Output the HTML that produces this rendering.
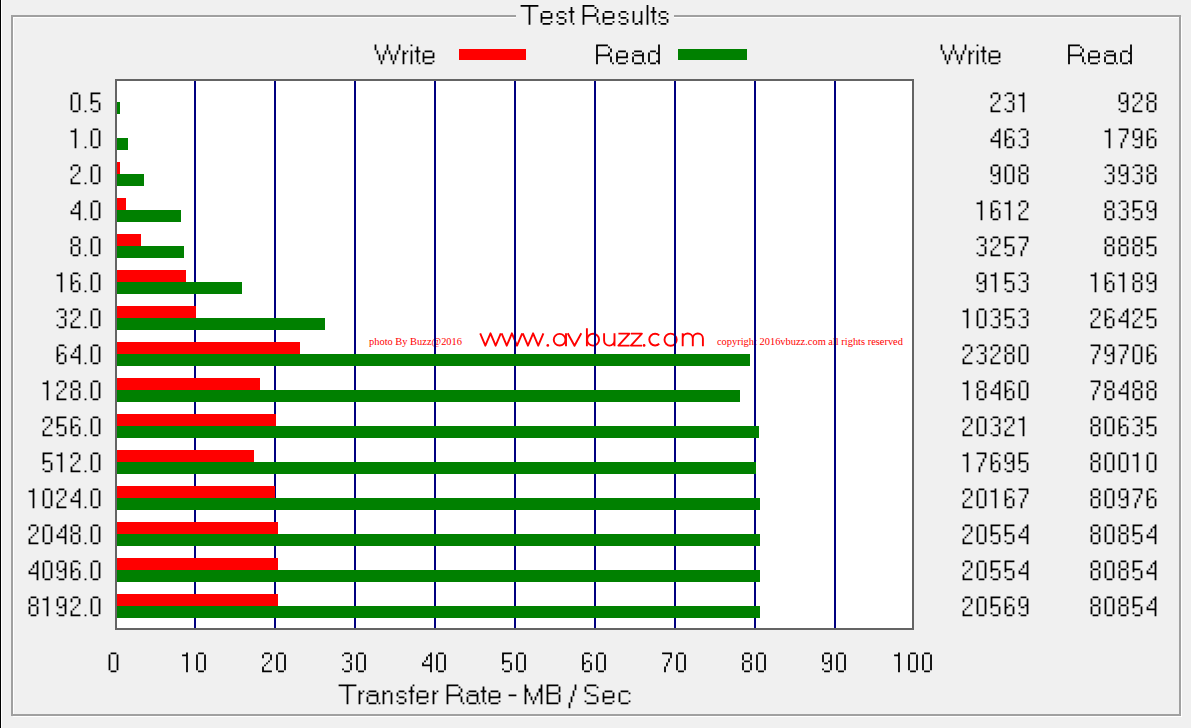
<!DOCTYPE html>
<html><head><meta charset="utf-8"><style>
html,body{margin:0;padding:0;}
body{width:1191px;height:728px;overflow:hidden;background:#f0f0f0;position:relative;font-family:"Liberation Sans",sans-serif;}
.t{position:absolute;white-space:nowrap;line-height:1;transform-origin:0 0;}
.r{position:absolute;}
svg.txt{position:absolute;left:0;top:0;width:1191px;height:728px;}
</style></head><body>
<div class="r" style="left:0;top:0;width:1px;height:728px;background:#000"></div>
<div class="r" style="left:1px;top:0;width:1px;height:728px;background:#fff"></div>
<div class="r" style="left:13px;top:17px;width:1169px;height:700px;border:1px solid #fff;box-sizing:border-box"></div>
<div class="r" style="left:11px;top:15px;width:1170px;height:701px;border:2px solid #a0a0a0;box-sizing:border-box"></div>
<div class="r" style="left:516px;top:8px;width:158px;height:14px;background:#f0f0f0"></div>
<div class="r" style="left:459px;top:49px;width:67px;height:11px;background:#f00"></div>
<div class="r" style="left:678px;top:49px;width:69px;height:11px;background:#008000"></div>
<div class="r" style="left:115px;top:79px;width:799px;height:551px;background:#fff;border:2px solid #646464;box-sizing:border-box"></div>
<div class="t" style="left:369.39px;top:337.28px;font-size:10.60px;font-family:&quot;Liberation Serif&quot;;transform:scaleX(0.9838);color:#f00;-webkit-text-stroke:0">photo By Buzz@2016</div>
<svg class="txt" viewBox="0 0 1191 728"><path fill="none" stroke="#f00" stroke-width="1.9" stroke-linejoin="round" d="M480.20,333.30 L485.35,345.70 L490.50,333.30 L495.65,345.70 L500.80,333.30 M501.60,333.30 L506.75,345.70 L511.90,333.30 L517.05,345.70 L522.20,333.30 M522.80,333.30 L527.95,345.70 L533.10,333.30 L538.25,345.70 L543.40,333.30 M566,333.2 V346.3 M581.3,333.3 L574.5,345.8 L567.7,333.3 M586.9,328.3 V346.3 M604.1,333.3 V340.4 A5.2,5.2 0 0 0 614.5,340.4 V333.3 M614.5,340 V346.3 M618.4,333.6 H629.4 L618.4,345.6 H629.6 M630.9,333.6 H641.9 L630.9,345.6 H642.1 M659.2,335.4 A5.85,5.85 0 1 0 659.2,343.8 M682.7,346.3 V333.3 M682.7,338.6 A5.05,5.05 0 0 1 692.8,338.6 V346.3 M692.8,338.6 A5.05,5.05 0 0 1 702.9,338.6 V346.3"/><circle cx="559.6" cy="339.7" r="5.85" fill="none" stroke="#f00" stroke-width="1.9"/><circle cx="593.1" cy="339.7" r="5.95" fill="none" stroke="#f00" stroke-width="1.9"/><circle cx="670.6" cy="339.7" r="6.1" fill="none" stroke="#f00" stroke-width="1.9"/><circle cx="547.8" cy="345.4" r="1.35" fill="#f00"/><circle cx="644.1" cy="345.4" r="1.35" fill="#f00"/></svg>
<div class="t" style="left:717.18px;top:337.46px;font-size:10.40px;font-family:&quot;Liberation Serif&quot;;transform:scaleX(1.0021);color:#f00;-webkit-text-stroke:0">copyright 2016vbuzz.com all rights reserved</div>
<div class="r" style="left:194px;top:81px;width:2px;height:547px;background:#000080"></div>
<div class="r" style="left:274px;top:81px;width:2px;height:547px;background:#000080"></div>
<div class="r" style="left:354px;top:81px;width:2px;height:547px;background:#000080"></div>
<div class="r" style="left:434px;top:81px;width:2px;height:547px;background:#000080"></div>
<div class="r" style="left:514px;top:81px;width:2px;height:547px;background:#000080"></div>
<div class="r" style="left:594px;top:81px;width:2px;height:547px;background:#000080"></div>
<div class="r" style="left:674px;top:81px;width:2px;height:547px;background:#000080"></div>
<div class="r" style="left:754px;top:81px;width:2px;height:547px;background:#000080"></div>
<div class="r" style="left:834px;top:81px;width:2px;height:547px;background:#000080"></div>
<div class="r" style="left:117px;top:102px;width:3px;height:12px;background:#008000"></div>
<div class="r" style="left:117px;top:138px;width:11px;height:12px;background:#008000"></div>
<div class="r" style="left:117px;top:162px;width:3px;height:12px;background:#f00"></div>
<div class="r" style="left:117px;top:174px;width:27px;height:12px;background:#008000"></div>
<div class="r" style="left:117px;top:198px;width:9px;height:12px;background:#f00"></div>
<div class="r" style="left:117px;top:210px;width:64px;height:12px;background:#008000"></div>
<div class="r" style="left:117px;top:234px;width:24px;height:12px;background:#f00"></div>
<div class="r" style="left:117px;top:246px;width:67px;height:12px;background:#008000"></div>
<div class="r" style="left:117px;top:270px;width:69px;height:12px;background:#f00"></div>
<div class="r" style="left:117px;top:282px;width:125px;height:12px;background:#008000"></div>
<div class="r" style="left:117px;top:306px;width:79px;height:12px;background:#f00"></div>
<div class="r" style="left:117px;top:318px;width:208px;height:12px;background:#008000"></div>
<div class="r" style="left:117px;top:342px;width:183px;height:12px;background:#f00"></div>
<div class="r" style="left:117px;top:354px;width:633px;height:12px;background:#008000"></div>
<div class="r" style="left:117px;top:378px;width:143px;height:12px;background:#f00"></div>
<div class="r" style="left:117px;top:390px;width:623px;height:12px;background:#008000"></div>
<div class="r" style="left:117px;top:414px;width:159px;height:12px;background:#f00"></div>
<div class="r" style="left:117px;top:426px;width:642px;height:12px;background:#008000"></div>
<div class="r" style="left:117px;top:450px;width:137px;height:12px;background:#f00"></div>
<div class="r" style="left:117px;top:462px;width:639px;height:12px;background:#008000"></div>
<div class="r" style="left:117px;top:486px;width:158px;height:12px;background:#f00"></div>
<div class="r" style="left:117px;top:498px;width:643px;height:12px;background:#008000"></div>
<div class="r" style="left:117px;top:522px;width:161px;height:12px;background:#f00"></div>
<div class="r" style="left:117px;top:534px;width:643px;height:12px;background:#008000"></div>
<div class="r" style="left:117px;top:558px;width:161px;height:12px;background:#f00"></div>
<div class="r" style="left:117px;top:570px;width:643px;height:12px;background:#008000"></div>
<div class="r" style="left:117px;top:594px;width:161px;height:12px;background:#f00"></div>
<div class="r" style="left:117px;top:606px;width:643px;height:12px;background:#008000"></div>
<svg class="txt" viewBox="0 0 1191 728"><path fill="#000" d="M520.6 5h17.8v1.8h-17.8zM528.6 7h1.8v1.8h-1.8zM528.6 9h1.8v1.8h-1.8zM528.6 11h1.8v1.8h-1.8zM528.6 13h1.8v1.8h-1.8zM528.6 15h1.8v1.8h-1.8zM528.6 17h1.8v1.8h-1.8zM528.6 19h1.8v1.8h-1.8zM528.6 21h1.8v1.8h-1.8zM528.6 23h1.8v1.8h-1.8zM528.6 10.8h1.8v0.2h-1.8zM528.6 14.8h1.8v0.2h-1.8zM528.6 6.8h1.8v0.2h-1.8zM528.6 12.8h1.8v0.2h-1.8zM528.6 20.8h1.8v0.2h-1.8zM528.6 22.8h1.8v0.2h-1.8zM528.6 16.8h1.8v0.2h-1.8zM528.6 18.8h1.8v0.2h-1.8zM528.6 8.8h1.8v0.2h-1.8zM542.6 11h7.8v1.8h-7.8zM540.6 13h1.8v1.8h-1.8zM550.6 13h1.8v1.8h-1.8zM540.6 15h1.8v1.8h-1.8zM550.6 15h1.8v1.8h-1.8zM540.6 17h11.8v1.8h-11.8zM540.6 19h1.8v1.8h-1.8zM540.6 21h1.8v1.8h-1.8zM550.6 21h1.8v1.8h-1.8zM542.6 23h7.8v1.8h-7.8zM540.6 20.8h1.8v0.2h-1.8zM540.6 14.8h1.8v0.2h-1.8zM550.6 16.8h1.8v0.2h-1.8zM540.6 18.8h1.8v0.2h-1.8zM550.6 14.8h1.8v0.2h-1.8zM540.6 16.8h1.8v0.2h-1.8zM558.6 11h5.8v1.8h-5.8zM556.6 13h1.8v1.8h-1.8zM564.6 13h1.8v1.8h-1.8zM556.6 15h1.8v1.8h-1.8zM558.6 17h5.8v1.8h-5.8zM564.6 19h1.8v1.8h-1.8zM556.6 21h1.8v1.8h-1.8zM564.6 21h1.8v1.8h-1.8zM558.6 23h5.8v1.8h-5.8zM564.6 20.8h1.8v0.2h-1.8zM556.6 14.8h1.8v0.2h-1.8zM570.6 7h1.8v1.8h-1.8zM570.6 9h1.8v1.8h-1.8zM568.6 11h5.8v1.8h-5.8zM570.6 13h1.8v1.8h-1.8zM570.6 15h1.8v1.8h-1.8zM570.6 17h1.8v1.8h-1.8zM570.6 19h1.8v1.8h-1.8zM570.6 21h1.8v1.8h-1.8zM572.6 23h1.8v1.8h-1.8zM570.6 8.8h1.8v0.2h-1.8zM570.6 12.8h1.8v0.2h-1.8zM570.6 14.8h1.8v0.2h-1.8zM570.6 20.8h1.8v0.2h-1.8zM570.6 10.8h1.8v0.2h-1.8zM570.6 18.8h1.8v0.2h-1.8zM570.6 16.8h1.8v0.2h-1.8zM582.6 5h11.8v1.8h-11.8zM582.6 7h1.8v1.8h-1.8zM594.6 7h1.8v1.8h-1.8zM582.6 9h1.8v1.8h-1.8zM596.6 9h1.8v1.8h-1.8zM582.6 11h1.8v1.8h-1.8zM596.6 11h1.8v1.8h-1.8zM582.6 13h1.8v1.8h-1.8zM594.6 13h1.8v1.8h-1.8zM582.6 15h13.8v1.8h-13.8zM582.6 17h1.8v1.8h-1.8zM596.6 17h1.8v1.8h-1.8zM582.6 19h1.8v1.8h-1.8zM596.6 19h1.8v1.8h-1.8zM582.6 21h1.8v1.8h-1.8zM596.6 21h1.8v1.8h-1.8zM582.6 23h1.8v1.8h-1.8zM598.6 23h1.8v1.8h-1.8zM582.6 14.8h1.8v0.2h-1.8zM594.6 14.8h1.8v0.2h-1.8zM582.6 22.8h1.8v0.2h-1.8zM582.6 8.8h1.8v0.2h-1.8zM596.6 20.8h1.8v0.2h-1.8zM582.6 12.8h1.8v0.2h-1.8zM582.6 16.8h1.8v0.2h-1.8zM596.6 10.8h1.8v0.2h-1.8zM582.6 20.8h1.8v0.2h-1.8zM596.6 18.8h1.8v0.2h-1.8zM582.6 6.8h1.8v0.2h-1.8zM582.6 10.8h1.8v0.2h-1.8zM582.6 18.8h1.8v0.2h-1.8zM604.6 11h7.8v1.8h-7.8zM602.6 13h1.8v1.8h-1.8zM612.6 13h1.8v1.8h-1.8zM602.6 15h1.8v1.8h-1.8zM612.6 15h1.8v1.8h-1.8zM602.6 17h11.8v1.8h-11.8zM602.6 19h1.8v1.8h-1.8zM602.6 21h1.8v1.8h-1.8zM612.6 21h1.8v1.8h-1.8zM604.6 23h7.8v1.8h-7.8zM602.6 20.8h1.8v0.2h-1.8zM602.6 14.8h1.8v0.2h-1.8zM612.6 16.8h1.8v0.2h-1.8zM602.6 18.8h1.8v0.2h-1.8zM612.6 14.8h1.8v0.2h-1.8zM602.6 16.8h1.8v0.2h-1.8zM620.6 11h5.8v1.8h-5.8zM618.6 13h1.8v1.8h-1.8zM626.6 13h1.8v1.8h-1.8zM618.6 15h1.8v1.8h-1.8zM620.6 17h5.8v1.8h-5.8zM626.6 19h1.8v1.8h-1.8zM618.6 21h1.8v1.8h-1.8zM626.6 21h1.8v1.8h-1.8zM620.6 23h5.8v1.8h-5.8zM626.6 20.8h1.8v0.2h-1.8zM618.6 14.8h1.8v0.2h-1.8zM632.6 11h1.8v1.8h-1.8zM640.6 11h1.8v1.8h-1.8zM632.6 13h1.8v1.8h-1.8zM640.6 13h1.8v1.8h-1.8zM632.6 15h1.8v1.8h-1.8zM640.6 15h1.8v1.8h-1.8zM632.6 17h1.8v1.8h-1.8zM640.6 17h1.8v1.8h-1.8zM632.6 19h1.8v1.8h-1.8zM640.6 19h1.8v1.8h-1.8zM632.6 21h1.8v1.8h-1.8zM638.6 21h3.8v1.8h-3.8zM634.6 23h3.8v1.8h-3.8zM640.6 23h1.8v1.8h-1.8zM640.6 20.8h1.8v0.2h-1.8zM640.6 16.8h1.8v0.2h-1.8zM632.6 20.8h1.8v0.2h-1.8zM640.6 12.8h1.8v0.2h-1.8zM640.6 18.8h1.8v0.2h-1.8zM632.6 12.8h1.8v0.2h-1.8zM640.6 22.8h1.8v0.2h-1.8zM632.6 16.8h1.8v0.2h-1.8zM640.6 14.8h1.8v0.2h-1.8zM632.6 18.8h1.8v0.2h-1.8zM632.6 14.8h1.8v0.2h-1.8zM646.6 5h1.8v1.8h-1.8zM646.6 7h1.8v1.8h-1.8zM646.6 9h1.8v1.8h-1.8zM646.6 11h1.8v1.8h-1.8zM646.6 13h1.8v1.8h-1.8zM646.6 15h1.8v1.8h-1.8zM646.6 17h1.8v1.8h-1.8zM646.6 19h1.8v1.8h-1.8zM646.6 21h1.8v1.8h-1.8zM646.6 23h1.8v1.8h-1.8zM646.6 14.8h1.8v0.2h-1.8zM646.6 6.8h1.8v0.2h-1.8zM646.6 20.8h1.8v0.2h-1.8zM646.6 10.8h1.8v0.2h-1.8zM646.6 22.8h1.8v0.2h-1.8zM646.6 12.8h1.8v0.2h-1.8zM646.6 16.8h1.8v0.2h-1.8zM646.6 18.8h1.8v0.2h-1.8zM646.6 8.8h1.8v0.2h-1.8zM652.6 7h1.8v1.8h-1.8zM652.6 9h1.8v1.8h-1.8zM650.6 11h5.8v1.8h-5.8zM652.6 13h1.8v1.8h-1.8zM652.6 15h1.8v1.8h-1.8zM652.6 17h1.8v1.8h-1.8zM652.6 19h1.8v1.8h-1.8zM652.6 21h1.8v1.8h-1.8zM654.6 23h1.8v1.8h-1.8zM652.6 8.8h1.8v0.2h-1.8zM652.6 12.8h1.8v0.2h-1.8zM652.6 14.8h1.8v0.2h-1.8zM652.6 20.8h1.8v0.2h-1.8zM652.6 10.8h1.8v0.2h-1.8zM652.6 18.8h1.8v0.2h-1.8zM652.6 16.8h1.8v0.2h-1.8zM660.6 11h5.8v1.8h-5.8zM658.6 13h1.8v1.8h-1.8zM666.6 13h1.8v1.8h-1.8zM658.6 15h1.8v1.8h-1.8zM660.6 17h5.8v1.8h-5.8zM666.6 19h1.8v1.8h-1.8zM658.6 21h1.8v1.8h-1.8zM666.6 21h1.8v1.8h-1.8zM660.6 23h5.8v1.8h-5.8zM666.6 20.8h1.8v0.2h-1.8zM658.6 14.8h1.8v0.2h-1.8zM374.6 44.5h1.8v1.8h-1.8zM386.6 44.5h1.8v1.8h-1.8zM398.6 44.5h1.8v1.8h-1.8zM374.6 46.5h1.8v1.8h-1.8zM386.6 46.5h1.8v1.8h-1.8zM398.6 46.5h1.8v1.8h-1.8zM374.6 48.5h1.8v1.8h-1.8zM386.6 48.5h1.8v1.8h-1.8zM398.6 48.5h1.8v1.8h-1.8zM376.6 50.5h1.8v1.8h-1.8zM384.6 50.5h1.8v1.8h-1.8zM388.6 50.5h1.8v1.8h-1.8zM396.6 50.5h1.8v1.8h-1.8zM376.6 52.5h1.8v1.8h-1.8zM384.6 52.5h1.8v1.8h-1.8zM388.6 52.5h1.8v1.8h-1.8zM396.6 52.5h1.8v1.8h-1.8zM378.6 54.5h1.8v1.8h-1.8zM382.6 54.5h1.8v1.8h-1.8zM390.6 54.5h1.8v1.8h-1.8zM394.6 54.5h1.8v1.8h-1.8zM378.6 56.5h1.8v1.8h-1.8zM382.6 56.5h1.8v1.8h-1.8zM390.6 56.5h1.8v1.8h-1.8zM394.6 56.5h1.8v1.8h-1.8zM378.6 58.5h1.8v1.8h-1.8zM382.6 58.5h1.8v1.8h-1.8zM390.6 58.5h1.8v1.8h-1.8zM394.6 58.5h1.8v1.8h-1.8zM380.6 60.5h1.8v1.8h-1.8zM392.6 60.5h1.8v1.8h-1.8zM380.6 62.5h1.8v1.8h-1.8zM392.6 62.5h1.8v1.8h-1.8zM376.6 52.3h1.8v0.2h-1.8zM388.6 52.3h1.8v0.2h-1.8zM382.6 56.3h1.8v0.2h-1.8zM394.6 56.3h1.8v0.2h-1.8zM380.6 62.3h1.8v0.2h-1.8zM392.6 62.3h1.8v0.2h-1.8zM374.6 48.3h1.8v0.2h-1.8zM386.6 48.3h1.8v0.2h-1.8zM398.6 48.3h1.8v0.2h-1.8zM378.6 58.3h1.8v0.2h-1.8zM390.6 58.3h1.8v0.2h-1.8zM382.6 58.3h1.8v0.2h-1.8zM394.6 58.3h1.8v0.2h-1.8zM384.6 52.3h1.8v0.2h-1.8zM378.6 56.3h1.8v0.2h-1.8zM396.6 52.3h1.8v0.2h-1.8zM374.6 46.3h1.8v0.2h-1.8zM390.6 56.3h1.8v0.2h-1.8zM386.6 46.3h1.8v0.2h-1.8zM398.6 46.3h1.8v0.2h-1.8zM402.6 50.5h1.8v1.8h-1.8zM406.6 50.5h1.8v1.8h-1.8zM402.6 52.5h3.8v1.8h-3.8zM402.6 54.5h1.8v1.8h-1.8zM402.6 56.5h1.8v1.8h-1.8zM402.6 58.5h1.8v1.8h-1.8zM402.6 60.5h1.8v1.8h-1.8zM402.6 62.5h1.8v1.8h-1.8zM402.6 60.3h1.8v0.2h-1.8zM402.6 52.3h1.8v0.2h-1.8zM402.6 56.3h1.8v0.2h-1.8zM402.6 58.3h1.8v0.2h-1.8zM402.6 62.3h1.8v0.2h-1.8zM402.6 54.3h1.8v0.2h-1.8zM410.6 44.5h1.8v1.8h-1.8zM410.6 50.5h1.8v1.8h-1.8zM410.6 52.5h1.8v1.8h-1.8zM410.6 54.5h1.8v1.8h-1.8zM410.6 56.5h1.8v1.8h-1.8zM410.6 58.5h1.8v1.8h-1.8zM410.6 60.5h1.8v1.8h-1.8zM410.6 62.5h1.8v1.8h-1.8zM410.6 54.3h1.8v0.2h-1.8zM410.6 60.3h1.8v0.2h-1.8zM410.6 62.3h1.8v0.2h-1.8zM410.6 52.3h1.8v0.2h-1.8zM410.6 56.3h1.8v0.2h-1.8zM410.6 58.3h1.8v0.2h-1.8zM416.6 46.5h1.8v1.8h-1.8zM416.6 48.5h1.8v1.8h-1.8zM414.6 50.5h5.8v1.8h-5.8zM416.6 52.5h1.8v1.8h-1.8zM416.6 54.5h1.8v1.8h-1.8zM416.6 56.5h1.8v1.8h-1.8zM416.6 58.5h1.8v1.8h-1.8zM416.6 60.5h1.8v1.8h-1.8zM418.6 62.5h1.8v1.8h-1.8zM416.6 48.3h1.8v0.2h-1.8zM416.6 52.3h1.8v0.2h-1.8zM416.6 54.3h1.8v0.2h-1.8zM416.6 60.3h1.8v0.2h-1.8zM416.6 50.3h1.8v0.2h-1.8zM416.6 58.3h1.8v0.2h-1.8zM416.6 56.3h1.8v0.2h-1.8zM424.6 50.5h7.8v1.8h-7.8zM422.6 52.5h1.8v1.8h-1.8zM432.6 52.5h1.8v1.8h-1.8zM422.6 54.5h1.8v1.8h-1.8zM432.6 54.5h1.8v1.8h-1.8zM422.6 56.5h11.8v1.8h-11.8zM422.6 58.5h1.8v1.8h-1.8zM422.6 60.5h1.8v1.8h-1.8zM432.6 60.5h1.8v1.8h-1.8zM424.6 62.5h7.8v1.8h-7.8zM422.6 60.3h1.8v0.2h-1.8zM422.6 54.3h1.8v0.2h-1.8zM432.6 56.3h1.8v0.2h-1.8zM422.6 58.3h1.8v0.2h-1.8zM432.6 54.3h1.8v0.2h-1.8zM422.6 56.3h1.8v0.2h-1.8zM596.1 44.5h11.8v1.8h-11.8zM596.1 46.5h1.8v1.8h-1.8zM608.1 46.5h1.8v1.8h-1.8zM596.1 48.5h1.8v1.8h-1.8zM610.1 48.5h1.8v1.8h-1.8zM596.1 50.5h1.8v1.8h-1.8zM610.1 50.5h1.8v1.8h-1.8zM596.1 52.5h1.8v1.8h-1.8zM608.1 52.5h1.8v1.8h-1.8zM596.1 54.5h13.8v1.8h-13.8zM596.1 56.5h1.8v1.8h-1.8zM610.1 56.5h1.8v1.8h-1.8zM596.1 58.5h1.8v1.8h-1.8zM610.1 58.5h1.8v1.8h-1.8zM596.1 60.5h1.8v1.8h-1.8zM610.1 60.5h1.8v1.8h-1.8zM596.1 62.5h1.8v1.8h-1.8zM612.1 62.5h1.8v1.8h-1.8zM596.1 54.3h1.8v0.2h-1.8zM608.1 54.3h1.8v0.2h-1.8zM596.1 62.3h1.8v0.2h-1.8zM596.1 48.3h1.8v0.2h-1.8zM610.1 60.3h1.8v0.2h-1.8zM596.1 52.3h1.8v0.2h-1.8zM596.1 56.3h1.8v0.2h-1.8zM610.1 50.3h1.8v0.2h-1.8zM596.1 60.3h1.8v0.2h-1.8zM610.1 58.3h1.8v0.2h-1.8zM596.1 46.3h1.8v0.2h-1.8zM596.1 50.3h1.8v0.2h-1.8zM596.1 58.3h1.8v0.2h-1.8zM618.1 50.5h7.8v1.8h-7.8zM616.1 52.5h1.8v1.8h-1.8zM626.1 52.5h1.8v1.8h-1.8zM616.1 54.5h1.8v1.8h-1.8zM626.1 54.5h1.8v1.8h-1.8zM616.1 56.5h11.8v1.8h-11.8zM616.1 58.5h1.8v1.8h-1.8zM616.1 60.5h1.8v1.8h-1.8zM626.1 60.5h1.8v1.8h-1.8zM618.1 62.5h7.8v1.8h-7.8zM616.1 60.3h1.8v0.2h-1.8zM616.1 54.3h1.8v0.2h-1.8zM626.1 56.3h1.8v0.2h-1.8zM616.1 58.3h1.8v0.2h-1.8zM626.1 54.3h1.8v0.2h-1.8zM616.1 56.3h1.8v0.2h-1.8zM634.1 50.5h7.8v1.8h-7.8zM632.1 52.5h1.8v1.8h-1.8zM642.1 52.5h1.8v1.8h-1.8zM634.1 54.5h9.8v1.8h-9.8zM632.1 56.5h1.8v1.8h-1.8zM642.1 56.5h1.8v1.8h-1.8zM632.1 58.5h1.8v1.8h-1.8zM642.1 58.5h1.8v1.8h-1.8zM632.1 60.5h1.8v1.8h-1.8zM642.1 60.5h1.8v1.8h-1.8zM634.1 62.5h7.8v1.8h-7.8zM644.1 62.5h1.8v1.8h-1.8zM632.1 60.3h1.8v0.2h-1.8zM642.1 56.3h1.8v0.2h-1.8zM632.1 58.3h1.8v0.2h-1.8zM642.1 60.3h1.8v0.2h-1.8zM642.1 54.3h1.8v0.2h-1.8zM642.1 58.3h1.8v0.2h-1.8zM658.1 44.5h1.8v1.8h-1.8zM658.1 46.5h1.8v1.8h-1.8zM658.1 48.5h1.8v1.8h-1.8zM650.1 50.5h5.8v1.8h-5.8zM658.1 50.5h1.8v1.8h-1.8zM648.1 52.5h1.8v1.8h-1.8zM656.1 52.5h3.8v1.8h-3.8zM648.1 54.5h1.8v1.8h-1.8zM658.1 54.5h1.8v1.8h-1.8zM648.1 56.5h1.8v1.8h-1.8zM658.1 56.5h1.8v1.8h-1.8zM648.1 58.5h1.8v1.8h-1.8zM658.1 58.5h1.8v1.8h-1.8zM648.1 60.5h1.8v1.8h-1.8zM656.1 60.5h3.8v1.8h-3.8zM650.1 62.5h5.8v1.8h-5.8zM658.1 62.5h1.8v1.8h-1.8zM648.1 54.3h1.8v0.2h-1.8zM658.1 46.3h1.8v0.2h-1.8zM658.1 50.3h1.8v0.2h-1.8zM658.1 58.3h1.8v0.2h-1.8zM658.1 54.3h1.8v0.2h-1.8zM648.1 56.3h1.8v0.2h-1.8zM658.1 62.3h1.8v0.2h-1.8zM658.1 48.3h1.8v0.2h-1.8zM648.1 60.3h1.8v0.2h-1.8zM658.1 52.3h1.8v0.2h-1.8zM658.1 56.3h1.8v0.2h-1.8zM648.1 58.3h1.8v0.2h-1.8zM658.1 60.3h1.8v0.2h-1.8zM940.6 44.5h1.8v1.8h-1.8zM952.6 44.5h1.8v1.8h-1.8zM964.6 44.5h1.8v1.8h-1.8zM940.6 46.5h1.8v1.8h-1.8zM952.6 46.5h1.8v1.8h-1.8zM964.6 46.5h1.8v1.8h-1.8zM940.6 48.5h1.8v1.8h-1.8zM952.6 48.5h1.8v1.8h-1.8zM964.6 48.5h1.8v1.8h-1.8zM942.6 50.5h1.8v1.8h-1.8zM950.6 50.5h1.8v1.8h-1.8zM954.6 50.5h1.8v1.8h-1.8zM962.6 50.5h1.8v1.8h-1.8zM942.6 52.5h1.8v1.8h-1.8zM950.6 52.5h1.8v1.8h-1.8zM954.6 52.5h1.8v1.8h-1.8zM962.6 52.5h1.8v1.8h-1.8zM944.6 54.5h1.8v1.8h-1.8zM948.6 54.5h1.8v1.8h-1.8zM956.6 54.5h1.8v1.8h-1.8zM960.6 54.5h1.8v1.8h-1.8zM944.6 56.5h1.8v1.8h-1.8zM948.6 56.5h1.8v1.8h-1.8zM956.6 56.5h1.8v1.8h-1.8zM960.6 56.5h1.8v1.8h-1.8zM944.6 58.5h1.8v1.8h-1.8zM948.6 58.5h1.8v1.8h-1.8zM956.6 58.5h1.8v1.8h-1.8zM960.6 58.5h1.8v1.8h-1.8zM946.6 60.5h1.8v1.8h-1.8zM958.6 60.5h1.8v1.8h-1.8zM946.6 62.5h1.8v1.8h-1.8zM958.6 62.5h1.8v1.8h-1.8zM942.6 52.3h1.8v0.2h-1.8zM954.6 52.3h1.8v0.2h-1.8zM948.6 56.3h1.8v0.2h-1.8zM960.6 56.3h1.8v0.2h-1.8zM946.6 62.3h1.8v0.2h-1.8zM958.6 62.3h1.8v0.2h-1.8zM940.6 48.3h1.8v0.2h-1.8zM952.6 48.3h1.8v0.2h-1.8zM964.6 48.3h1.8v0.2h-1.8zM944.6 58.3h1.8v0.2h-1.8zM956.6 58.3h1.8v0.2h-1.8zM948.6 58.3h1.8v0.2h-1.8zM960.6 58.3h1.8v0.2h-1.8zM950.6 52.3h1.8v0.2h-1.8zM944.6 56.3h1.8v0.2h-1.8zM962.6 52.3h1.8v0.2h-1.8zM940.6 46.3h1.8v0.2h-1.8zM956.6 56.3h1.8v0.2h-1.8zM952.6 46.3h1.8v0.2h-1.8zM964.6 46.3h1.8v0.2h-1.8zM968.6 50.5h1.8v1.8h-1.8zM972.6 50.5h1.8v1.8h-1.8zM968.6 52.5h3.8v1.8h-3.8zM968.6 54.5h1.8v1.8h-1.8zM968.6 56.5h1.8v1.8h-1.8zM968.6 58.5h1.8v1.8h-1.8zM968.6 60.5h1.8v1.8h-1.8zM968.6 62.5h1.8v1.8h-1.8zM968.6 60.3h1.8v0.2h-1.8zM968.6 52.3h1.8v0.2h-1.8zM968.6 56.3h1.8v0.2h-1.8zM968.6 58.3h1.8v0.2h-1.8zM968.6 62.3h1.8v0.2h-1.8zM968.6 54.3h1.8v0.2h-1.8zM976.6 44.5h1.8v1.8h-1.8zM976.6 50.5h1.8v1.8h-1.8zM976.6 52.5h1.8v1.8h-1.8zM976.6 54.5h1.8v1.8h-1.8zM976.6 56.5h1.8v1.8h-1.8zM976.6 58.5h1.8v1.8h-1.8zM976.6 60.5h1.8v1.8h-1.8zM976.6 62.5h1.8v1.8h-1.8zM976.6 54.3h1.8v0.2h-1.8zM976.6 60.3h1.8v0.2h-1.8zM976.6 62.3h1.8v0.2h-1.8zM976.6 52.3h1.8v0.2h-1.8zM976.6 56.3h1.8v0.2h-1.8zM976.6 58.3h1.8v0.2h-1.8zM982.6 46.5h1.8v1.8h-1.8zM982.6 48.5h1.8v1.8h-1.8zM980.6 50.5h5.8v1.8h-5.8zM982.6 52.5h1.8v1.8h-1.8zM982.6 54.5h1.8v1.8h-1.8zM982.6 56.5h1.8v1.8h-1.8zM982.6 58.5h1.8v1.8h-1.8zM982.6 60.5h1.8v1.8h-1.8zM984.6 62.5h1.8v1.8h-1.8zM982.6 48.3h1.8v0.2h-1.8zM982.6 52.3h1.8v0.2h-1.8zM982.6 54.3h1.8v0.2h-1.8zM982.6 60.3h1.8v0.2h-1.8zM982.6 50.3h1.8v0.2h-1.8zM982.6 58.3h1.8v0.2h-1.8zM982.6 56.3h1.8v0.2h-1.8zM990.6 50.5h7.8v1.8h-7.8zM988.6 52.5h1.8v1.8h-1.8zM998.6 52.5h1.8v1.8h-1.8zM988.6 54.5h1.8v1.8h-1.8zM998.6 54.5h1.8v1.8h-1.8zM988.6 56.5h11.8v1.8h-11.8zM988.6 58.5h1.8v1.8h-1.8zM988.6 60.5h1.8v1.8h-1.8zM998.6 60.5h1.8v1.8h-1.8zM990.6 62.5h7.8v1.8h-7.8zM988.6 60.3h1.8v0.2h-1.8zM988.6 54.3h1.8v0.2h-1.8zM998.6 56.3h1.8v0.2h-1.8zM988.6 58.3h1.8v0.2h-1.8zM998.6 54.3h1.8v0.2h-1.8zM988.6 56.3h1.8v0.2h-1.8zM1068.1 44.5h11.8v1.8h-11.8zM1068.1 46.5h1.8v1.8h-1.8zM1080.1 46.5h1.8v1.8h-1.8zM1068.1 48.5h1.8v1.8h-1.8zM1082.1 48.5h1.8v1.8h-1.8zM1068.1 50.5h1.8v1.8h-1.8zM1082.1 50.5h1.8v1.8h-1.8zM1068.1 52.5h1.8v1.8h-1.8zM1080.1 52.5h1.8v1.8h-1.8zM1068.1 54.5h13.8v1.8h-13.8zM1068.1 56.5h1.8v1.8h-1.8zM1082.1 56.5h1.8v1.8h-1.8zM1068.1 58.5h1.8v1.8h-1.8zM1082.1 58.5h1.8v1.8h-1.8zM1068.1 60.5h1.8v1.8h-1.8zM1082.1 60.5h1.8v1.8h-1.8zM1068.1 62.5h1.8v1.8h-1.8zM1084.1 62.5h1.8v1.8h-1.8zM1068.1 54.3h1.8v0.2h-1.8zM1080.1 54.3h1.8v0.2h-1.8zM1068.1 62.3h1.8v0.2h-1.8zM1068.1 48.3h1.8v0.2h-1.8zM1082.1 60.3h1.8v0.2h-1.8zM1068.1 52.3h1.8v0.2h-1.8zM1068.1 56.3h1.8v0.2h-1.8zM1082.1 50.3h1.8v0.2h-1.8zM1068.1 60.3h1.8v0.2h-1.8zM1082.1 58.3h1.8v0.2h-1.8zM1068.1 46.3h1.8v0.2h-1.8zM1068.1 50.3h1.8v0.2h-1.8zM1068.1 58.3h1.8v0.2h-1.8zM1090.1 50.5h7.8v1.8h-7.8zM1088.1 52.5h1.8v1.8h-1.8zM1098.1 52.5h1.8v1.8h-1.8zM1088.1 54.5h1.8v1.8h-1.8zM1098.1 54.5h1.8v1.8h-1.8zM1088.1 56.5h11.8v1.8h-11.8zM1088.1 58.5h1.8v1.8h-1.8zM1088.1 60.5h1.8v1.8h-1.8zM1098.1 60.5h1.8v1.8h-1.8zM1090.1 62.5h7.8v1.8h-7.8zM1088.1 60.3h1.8v0.2h-1.8zM1088.1 54.3h1.8v0.2h-1.8zM1098.1 56.3h1.8v0.2h-1.8zM1088.1 58.3h1.8v0.2h-1.8zM1098.1 54.3h1.8v0.2h-1.8zM1088.1 56.3h1.8v0.2h-1.8zM1106.1 50.5h7.8v1.8h-7.8zM1104.1 52.5h1.8v1.8h-1.8zM1114.1 52.5h1.8v1.8h-1.8zM1106.1 54.5h9.8v1.8h-9.8zM1104.1 56.5h1.8v1.8h-1.8zM1114.1 56.5h1.8v1.8h-1.8zM1104.1 58.5h1.8v1.8h-1.8zM1114.1 58.5h1.8v1.8h-1.8zM1104.1 60.5h1.8v1.8h-1.8zM1114.1 60.5h1.8v1.8h-1.8zM1106.1 62.5h7.8v1.8h-7.8zM1116.1 62.5h1.8v1.8h-1.8zM1104.1 60.3h1.8v0.2h-1.8zM1114.1 56.3h1.8v0.2h-1.8zM1104.1 58.3h1.8v0.2h-1.8zM1114.1 60.3h1.8v0.2h-1.8zM1114.1 54.3h1.8v0.2h-1.8zM1114.1 58.3h1.8v0.2h-1.8zM1130.1 44.5h1.8v1.8h-1.8zM1130.1 46.5h1.8v1.8h-1.8zM1130.1 48.5h1.8v1.8h-1.8zM1122.1 50.5h5.8v1.8h-5.8zM1130.1 50.5h1.8v1.8h-1.8zM1120.1 52.5h1.8v1.8h-1.8zM1128.1 52.5h3.8v1.8h-3.8zM1120.1 54.5h1.8v1.8h-1.8zM1130.1 54.5h1.8v1.8h-1.8zM1120.1 56.5h1.8v1.8h-1.8zM1130.1 56.5h1.8v1.8h-1.8zM1120.1 58.5h1.8v1.8h-1.8zM1130.1 58.5h1.8v1.8h-1.8zM1120.1 60.5h1.8v1.8h-1.8zM1128.1 60.5h3.8v1.8h-3.8zM1122.1 62.5h5.8v1.8h-5.8zM1130.1 62.5h1.8v1.8h-1.8zM1120.1 54.3h1.8v0.2h-1.8zM1130.1 46.3h1.8v0.2h-1.8zM1130.1 50.3h1.8v0.2h-1.8zM1130.1 58.3h1.8v0.2h-1.8zM1130.1 54.3h1.8v0.2h-1.8zM1120.1 56.3h1.8v0.2h-1.8zM1130.1 62.3h1.8v0.2h-1.8zM1130.1 48.3h1.8v0.2h-1.8zM1120.1 60.3h1.8v0.2h-1.8zM1130.1 52.3h1.8v0.2h-1.8zM1130.1 56.3h1.8v0.2h-1.8zM1120.1 58.3h1.8v0.2h-1.8zM1130.1 60.3h1.8v0.2h-1.8zM338.6 684.5h17.8v1.8h-17.8zM346.6 686.5h1.8v1.8h-1.8zM346.6 688.5h1.8v1.8h-1.8zM346.6 690.5h1.8v1.8h-1.8zM346.6 692.5h1.8v1.8h-1.8zM346.6 694.5h1.8v1.8h-1.8zM346.6 696.5h1.8v1.8h-1.8zM346.6 698.5h1.8v1.8h-1.8zM346.6 700.5h1.8v1.8h-1.8zM346.6 702.5h1.8v1.8h-1.8zM346.6 690.3h1.8v0.2h-1.8zM346.6 694.3h1.8v0.2h-1.8zM346.6 686.3h1.8v0.2h-1.8zM346.6 692.3h1.8v0.2h-1.8zM346.6 700.3h1.8v0.2h-1.8zM346.6 702.3h1.8v0.2h-1.8zM346.6 696.3h1.8v0.2h-1.8zM346.6 698.3h1.8v0.2h-1.8zM346.6 688.3h1.8v0.2h-1.8zM358.6 690.5h1.8v1.8h-1.8zM362.6 690.5h1.8v1.8h-1.8zM358.6 692.5h3.8v1.8h-3.8zM358.6 694.5h1.8v1.8h-1.8zM358.6 696.5h1.8v1.8h-1.8zM358.6 698.5h1.8v1.8h-1.8zM358.6 700.5h1.8v1.8h-1.8zM358.6 702.5h1.8v1.8h-1.8zM358.6 700.3h1.8v0.2h-1.8zM358.6 692.3h1.8v0.2h-1.8zM358.6 696.3h1.8v0.2h-1.8zM358.6 698.3h1.8v0.2h-1.8zM358.6 702.3h1.8v0.2h-1.8zM358.6 694.3h1.8v0.2h-1.8zM368.6 690.5h7.8v1.8h-7.8zM366.6 692.5h1.8v1.8h-1.8zM376.6 692.5h1.8v1.8h-1.8zM368.6 694.5h9.8v1.8h-9.8zM366.6 696.5h1.8v1.8h-1.8zM376.6 696.5h1.8v1.8h-1.8zM366.6 698.5h1.8v1.8h-1.8zM376.6 698.5h1.8v1.8h-1.8zM366.6 700.5h1.8v1.8h-1.8zM376.6 700.5h1.8v1.8h-1.8zM368.6 702.5h7.8v1.8h-7.8zM378.6 702.5h1.8v1.8h-1.8zM366.6 700.3h1.8v0.2h-1.8zM376.6 696.3h1.8v0.2h-1.8zM366.6 698.3h1.8v0.2h-1.8zM376.6 700.3h1.8v0.2h-1.8zM376.6 694.3h1.8v0.2h-1.8zM376.6 698.3h1.8v0.2h-1.8zM382.6 690.5h1.8v1.8h-1.8zM386.6 690.5h3.8v1.8h-3.8zM382.6 692.5h3.8v1.8h-3.8zM390.6 692.5h1.8v1.8h-1.8zM382.6 694.5h1.8v1.8h-1.8zM390.6 694.5h1.8v1.8h-1.8zM382.6 696.5h1.8v1.8h-1.8zM390.6 696.5h1.8v1.8h-1.8zM382.6 698.5h1.8v1.8h-1.8zM390.6 698.5h1.8v1.8h-1.8zM382.6 700.5h1.8v1.8h-1.8zM390.6 700.5h1.8v1.8h-1.8zM382.6 702.5h1.8v1.8h-1.8zM390.6 702.5h1.8v1.8h-1.8zM390.6 700.3h1.8v0.2h-1.8zM390.6 696.3h1.8v0.2h-1.8zM382.6 700.3h1.8v0.2h-1.8zM390.6 698.3h1.8v0.2h-1.8zM382.6 692.3h1.8v0.2h-1.8zM382.6 696.3h1.8v0.2h-1.8zM390.6 702.3h1.8v0.2h-1.8zM390.6 694.3h1.8v0.2h-1.8zM382.6 698.3h1.8v0.2h-1.8zM382.6 702.3h1.8v0.2h-1.8zM382.6 694.3h1.8v0.2h-1.8zM398.6 690.5h5.8v1.8h-5.8zM396.6 692.5h1.8v1.8h-1.8zM404.6 692.5h1.8v1.8h-1.8zM396.6 694.5h1.8v1.8h-1.8zM398.6 696.5h5.8v1.8h-5.8zM404.6 698.5h1.8v1.8h-1.8zM396.6 700.5h1.8v1.8h-1.8zM404.6 700.5h1.8v1.8h-1.8zM398.6 702.5h5.8v1.8h-5.8zM404.6 700.3h1.8v0.2h-1.8zM396.6 694.3h1.8v0.2h-1.8zM412.6 684.5h1.8v1.8h-1.8zM410.6 686.5h1.8v1.8h-1.8zM410.6 688.5h1.8v1.8h-1.8zM408.6 690.5h5.8v1.8h-5.8zM410.6 692.5h1.8v1.8h-1.8zM410.6 694.5h1.8v1.8h-1.8zM410.6 696.5h1.8v1.8h-1.8zM410.6 698.5h1.8v1.8h-1.8zM410.6 700.5h1.8v1.8h-1.8zM410.6 702.5h1.8v1.8h-1.8zM410.6 700.3h1.8v0.2h-1.8zM410.6 690.3h1.8v0.2h-1.8zM410.6 702.3h1.8v0.2h-1.8zM410.6 692.3h1.8v0.2h-1.8zM410.6 698.3h1.8v0.2h-1.8zM410.6 688.3h1.8v0.2h-1.8zM410.6 696.3h1.8v0.2h-1.8zM410.6 694.3h1.8v0.2h-1.8zM418.6 690.5h7.8v1.8h-7.8zM416.6 692.5h1.8v1.8h-1.8zM426.6 692.5h1.8v1.8h-1.8zM416.6 694.5h1.8v1.8h-1.8zM426.6 694.5h1.8v1.8h-1.8zM416.6 696.5h11.8v1.8h-11.8zM416.6 698.5h1.8v1.8h-1.8zM416.6 700.5h1.8v1.8h-1.8zM426.6 700.5h1.8v1.8h-1.8zM418.6 702.5h7.8v1.8h-7.8zM416.6 700.3h1.8v0.2h-1.8zM416.6 694.3h1.8v0.2h-1.8zM426.6 696.3h1.8v0.2h-1.8zM416.6 698.3h1.8v0.2h-1.8zM426.6 694.3h1.8v0.2h-1.8zM416.6 696.3h1.8v0.2h-1.8zM432.6 690.5h1.8v1.8h-1.8zM436.6 690.5h1.8v1.8h-1.8zM432.6 692.5h3.8v1.8h-3.8zM432.6 694.5h1.8v1.8h-1.8zM432.6 696.5h1.8v1.8h-1.8zM432.6 698.5h1.8v1.8h-1.8zM432.6 700.5h1.8v1.8h-1.8zM432.6 702.5h1.8v1.8h-1.8zM432.6 700.3h1.8v0.2h-1.8zM432.6 692.3h1.8v0.2h-1.8zM432.6 696.3h1.8v0.2h-1.8zM432.6 698.3h1.8v0.2h-1.8zM432.6 702.3h1.8v0.2h-1.8zM432.6 694.3h1.8v0.2h-1.8zM446.6 684.5h11.8v1.8h-11.8zM446.6 686.5h1.8v1.8h-1.8zM458.6 686.5h1.8v1.8h-1.8zM446.6 688.5h1.8v1.8h-1.8zM460.6 688.5h1.8v1.8h-1.8zM446.6 690.5h1.8v1.8h-1.8zM460.6 690.5h1.8v1.8h-1.8zM446.6 692.5h1.8v1.8h-1.8zM458.6 692.5h1.8v1.8h-1.8zM446.6 694.5h13.8v1.8h-13.8zM446.6 696.5h1.8v1.8h-1.8zM460.6 696.5h1.8v1.8h-1.8zM446.6 698.5h1.8v1.8h-1.8zM460.6 698.5h1.8v1.8h-1.8zM446.6 700.5h1.8v1.8h-1.8zM460.6 700.5h1.8v1.8h-1.8zM446.6 702.5h1.8v1.8h-1.8zM462.6 702.5h1.8v1.8h-1.8zM446.6 694.3h1.8v0.2h-1.8zM458.6 694.3h1.8v0.2h-1.8zM446.6 702.3h1.8v0.2h-1.8zM446.6 688.3h1.8v0.2h-1.8zM460.6 700.3h1.8v0.2h-1.8zM446.6 692.3h1.8v0.2h-1.8zM446.6 696.3h1.8v0.2h-1.8zM460.6 690.3h1.8v0.2h-1.8zM446.6 700.3h1.8v0.2h-1.8zM460.6 698.3h1.8v0.2h-1.8zM446.6 686.3h1.8v0.2h-1.8zM446.6 690.3h1.8v0.2h-1.8zM446.6 698.3h1.8v0.2h-1.8zM468.6 690.5h7.8v1.8h-7.8zM466.6 692.5h1.8v1.8h-1.8zM476.6 692.5h1.8v1.8h-1.8zM468.6 694.5h9.8v1.8h-9.8zM466.6 696.5h1.8v1.8h-1.8zM476.6 696.5h1.8v1.8h-1.8zM466.6 698.5h1.8v1.8h-1.8zM476.6 698.5h1.8v1.8h-1.8zM466.6 700.5h1.8v1.8h-1.8zM476.6 700.5h1.8v1.8h-1.8zM468.6 702.5h7.8v1.8h-7.8zM478.6 702.5h1.8v1.8h-1.8zM466.6 700.3h1.8v0.2h-1.8zM476.6 696.3h1.8v0.2h-1.8zM466.6 698.3h1.8v0.2h-1.8zM476.6 700.3h1.8v0.2h-1.8zM476.6 694.3h1.8v0.2h-1.8zM476.6 698.3h1.8v0.2h-1.8zM482.6 686.5h1.8v1.8h-1.8zM482.6 688.5h1.8v1.8h-1.8zM480.6 690.5h5.8v1.8h-5.8zM482.6 692.5h1.8v1.8h-1.8zM482.6 694.5h1.8v1.8h-1.8zM482.6 696.5h1.8v1.8h-1.8zM482.6 698.5h1.8v1.8h-1.8zM482.6 700.5h1.8v1.8h-1.8zM484.6 702.5h1.8v1.8h-1.8zM482.6 688.3h1.8v0.2h-1.8zM482.6 692.3h1.8v0.2h-1.8zM482.6 694.3h1.8v0.2h-1.8zM482.6 700.3h1.8v0.2h-1.8zM482.6 690.3h1.8v0.2h-1.8zM482.6 698.3h1.8v0.2h-1.8zM482.6 696.3h1.8v0.2h-1.8zM490.6 690.5h7.8v1.8h-7.8zM488.6 692.5h1.8v1.8h-1.8zM498.6 692.5h1.8v1.8h-1.8zM488.6 694.5h1.8v1.8h-1.8zM498.6 694.5h1.8v1.8h-1.8zM488.6 696.5h11.8v1.8h-11.8zM488.6 698.5h1.8v1.8h-1.8zM488.6 700.5h1.8v1.8h-1.8zM498.6 700.5h1.8v1.8h-1.8zM490.6 702.5h7.8v1.8h-7.8zM488.6 700.3h1.8v0.2h-1.8zM488.6 694.3h1.8v0.2h-1.8zM498.6 696.3h1.8v0.2h-1.8zM488.6 698.3h1.8v0.2h-1.8zM498.6 694.3h1.8v0.2h-1.8zM488.6 696.3h1.8v0.2h-1.8zM508.6 694.5h7.8v1.8h-7.8zM524.6 684.5h1.8v1.8h-1.8zM540.6 684.5h1.8v1.8h-1.8zM524.6 686.5h1.8v1.8h-1.8zM540.6 686.5h1.8v1.8h-1.8zM524.6 688.5h3.8v1.8h-3.8zM538.6 688.5h3.8v1.8h-3.8zM524.6 690.5h3.8v1.8h-3.8zM538.6 690.5h3.8v1.8h-3.8zM524.6 692.5h1.8v1.8h-1.8zM528.6 692.5h1.8v1.8h-1.8zM536.6 692.5h1.8v1.8h-1.8zM540.6 692.5h1.8v1.8h-1.8zM524.6 694.5h1.8v1.8h-1.8zM528.6 694.5h1.8v1.8h-1.8zM536.6 694.5h1.8v1.8h-1.8zM540.6 694.5h1.8v1.8h-1.8zM524.6 696.5h1.8v1.8h-1.8zM530.6 696.5h1.8v1.8h-1.8zM534.6 696.5h1.8v1.8h-1.8zM540.6 696.5h1.8v1.8h-1.8zM524.6 698.5h1.8v1.8h-1.8zM530.6 698.5h1.8v1.8h-1.8zM534.6 698.5h1.8v1.8h-1.8zM540.6 698.5h1.8v1.8h-1.8zM524.6 700.5h1.8v1.8h-1.8zM532.6 700.5h1.8v1.8h-1.8zM540.6 700.5h1.8v1.8h-1.8zM524.6 702.5h1.8v1.8h-1.8zM532.6 702.5h1.8v1.8h-1.8zM540.6 702.5h1.8v1.8h-1.8zM524.6 694.3h1.8v0.2h-1.8zM536.6 694.3h1.8v0.2h-1.8zM524.6 702.3h1.8v0.2h-1.8zM524.6 688.3h1.8v0.2h-1.8zM540.6 686.3h1.8v0.2h-1.8zM540.6 690.3h1.8v0.2h-1.8zM534.6 698.3h1.8v0.2h-1.8zM540.6 698.3h1.8v0.2h-1.8zM528.6 694.3h1.8v0.2h-1.8zM524.6 692.3h1.8v0.2h-1.8zM524.6 696.3h1.8v0.2h-1.8zM540.6 694.3h1.8v0.2h-1.8zM540.6 702.3h1.8v0.2h-1.8zM526.6 690.3h1.8v0.2h-1.8zM538.6 690.3h1.8v0.2h-1.8zM540.6 688.3h1.8v0.2h-1.8zM524.6 700.3h1.8v0.2h-1.8zM540.6 692.3h1.8v0.2h-1.8zM532.6 702.3h1.8v0.2h-1.8zM524.6 686.3h1.8v0.2h-1.8zM540.6 696.3h1.8v0.2h-1.8zM524.6 690.3h1.8v0.2h-1.8zM524.6 698.3h1.8v0.2h-1.8zM530.6 698.3h1.8v0.2h-1.8zM540.6 700.3h1.8v0.2h-1.8zM546.6 684.5h11.8v1.8h-11.8zM546.6 686.5h1.8v1.8h-1.8zM558.6 686.5h1.8v1.8h-1.8zM546.6 688.5h1.8v1.8h-1.8zM558.6 688.5h1.8v1.8h-1.8zM546.6 690.5h1.8v1.8h-1.8zM558.6 690.5h1.8v1.8h-1.8zM546.6 692.5h11.8v1.8h-11.8zM546.6 694.5h1.8v1.8h-1.8zM558.6 694.5h1.8v1.8h-1.8zM546.6 696.5h1.8v1.8h-1.8zM558.6 696.5h1.8v1.8h-1.8zM546.6 698.5h1.8v1.8h-1.8zM558.6 698.5h1.8v1.8h-1.8zM546.6 700.5h1.8v1.8h-1.8zM558.6 700.5h1.8v1.8h-1.8zM546.6 702.5h11.8v1.8h-11.8zM546.6 694.3h1.8v0.2h-1.8zM546.6 702.3h1.8v0.2h-1.8zM546.6 688.3h1.8v0.2h-1.8zM558.6 688.3h1.8v0.2h-1.8zM546.6 692.3h1.8v0.2h-1.8zM546.6 696.3h1.8v0.2h-1.8zM558.6 696.3h1.8v0.2h-1.8zM546.6 700.3h1.8v0.2h-1.8zM558.6 700.3h1.8v0.2h-1.8zM546.6 686.3h1.8v0.2h-1.8zM546.6 690.3h1.8v0.2h-1.8zM558.6 690.3h1.8v0.2h-1.8zM546.6 698.3h1.8v0.2h-1.8zM558.6 698.3h1.8v0.2h-1.8zM574.6 684.5h1.8v1.8h-1.8zM574.6 686.5h1.8v1.8h-1.8zM574.6 688.5h1.8v1.8h-1.8zM572.6 690.5h1.8v1.8h-1.8zM572.6 692.5h1.8v1.8h-1.8zM572.6 694.5h1.8v1.8h-1.8zM570.6 696.5h1.8v1.8h-1.8zM570.6 698.5h1.8v1.8h-1.8zM570.6 700.5h1.8v1.8h-1.8zM568.6 702.5h1.8v1.8h-1.8zM568.6 704.5h1.8v1.8h-1.8zM568.6 706.5h1.8v1.8h-1.8zM568.6 704.3h1.8v0.2h-1.8zM570.6 700.3h1.8v0.2h-1.8zM570.6 698.3h1.8v0.2h-1.8zM574.6 686.3h1.8v0.2h-1.8zM572.6 694.3h1.8v0.2h-1.8zM568.6 706.3h1.8v0.2h-1.8zM572.6 692.3h1.8v0.2h-1.8zM574.6 688.3h1.8v0.2h-1.8zM586.6 684.5h9.8v1.8h-9.8zM584.6 686.5h1.8v1.8h-1.8zM596.6 686.5h1.8v1.8h-1.8zM584.6 688.5h1.8v1.8h-1.8zM584.6 690.5h1.8v1.8h-1.8zM586.6 692.5h3.8v1.8h-3.8zM590.6 694.5h5.8v1.8h-5.8zM596.6 696.5h1.8v1.8h-1.8zM596.6 698.5h1.8v1.8h-1.8zM584.6 700.5h1.8v1.8h-1.8zM596.6 700.5h1.8v1.8h-1.8zM586.6 702.5h9.8v1.8h-9.8zM584.6 688.3h1.8v0.2h-1.8zM596.6 700.3h1.8v0.2h-1.8zM584.6 690.3h1.8v0.2h-1.8zM596.6 698.3h1.8v0.2h-1.8zM604.6 690.5h7.8v1.8h-7.8zM602.6 692.5h1.8v1.8h-1.8zM612.6 692.5h1.8v1.8h-1.8zM602.6 694.5h1.8v1.8h-1.8zM612.6 694.5h1.8v1.8h-1.8zM602.6 696.5h11.8v1.8h-11.8zM602.6 698.5h1.8v1.8h-1.8zM602.6 700.5h1.8v1.8h-1.8zM612.6 700.5h1.8v1.8h-1.8zM604.6 702.5h7.8v1.8h-7.8zM602.6 700.3h1.8v0.2h-1.8zM602.6 694.3h1.8v0.2h-1.8zM612.6 696.3h1.8v0.2h-1.8zM602.6 698.3h1.8v0.2h-1.8zM612.6 694.3h1.8v0.2h-1.8zM602.6 696.3h1.8v0.2h-1.8zM620.6 690.5h7.8v1.8h-7.8zM618.6 692.5h1.8v1.8h-1.8zM628.6 692.5h1.8v1.8h-1.8zM618.6 694.5h1.8v1.8h-1.8zM618.6 696.5h1.8v1.8h-1.8zM618.6 698.5h1.8v1.8h-1.8zM618.6 700.5h1.8v1.8h-1.8zM628.6 700.5h1.8v1.8h-1.8zM620.6 702.5h7.8v1.8h-7.8zM618.6 700.3h1.8v0.2h-1.8zM618.6 696.3h1.8v0.2h-1.8zM618.6 698.3h1.8v0.2h-1.8zM618.6 694.3h1.8v0.2h-1.8zM72.6 92.5h5.8v1.8h-5.8zM70.6 94.5h1.8v1.8h-1.8zM78.6 94.5h1.8v1.8h-1.8zM70.6 96.5h1.8v1.8h-1.8zM78.6 96.5h1.8v1.8h-1.8zM70.6 98.5h1.8v1.8h-1.8zM78.6 98.5h1.8v1.8h-1.8zM70.6 100.5h1.8v1.8h-1.8zM78.6 100.5h1.8v1.8h-1.8zM70.6 102.5h1.8v1.8h-1.8zM78.6 102.5h1.8v1.8h-1.8zM70.6 104.5h1.8v1.8h-1.8zM78.6 104.5h1.8v1.8h-1.8zM70.6 106.5h1.8v1.8h-1.8zM78.6 106.5h1.8v1.8h-1.8zM70.6 108.5h1.8v1.8h-1.8zM78.6 108.5h1.8v1.8h-1.8zM72.6 110.5h5.8v1.8h-5.8zM70.6 102.3h1.8v0.2h-1.8zM78.6 100.3h1.8v0.2h-1.8zM78.6 104.3h1.8v0.2h-1.8zM70.6 96.3h1.8v0.2h-1.8zM78.6 108.3h1.8v0.2h-1.8zM70.6 100.3h1.8v0.2h-1.8zM70.6 104.3h1.8v0.2h-1.8zM78.6 98.3h1.8v0.2h-1.8zM70.6 108.3h1.8v0.2h-1.8zM78.6 106.3h1.8v0.2h-1.8zM78.6 102.3h1.8v0.2h-1.8zM70.6 98.3h1.8v0.2h-1.8zM78.6 96.3h1.8v0.2h-1.8zM70.6 106.3h1.8v0.2h-1.8zM84.6 110.5h1.8v1.8h-1.8zM90.6 92.5h9.8v1.8h-9.8zM90.6 94.5h1.8v1.8h-1.8zM90.6 96.5h1.8v1.8h-1.8zM90.6 98.5h1.8v1.8h-1.8zM90.6 100.5h7.8v1.8h-7.8zM90.6 102.5h1.8v1.8h-1.8zM98.6 102.5h1.8v1.8h-1.8zM98.6 104.5h1.8v1.8h-1.8zM98.6 106.5h1.8v1.8h-1.8zM90.6 108.5h1.8v1.8h-1.8zM98.6 108.5h1.8v1.8h-1.8zM92.6 110.5h5.8v1.8h-5.8zM90.6 102.3h1.8v0.2h-1.8zM98.6 104.3h1.8v0.2h-1.8zM90.6 96.3h1.8v0.2h-1.8zM98.6 108.3h1.8v0.2h-1.8zM90.6 100.3h1.8v0.2h-1.8zM98.6 106.3h1.8v0.2h-1.8zM90.6 94.3h1.8v0.2h-1.8zM90.6 98.3h1.8v0.2h-1.8zM992.6 92.5h5.8v1.8h-5.8zM990.6 94.5h1.8v1.8h-1.8zM998.6 94.5h1.8v1.8h-1.8zM990.6 96.5h1.8v1.8h-1.8zM998.6 96.5h1.8v1.8h-1.8zM998.6 98.5h1.8v1.8h-1.8zM996.6 100.5h1.8v1.8h-1.8zM994.6 102.5h1.8v1.8h-1.8zM992.6 104.5h1.8v1.8h-1.8zM990.6 106.5h1.8v1.8h-1.8zM990.6 108.5h1.8v1.8h-1.8zM990.6 110.5h9.8v1.8h-9.8zM998.6 98.3h1.8v0.2h-1.8zM990.6 108.3h1.8v0.2h-1.8zM998.6 96.3h1.8v0.2h-1.8zM990.6 110.3h1.8v0.2h-1.8zM990.6 96.3h1.8v0.2h-1.8zM1006.6 92.5h5.8v1.8h-5.8zM1004.6 94.5h1.8v1.8h-1.8zM1012.6 94.5h1.8v1.8h-1.8zM1012.6 96.5h1.8v1.8h-1.8zM1012.6 98.5h1.8v1.8h-1.8zM1008.6 100.5h3.8v1.8h-3.8zM1012.6 102.5h1.8v1.8h-1.8zM1012.6 104.5h1.8v1.8h-1.8zM1012.6 106.5h1.8v1.8h-1.8zM1004.6 108.5h1.8v1.8h-1.8zM1012.6 108.5h1.8v1.8h-1.8zM1006.6 110.5h5.8v1.8h-5.8zM1012.6 108.3h1.8v0.2h-1.8zM1012.6 98.3h1.8v0.2h-1.8zM1012.6 104.3h1.8v0.2h-1.8zM1012.6 106.3h1.8v0.2h-1.8zM1012.6 96.3h1.8v0.2h-1.8zM1022.6 92.5h1.8v1.8h-1.8zM1018.6 94.5h5.8v1.8h-5.8zM1022.6 96.5h1.8v1.8h-1.8zM1022.6 98.5h1.8v1.8h-1.8zM1022.6 100.5h1.8v1.8h-1.8zM1022.6 102.5h1.8v1.8h-1.8zM1022.6 104.5h1.8v1.8h-1.8zM1022.6 106.5h1.8v1.8h-1.8zM1022.6 108.5h1.8v1.8h-1.8zM1022.6 110.5h1.8v1.8h-1.8zM1022.6 106.3h1.8v0.2h-1.8zM1022.6 96.3h1.8v0.2h-1.8zM1022.6 102.3h1.8v0.2h-1.8zM1022.6 94.3h1.8v0.2h-1.8zM1022.6 108.3h1.8v0.2h-1.8zM1022.6 98.3h1.8v0.2h-1.8zM1022.6 110.3h1.8v0.2h-1.8zM1022.6 100.3h1.8v0.2h-1.8zM1022.6 104.3h1.8v0.2h-1.8zM1120.6 92.5h5.8v1.8h-5.8zM1118.6 94.5h1.8v1.8h-1.8zM1126.6 94.5h1.8v1.8h-1.8zM1118.6 96.5h1.8v1.8h-1.8zM1126.6 96.5h1.8v1.8h-1.8zM1118.6 98.5h1.8v1.8h-1.8zM1126.6 98.5h1.8v1.8h-1.8zM1118.6 100.5h1.8v1.8h-1.8zM1124.6 100.5h3.8v1.8h-3.8zM1120.6 102.5h3.8v1.8h-3.8zM1126.6 102.5h1.8v1.8h-1.8zM1126.6 104.5h1.8v1.8h-1.8zM1126.6 106.5h1.8v1.8h-1.8zM1118.6 108.5h1.8v1.8h-1.8zM1126.6 108.5h1.8v1.8h-1.8zM1120.6 110.5h5.8v1.8h-5.8zM1126.6 100.3h1.8v0.2h-1.8zM1126.6 104.3h1.8v0.2h-1.8zM1118.6 96.3h1.8v0.2h-1.8zM1126.6 108.3h1.8v0.2h-1.8zM1118.6 100.3h1.8v0.2h-1.8zM1126.6 98.3h1.8v0.2h-1.8zM1126.6 106.3h1.8v0.2h-1.8zM1126.6 102.3h1.8v0.2h-1.8zM1118.6 98.3h1.8v0.2h-1.8zM1126.6 96.3h1.8v0.2h-1.8zM1134.6 92.5h5.8v1.8h-5.8zM1132.6 94.5h1.8v1.8h-1.8zM1140.6 94.5h1.8v1.8h-1.8zM1132.6 96.5h1.8v1.8h-1.8zM1140.6 96.5h1.8v1.8h-1.8zM1140.6 98.5h1.8v1.8h-1.8zM1138.6 100.5h1.8v1.8h-1.8zM1136.6 102.5h1.8v1.8h-1.8zM1134.6 104.5h1.8v1.8h-1.8zM1132.6 106.5h1.8v1.8h-1.8zM1132.6 108.5h1.8v1.8h-1.8zM1132.6 110.5h9.8v1.8h-9.8zM1140.6 98.3h1.8v0.2h-1.8zM1132.6 108.3h1.8v0.2h-1.8zM1140.6 96.3h1.8v0.2h-1.8zM1132.6 110.3h1.8v0.2h-1.8zM1132.6 96.3h1.8v0.2h-1.8zM1148.6 92.5h5.8v1.8h-5.8zM1146.6 94.5h1.8v1.8h-1.8zM1154.6 94.5h1.8v1.8h-1.8zM1146.6 96.5h1.8v1.8h-1.8zM1154.6 96.5h1.8v1.8h-1.8zM1146.6 98.5h1.8v1.8h-1.8zM1154.6 98.5h1.8v1.8h-1.8zM1148.6 100.5h5.8v1.8h-5.8zM1146.6 102.5h1.8v1.8h-1.8zM1154.6 102.5h1.8v1.8h-1.8zM1146.6 104.5h1.8v1.8h-1.8zM1154.6 104.5h1.8v1.8h-1.8zM1146.6 106.5h1.8v1.8h-1.8zM1154.6 106.5h1.8v1.8h-1.8zM1146.6 108.5h1.8v1.8h-1.8zM1154.6 108.5h1.8v1.8h-1.8zM1148.6 110.5h5.8v1.8h-5.8zM1154.6 104.3h1.8v0.2h-1.8zM1146.6 96.3h1.8v0.2h-1.8zM1154.6 108.3h1.8v0.2h-1.8zM1146.6 104.3h1.8v0.2h-1.8zM1154.6 98.3h1.8v0.2h-1.8zM1146.6 108.3h1.8v0.2h-1.8zM1154.6 106.3h1.8v0.2h-1.8zM1146.6 98.3h1.8v0.2h-1.8zM1154.6 96.3h1.8v0.2h-1.8zM1146.6 106.3h1.8v0.2h-1.8zM74.6 128.5h1.8v1.8h-1.8zM70.6 130.5h5.8v1.8h-5.8zM74.6 132.5h1.8v1.8h-1.8zM74.6 134.5h1.8v1.8h-1.8zM74.6 136.5h1.8v1.8h-1.8zM74.6 138.5h1.8v1.8h-1.8zM74.6 140.5h1.8v1.8h-1.8zM74.6 142.5h1.8v1.8h-1.8zM74.6 144.5h1.8v1.8h-1.8zM74.6 146.5h1.8v1.8h-1.8zM74.6 142.3h1.8v0.2h-1.8zM74.6 132.3h1.8v0.2h-1.8zM74.6 138.3h1.8v0.2h-1.8zM74.6 130.3h1.8v0.2h-1.8zM74.6 144.3h1.8v0.2h-1.8zM74.6 134.3h1.8v0.2h-1.8zM74.6 146.3h1.8v0.2h-1.8zM74.6 136.3h1.8v0.2h-1.8zM74.6 140.3h1.8v0.2h-1.8zM84.6 146.5h1.8v1.8h-1.8zM92.6 128.5h5.8v1.8h-5.8zM90.6 130.5h1.8v1.8h-1.8zM98.6 130.5h1.8v1.8h-1.8zM90.6 132.5h1.8v1.8h-1.8zM98.6 132.5h1.8v1.8h-1.8zM90.6 134.5h1.8v1.8h-1.8zM98.6 134.5h1.8v1.8h-1.8zM90.6 136.5h1.8v1.8h-1.8zM98.6 136.5h1.8v1.8h-1.8zM90.6 138.5h1.8v1.8h-1.8zM98.6 138.5h1.8v1.8h-1.8zM90.6 140.5h1.8v1.8h-1.8zM98.6 140.5h1.8v1.8h-1.8zM90.6 142.5h1.8v1.8h-1.8zM98.6 142.5h1.8v1.8h-1.8zM90.6 144.5h1.8v1.8h-1.8zM98.6 144.5h1.8v1.8h-1.8zM92.6 146.5h5.8v1.8h-5.8zM90.6 138.3h1.8v0.2h-1.8zM98.6 136.3h1.8v0.2h-1.8zM98.6 140.3h1.8v0.2h-1.8zM90.6 132.3h1.8v0.2h-1.8zM98.6 144.3h1.8v0.2h-1.8zM90.6 136.3h1.8v0.2h-1.8zM90.6 140.3h1.8v0.2h-1.8zM98.6 134.3h1.8v0.2h-1.8zM90.6 144.3h1.8v0.2h-1.8zM98.6 142.3h1.8v0.2h-1.8zM98.6 138.3h1.8v0.2h-1.8zM90.6 134.3h1.8v0.2h-1.8zM98.6 132.3h1.8v0.2h-1.8zM90.6 142.3h1.8v0.2h-1.8zM998.6 128.5h1.8v1.8h-1.8zM996.6 130.5h3.8v1.8h-3.8zM994.6 132.5h1.8v1.8h-1.8zM998.6 132.5h1.8v1.8h-1.8zM994.6 134.5h1.8v1.8h-1.8zM998.6 134.5h1.8v1.8h-1.8zM992.6 136.5h1.8v1.8h-1.8zM998.6 136.5h1.8v1.8h-1.8zM990.6 138.5h1.8v1.8h-1.8zM998.6 138.5h1.8v1.8h-1.8zM990.6 140.5h9.8v1.8h-9.8zM998.6 142.5h1.8v1.8h-1.8zM998.6 144.5h1.8v1.8h-1.8zM998.6 146.5h1.8v1.8h-1.8zM998.6 136.3h1.8v0.2h-1.8zM998.6 140.3h1.8v0.2h-1.8zM994.6 134.3h1.8v0.2h-1.8zM998.6 144.3h1.8v0.2h-1.8zM990.6 140.3h1.8v0.2h-1.8zM998.6 134.3h1.8v0.2h-1.8zM998.6 130.3h1.8v0.2h-1.8zM998.6 142.3h1.8v0.2h-1.8zM998.6 138.3h1.8v0.2h-1.8zM998.6 146.3h1.8v0.2h-1.8zM998.6 132.3h1.8v0.2h-1.8zM1006.6 128.5h5.8v1.8h-5.8zM1004.6 130.5h1.8v1.8h-1.8zM1012.6 130.5h1.8v1.8h-1.8zM1004.6 132.5h1.8v1.8h-1.8zM1004.6 134.5h1.8v1.8h-1.8zM1004.6 136.5h1.8v1.8h-1.8zM1008.6 136.5h3.8v1.8h-3.8zM1004.6 138.5h3.8v1.8h-3.8zM1012.6 138.5h1.8v1.8h-1.8zM1004.6 140.5h1.8v1.8h-1.8zM1012.6 140.5h1.8v1.8h-1.8zM1004.6 142.5h1.8v1.8h-1.8zM1012.6 142.5h1.8v1.8h-1.8zM1004.6 144.5h1.8v1.8h-1.8zM1012.6 144.5h1.8v1.8h-1.8zM1006.6 146.5h5.8v1.8h-5.8zM1004.6 138.3h1.8v0.2h-1.8zM1012.6 140.3h1.8v0.2h-1.8zM1004.6 132.3h1.8v0.2h-1.8zM1012.6 144.3h1.8v0.2h-1.8zM1004.6 136.3h1.8v0.2h-1.8zM1004.6 140.3h1.8v0.2h-1.8zM1004.6 144.3h1.8v0.2h-1.8zM1012.6 142.3h1.8v0.2h-1.8zM1004.6 134.3h1.8v0.2h-1.8zM1004.6 142.3h1.8v0.2h-1.8zM1020.6 128.5h5.8v1.8h-5.8zM1018.6 130.5h1.8v1.8h-1.8zM1026.6 130.5h1.8v1.8h-1.8zM1026.6 132.5h1.8v1.8h-1.8zM1026.6 134.5h1.8v1.8h-1.8zM1022.6 136.5h3.8v1.8h-3.8zM1026.6 138.5h1.8v1.8h-1.8zM1026.6 140.5h1.8v1.8h-1.8zM1026.6 142.5h1.8v1.8h-1.8zM1018.6 144.5h1.8v1.8h-1.8zM1026.6 144.5h1.8v1.8h-1.8zM1020.6 146.5h5.8v1.8h-5.8zM1026.6 144.3h1.8v0.2h-1.8zM1026.6 134.3h1.8v0.2h-1.8zM1026.6 140.3h1.8v0.2h-1.8zM1026.6 142.3h1.8v0.2h-1.8zM1026.6 132.3h1.8v0.2h-1.8zM1108.6 128.5h1.8v1.8h-1.8zM1104.6 130.5h5.8v1.8h-5.8zM1108.6 132.5h1.8v1.8h-1.8zM1108.6 134.5h1.8v1.8h-1.8zM1108.6 136.5h1.8v1.8h-1.8zM1108.6 138.5h1.8v1.8h-1.8zM1108.6 140.5h1.8v1.8h-1.8zM1108.6 142.5h1.8v1.8h-1.8zM1108.6 144.5h1.8v1.8h-1.8zM1108.6 146.5h1.8v1.8h-1.8zM1108.6 142.3h1.8v0.2h-1.8zM1108.6 132.3h1.8v0.2h-1.8zM1108.6 138.3h1.8v0.2h-1.8zM1108.6 130.3h1.8v0.2h-1.8zM1108.6 144.3h1.8v0.2h-1.8zM1108.6 134.3h1.8v0.2h-1.8zM1108.6 146.3h1.8v0.2h-1.8zM1108.6 136.3h1.8v0.2h-1.8zM1108.6 140.3h1.8v0.2h-1.8zM1118.6 128.5h9.8v1.8h-9.8zM1126.6 130.5h1.8v1.8h-1.8zM1126.6 132.5h1.8v1.8h-1.8zM1124.6 134.5h1.8v1.8h-1.8zM1124.6 136.5h1.8v1.8h-1.8zM1122.6 138.5h1.8v1.8h-1.8zM1122.6 140.5h1.8v1.8h-1.8zM1120.6 142.5h1.8v1.8h-1.8zM1120.6 144.5h1.8v1.8h-1.8zM1120.6 146.5h1.8v1.8h-1.8zM1126.6 130.3h1.8v0.2h-1.8zM1120.6 144.3h1.8v0.2h-1.8zM1120.6 146.3h1.8v0.2h-1.8zM1126.6 132.3h1.8v0.2h-1.8zM1124.6 136.3h1.8v0.2h-1.8zM1122.6 140.3h1.8v0.2h-1.8zM1134.6 128.5h5.8v1.8h-5.8zM1132.6 130.5h1.8v1.8h-1.8zM1140.6 130.5h1.8v1.8h-1.8zM1132.6 132.5h1.8v1.8h-1.8zM1140.6 132.5h1.8v1.8h-1.8zM1132.6 134.5h1.8v1.8h-1.8zM1140.6 134.5h1.8v1.8h-1.8zM1132.6 136.5h1.8v1.8h-1.8zM1138.6 136.5h3.8v1.8h-3.8zM1134.6 138.5h3.8v1.8h-3.8zM1140.6 138.5h1.8v1.8h-1.8zM1140.6 140.5h1.8v1.8h-1.8zM1140.6 142.5h1.8v1.8h-1.8zM1132.6 144.5h1.8v1.8h-1.8zM1140.6 144.5h1.8v1.8h-1.8zM1134.6 146.5h5.8v1.8h-5.8zM1140.6 136.3h1.8v0.2h-1.8zM1140.6 140.3h1.8v0.2h-1.8zM1132.6 132.3h1.8v0.2h-1.8zM1140.6 144.3h1.8v0.2h-1.8zM1132.6 136.3h1.8v0.2h-1.8zM1140.6 134.3h1.8v0.2h-1.8zM1140.6 142.3h1.8v0.2h-1.8zM1140.6 138.3h1.8v0.2h-1.8zM1132.6 134.3h1.8v0.2h-1.8zM1140.6 132.3h1.8v0.2h-1.8zM1148.6 128.5h5.8v1.8h-5.8zM1146.6 130.5h1.8v1.8h-1.8zM1154.6 130.5h1.8v1.8h-1.8zM1146.6 132.5h1.8v1.8h-1.8zM1146.6 134.5h1.8v1.8h-1.8zM1146.6 136.5h1.8v1.8h-1.8zM1150.6 136.5h3.8v1.8h-3.8zM1146.6 138.5h3.8v1.8h-3.8zM1154.6 138.5h1.8v1.8h-1.8zM1146.6 140.5h1.8v1.8h-1.8zM1154.6 140.5h1.8v1.8h-1.8zM1146.6 142.5h1.8v1.8h-1.8zM1154.6 142.5h1.8v1.8h-1.8zM1146.6 144.5h1.8v1.8h-1.8zM1154.6 144.5h1.8v1.8h-1.8zM1148.6 146.5h5.8v1.8h-5.8zM1146.6 138.3h1.8v0.2h-1.8zM1154.6 140.3h1.8v0.2h-1.8zM1146.6 132.3h1.8v0.2h-1.8zM1154.6 144.3h1.8v0.2h-1.8zM1146.6 136.3h1.8v0.2h-1.8zM1146.6 140.3h1.8v0.2h-1.8zM1146.6 144.3h1.8v0.2h-1.8zM1154.6 142.3h1.8v0.2h-1.8zM1146.6 134.3h1.8v0.2h-1.8zM1146.6 142.3h1.8v0.2h-1.8zM72.6 164.5h5.8v1.8h-5.8zM70.6 166.5h1.8v1.8h-1.8zM78.6 166.5h1.8v1.8h-1.8zM70.6 168.5h1.8v1.8h-1.8zM78.6 168.5h1.8v1.8h-1.8zM78.6 170.5h1.8v1.8h-1.8zM76.6 172.5h1.8v1.8h-1.8zM74.6 174.5h1.8v1.8h-1.8zM72.6 176.5h1.8v1.8h-1.8zM70.6 178.5h1.8v1.8h-1.8zM70.6 180.5h1.8v1.8h-1.8zM70.6 182.5h9.8v1.8h-9.8zM78.6 170.3h1.8v0.2h-1.8zM70.6 180.3h1.8v0.2h-1.8zM78.6 168.3h1.8v0.2h-1.8zM70.6 182.3h1.8v0.2h-1.8zM70.6 168.3h1.8v0.2h-1.8zM84.6 182.5h1.8v1.8h-1.8zM92.6 164.5h5.8v1.8h-5.8zM90.6 166.5h1.8v1.8h-1.8zM98.6 166.5h1.8v1.8h-1.8zM90.6 168.5h1.8v1.8h-1.8zM98.6 168.5h1.8v1.8h-1.8zM90.6 170.5h1.8v1.8h-1.8zM98.6 170.5h1.8v1.8h-1.8zM90.6 172.5h1.8v1.8h-1.8zM98.6 172.5h1.8v1.8h-1.8zM90.6 174.5h1.8v1.8h-1.8zM98.6 174.5h1.8v1.8h-1.8zM90.6 176.5h1.8v1.8h-1.8zM98.6 176.5h1.8v1.8h-1.8zM90.6 178.5h1.8v1.8h-1.8zM98.6 178.5h1.8v1.8h-1.8zM90.6 180.5h1.8v1.8h-1.8zM98.6 180.5h1.8v1.8h-1.8zM92.6 182.5h5.8v1.8h-5.8zM90.6 174.3h1.8v0.2h-1.8zM98.6 172.3h1.8v0.2h-1.8zM98.6 176.3h1.8v0.2h-1.8zM90.6 168.3h1.8v0.2h-1.8zM98.6 180.3h1.8v0.2h-1.8zM90.6 172.3h1.8v0.2h-1.8zM90.6 176.3h1.8v0.2h-1.8zM98.6 170.3h1.8v0.2h-1.8zM90.6 180.3h1.8v0.2h-1.8zM98.6 178.3h1.8v0.2h-1.8zM98.6 174.3h1.8v0.2h-1.8zM90.6 170.3h1.8v0.2h-1.8zM98.6 168.3h1.8v0.2h-1.8zM90.6 178.3h1.8v0.2h-1.8zM992.6 164.5h5.8v1.8h-5.8zM990.6 166.5h1.8v1.8h-1.8zM998.6 166.5h1.8v1.8h-1.8zM990.6 168.5h1.8v1.8h-1.8zM998.6 168.5h1.8v1.8h-1.8zM990.6 170.5h1.8v1.8h-1.8zM998.6 170.5h1.8v1.8h-1.8zM990.6 172.5h1.8v1.8h-1.8zM996.6 172.5h3.8v1.8h-3.8zM992.6 174.5h3.8v1.8h-3.8zM998.6 174.5h1.8v1.8h-1.8zM998.6 176.5h1.8v1.8h-1.8zM998.6 178.5h1.8v1.8h-1.8zM990.6 180.5h1.8v1.8h-1.8zM998.6 180.5h1.8v1.8h-1.8zM992.6 182.5h5.8v1.8h-5.8zM998.6 172.3h1.8v0.2h-1.8zM998.6 176.3h1.8v0.2h-1.8zM990.6 168.3h1.8v0.2h-1.8zM998.6 180.3h1.8v0.2h-1.8zM990.6 172.3h1.8v0.2h-1.8zM998.6 170.3h1.8v0.2h-1.8zM998.6 178.3h1.8v0.2h-1.8zM998.6 174.3h1.8v0.2h-1.8zM990.6 170.3h1.8v0.2h-1.8zM998.6 168.3h1.8v0.2h-1.8zM1006.6 164.5h5.8v1.8h-5.8zM1004.6 166.5h1.8v1.8h-1.8zM1012.6 166.5h1.8v1.8h-1.8zM1004.6 168.5h1.8v1.8h-1.8zM1012.6 168.5h1.8v1.8h-1.8zM1004.6 170.5h1.8v1.8h-1.8zM1012.6 170.5h1.8v1.8h-1.8zM1004.6 172.5h1.8v1.8h-1.8zM1012.6 172.5h1.8v1.8h-1.8zM1004.6 174.5h1.8v1.8h-1.8zM1012.6 174.5h1.8v1.8h-1.8zM1004.6 176.5h1.8v1.8h-1.8zM1012.6 176.5h1.8v1.8h-1.8zM1004.6 178.5h1.8v1.8h-1.8zM1012.6 178.5h1.8v1.8h-1.8zM1004.6 180.5h1.8v1.8h-1.8zM1012.6 180.5h1.8v1.8h-1.8zM1006.6 182.5h5.8v1.8h-5.8zM1004.6 174.3h1.8v0.2h-1.8zM1012.6 172.3h1.8v0.2h-1.8zM1012.6 176.3h1.8v0.2h-1.8zM1004.6 168.3h1.8v0.2h-1.8zM1012.6 180.3h1.8v0.2h-1.8zM1004.6 172.3h1.8v0.2h-1.8zM1004.6 176.3h1.8v0.2h-1.8zM1012.6 170.3h1.8v0.2h-1.8zM1004.6 180.3h1.8v0.2h-1.8zM1012.6 178.3h1.8v0.2h-1.8zM1012.6 174.3h1.8v0.2h-1.8zM1004.6 170.3h1.8v0.2h-1.8zM1012.6 168.3h1.8v0.2h-1.8zM1004.6 178.3h1.8v0.2h-1.8zM1020.6 164.5h5.8v1.8h-5.8zM1018.6 166.5h1.8v1.8h-1.8zM1026.6 166.5h1.8v1.8h-1.8zM1018.6 168.5h1.8v1.8h-1.8zM1026.6 168.5h1.8v1.8h-1.8zM1018.6 170.5h1.8v1.8h-1.8zM1026.6 170.5h1.8v1.8h-1.8zM1020.6 172.5h5.8v1.8h-5.8zM1018.6 174.5h1.8v1.8h-1.8zM1026.6 174.5h1.8v1.8h-1.8zM1018.6 176.5h1.8v1.8h-1.8zM1026.6 176.5h1.8v1.8h-1.8zM1018.6 178.5h1.8v1.8h-1.8zM1026.6 178.5h1.8v1.8h-1.8zM1018.6 180.5h1.8v1.8h-1.8zM1026.6 180.5h1.8v1.8h-1.8zM1020.6 182.5h5.8v1.8h-5.8zM1026.6 176.3h1.8v0.2h-1.8zM1018.6 168.3h1.8v0.2h-1.8zM1026.6 180.3h1.8v0.2h-1.8zM1018.6 176.3h1.8v0.2h-1.8zM1026.6 170.3h1.8v0.2h-1.8zM1018.6 180.3h1.8v0.2h-1.8zM1026.6 178.3h1.8v0.2h-1.8zM1018.6 170.3h1.8v0.2h-1.8zM1026.6 168.3h1.8v0.2h-1.8zM1018.6 178.3h1.8v0.2h-1.8zM1106.6 164.5h5.8v1.8h-5.8zM1104.6 166.5h1.8v1.8h-1.8zM1112.6 166.5h1.8v1.8h-1.8zM1112.6 168.5h1.8v1.8h-1.8zM1112.6 170.5h1.8v1.8h-1.8zM1108.6 172.5h3.8v1.8h-3.8zM1112.6 174.5h1.8v1.8h-1.8zM1112.6 176.5h1.8v1.8h-1.8zM1112.6 178.5h1.8v1.8h-1.8zM1104.6 180.5h1.8v1.8h-1.8zM1112.6 180.5h1.8v1.8h-1.8zM1106.6 182.5h5.8v1.8h-5.8zM1112.6 180.3h1.8v0.2h-1.8zM1112.6 170.3h1.8v0.2h-1.8zM1112.6 176.3h1.8v0.2h-1.8zM1112.6 178.3h1.8v0.2h-1.8zM1112.6 168.3h1.8v0.2h-1.8zM1120.6 164.5h5.8v1.8h-5.8zM1118.6 166.5h1.8v1.8h-1.8zM1126.6 166.5h1.8v1.8h-1.8zM1118.6 168.5h1.8v1.8h-1.8zM1126.6 168.5h1.8v1.8h-1.8zM1118.6 170.5h1.8v1.8h-1.8zM1126.6 170.5h1.8v1.8h-1.8zM1118.6 172.5h1.8v1.8h-1.8zM1124.6 172.5h3.8v1.8h-3.8zM1120.6 174.5h3.8v1.8h-3.8zM1126.6 174.5h1.8v1.8h-1.8zM1126.6 176.5h1.8v1.8h-1.8zM1126.6 178.5h1.8v1.8h-1.8zM1118.6 180.5h1.8v1.8h-1.8zM1126.6 180.5h1.8v1.8h-1.8zM1120.6 182.5h5.8v1.8h-5.8zM1126.6 172.3h1.8v0.2h-1.8zM1126.6 176.3h1.8v0.2h-1.8zM1118.6 168.3h1.8v0.2h-1.8zM1126.6 180.3h1.8v0.2h-1.8zM1118.6 172.3h1.8v0.2h-1.8zM1126.6 170.3h1.8v0.2h-1.8zM1126.6 178.3h1.8v0.2h-1.8zM1126.6 174.3h1.8v0.2h-1.8zM1118.6 170.3h1.8v0.2h-1.8zM1126.6 168.3h1.8v0.2h-1.8zM1134.6 164.5h5.8v1.8h-5.8zM1132.6 166.5h1.8v1.8h-1.8zM1140.6 166.5h1.8v1.8h-1.8zM1140.6 168.5h1.8v1.8h-1.8zM1140.6 170.5h1.8v1.8h-1.8zM1136.6 172.5h3.8v1.8h-3.8zM1140.6 174.5h1.8v1.8h-1.8zM1140.6 176.5h1.8v1.8h-1.8zM1140.6 178.5h1.8v1.8h-1.8zM1132.6 180.5h1.8v1.8h-1.8zM1140.6 180.5h1.8v1.8h-1.8zM1134.6 182.5h5.8v1.8h-5.8zM1140.6 180.3h1.8v0.2h-1.8zM1140.6 170.3h1.8v0.2h-1.8zM1140.6 176.3h1.8v0.2h-1.8zM1140.6 178.3h1.8v0.2h-1.8zM1140.6 168.3h1.8v0.2h-1.8zM1148.6 164.5h5.8v1.8h-5.8zM1146.6 166.5h1.8v1.8h-1.8zM1154.6 166.5h1.8v1.8h-1.8zM1146.6 168.5h1.8v1.8h-1.8zM1154.6 168.5h1.8v1.8h-1.8zM1146.6 170.5h1.8v1.8h-1.8zM1154.6 170.5h1.8v1.8h-1.8zM1148.6 172.5h5.8v1.8h-5.8zM1146.6 174.5h1.8v1.8h-1.8zM1154.6 174.5h1.8v1.8h-1.8zM1146.6 176.5h1.8v1.8h-1.8zM1154.6 176.5h1.8v1.8h-1.8zM1146.6 178.5h1.8v1.8h-1.8zM1154.6 178.5h1.8v1.8h-1.8zM1146.6 180.5h1.8v1.8h-1.8zM1154.6 180.5h1.8v1.8h-1.8zM1148.6 182.5h5.8v1.8h-5.8zM1154.6 176.3h1.8v0.2h-1.8zM1146.6 168.3h1.8v0.2h-1.8zM1154.6 180.3h1.8v0.2h-1.8zM1146.6 176.3h1.8v0.2h-1.8zM1154.6 170.3h1.8v0.2h-1.8zM1146.6 180.3h1.8v0.2h-1.8zM1154.6 178.3h1.8v0.2h-1.8zM1146.6 170.3h1.8v0.2h-1.8zM1154.6 168.3h1.8v0.2h-1.8zM1146.6 178.3h1.8v0.2h-1.8zM78.6 200.5h1.8v1.8h-1.8zM76.6 202.5h3.8v1.8h-3.8zM74.6 204.5h1.8v1.8h-1.8zM78.6 204.5h1.8v1.8h-1.8zM74.6 206.5h1.8v1.8h-1.8zM78.6 206.5h1.8v1.8h-1.8zM72.6 208.5h1.8v1.8h-1.8zM78.6 208.5h1.8v1.8h-1.8zM70.6 210.5h1.8v1.8h-1.8zM78.6 210.5h1.8v1.8h-1.8zM70.6 212.5h9.8v1.8h-9.8zM78.6 214.5h1.8v1.8h-1.8zM78.6 216.5h1.8v1.8h-1.8zM78.6 218.5h1.8v1.8h-1.8zM78.6 208.3h1.8v0.2h-1.8zM78.6 212.3h1.8v0.2h-1.8zM74.6 206.3h1.8v0.2h-1.8zM78.6 216.3h1.8v0.2h-1.8zM70.6 212.3h1.8v0.2h-1.8zM78.6 206.3h1.8v0.2h-1.8zM78.6 202.3h1.8v0.2h-1.8zM78.6 214.3h1.8v0.2h-1.8zM78.6 210.3h1.8v0.2h-1.8zM78.6 218.3h1.8v0.2h-1.8zM78.6 204.3h1.8v0.2h-1.8zM84.6 218.5h1.8v1.8h-1.8zM92.6 200.5h5.8v1.8h-5.8zM90.6 202.5h1.8v1.8h-1.8zM98.6 202.5h1.8v1.8h-1.8zM90.6 204.5h1.8v1.8h-1.8zM98.6 204.5h1.8v1.8h-1.8zM90.6 206.5h1.8v1.8h-1.8zM98.6 206.5h1.8v1.8h-1.8zM90.6 208.5h1.8v1.8h-1.8zM98.6 208.5h1.8v1.8h-1.8zM90.6 210.5h1.8v1.8h-1.8zM98.6 210.5h1.8v1.8h-1.8zM90.6 212.5h1.8v1.8h-1.8zM98.6 212.5h1.8v1.8h-1.8zM90.6 214.5h1.8v1.8h-1.8zM98.6 214.5h1.8v1.8h-1.8zM90.6 216.5h1.8v1.8h-1.8zM98.6 216.5h1.8v1.8h-1.8zM92.6 218.5h5.8v1.8h-5.8zM90.6 210.3h1.8v0.2h-1.8zM98.6 208.3h1.8v0.2h-1.8zM98.6 212.3h1.8v0.2h-1.8zM90.6 204.3h1.8v0.2h-1.8zM98.6 216.3h1.8v0.2h-1.8zM90.6 208.3h1.8v0.2h-1.8zM90.6 212.3h1.8v0.2h-1.8zM98.6 206.3h1.8v0.2h-1.8zM90.6 216.3h1.8v0.2h-1.8zM98.6 214.3h1.8v0.2h-1.8zM98.6 210.3h1.8v0.2h-1.8zM90.6 206.3h1.8v0.2h-1.8zM98.6 204.3h1.8v0.2h-1.8zM90.6 214.3h1.8v0.2h-1.8zM980.6 200.5h1.8v1.8h-1.8zM976.6 202.5h5.8v1.8h-5.8zM980.6 204.5h1.8v1.8h-1.8zM980.6 206.5h1.8v1.8h-1.8zM980.6 208.5h1.8v1.8h-1.8zM980.6 210.5h1.8v1.8h-1.8zM980.6 212.5h1.8v1.8h-1.8zM980.6 214.5h1.8v1.8h-1.8zM980.6 216.5h1.8v1.8h-1.8zM980.6 218.5h1.8v1.8h-1.8zM980.6 214.3h1.8v0.2h-1.8zM980.6 204.3h1.8v0.2h-1.8zM980.6 210.3h1.8v0.2h-1.8zM980.6 202.3h1.8v0.2h-1.8zM980.6 216.3h1.8v0.2h-1.8zM980.6 206.3h1.8v0.2h-1.8zM980.6 218.3h1.8v0.2h-1.8zM980.6 208.3h1.8v0.2h-1.8zM980.6 212.3h1.8v0.2h-1.8zM992.6 200.5h5.8v1.8h-5.8zM990.6 202.5h1.8v1.8h-1.8zM998.6 202.5h1.8v1.8h-1.8zM990.6 204.5h1.8v1.8h-1.8zM990.6 206.5h1.8v1.8h-1.8zM990.6 208.5h1.8v1.8h-1.8zM994.6 208.5h3.8v1.8h-3.8zM990.6 210.5h3.8v1.8h-3.8zM998.6 210.5h1.8v1.8h-1.8zM990.6 212.5h1.8v1.8h-1.8zM998.6 212.5h1.8v1.8h-1.8zM990.6 214.5h1.8v1.8h-1.8zM998.6 214.5h1.8v1.8h-1.8zM990.6 216.5h1.8v1.8h-1.8zM998.6 216.5h1.8v1.8h-1.8zM992.6 218.5h5.8v1.8h-5.8zM990.6 210.3h1.8v0.2h-1.8zM998.6 212.3h1.8v0.2h-1.8zM990.6 204.3h1.8v0.2h-1.8zM998.6 216.3h1.8v0.2h-1.8zM990.6 208.3h1.8v0.2h-1.8zM990.6 212.3h1.8v0.2h-1.8zM990.6 216.3h1.8v0.2h-1.8zM998.6 214.3h1.8v0.2h-1.8zM990.6 206.3h1.8v0.2h-1.8zM990.6 214.3h1.8v0.2h-1.8zM1008.6 200.5h1.8v1.8h-1.8zM1004.6 202.5h5.8v1.8h-5.8zM1008.6 204.5h1.8v1.8h-1.8zM1008.6 206.5h1.8v1.8h-1.8zM1008.6 208.5h1.8v1.8h-1.8zM1008.6 210.5h1.8v1.8h-1.8zM1008.6 212.5h1.8v1.8h-1.8zM1008.6 214.5h1.8v1.8h-1.8zM1008.6 216.5h1.8v1.8h-1.8zM1008.6 218.5h1.8v1.8h-1.8zM1008.6 214.3h1.8v0.2h-1.8zM1008.6 204.3h1.8v0.2h-1.8zM1008.6 210.3h1.8v0.2h-1.8zM1008.6 202.3h1.8v0.2h-1.8zM1008.6 216.3h1.8v0.2h-1.8zM1008.6 206.3h1.8v0.2h-1.8zM1008.6 218.3h1.8v0.2h-1.8zM1008.6 208.3h1.8v0.2h-1.8zM1008.6 212.3h1.8v0.2h-1.8zM1020.6 200.5h5.8v1.8h-5.8zM1018.6 202.5h1.8v1.8h-1.8zM1026.6 202.5h1.8v1.8h-1.8zM1018.6 204.5h1.8v1.8h-1.8zM1026.6 204.5h1.8v1.8h-1.8zM1026.6 206.5h1.8v1.8h-1.8zM1024.6 208.5h1.8v1.8h-1.8zM1022.6 210.5h1.8v1.8h-1.8zM1020.6 212.5h1.8v1.8h-1.8zM1018.6 214.5h1.8v1.8h-1.8zM1018.6 216.5h1.8v1.8h-1.8zM1018.6 218.5h9.8v1.8h-9.8zM1026.6 206.3h1.8v0.2h-1.8zM1018.6 216.3h1.8v0.2h-1.8zM1026.6 204.3h1.8v0.2h-1.8zM1018.6 218.3h1.8v0.2h-1.8zM1018.6 204.3h1.8v0.2h-1.8zM1106.6 200.5h5.8v1.8h-5.8zM1104.6 202.5h1.8v1.8h-1.8zM1112.6 202.5h1.8v1.8h-1.8zM1104.6 204.5h1.8v1.8h-1.8zM1112.6 204.5h1.8v1.8h-1.8zM1104.6 206.5h1.8v1.8h-1.8zM1112.6 206.5h1.8v1.8h-1.8zM1106.6 208.5h5.8v1.8h-5.8zM1104.6 210.5h1.8v1.8h-1.8zM1112.6 210.5h1.8v1.8h-1.8zM1104.6 212.5h1.8v1.8h-1.8zM1112.6 212.5h1.8v1.8h-1.8zM1104.6 214.5h1.8v1.8h-1.8zM1112.6 214.5h1.8v1.8h-1.8zM1104.6 216.5h1.8v1.8h-1.8zM1112.6 216.5h1.8v1.8h-1.8zM1106.6 218.5h5.8v1.8h-5.8zM1112.6 212.3h1.8v0.2h-1.8zM1104.6 204.3h1.8v0.2h-1.8zM1112.6 216.3h1.8v0.2h-1.8zM1104.6 212.3h1.8v0.2h-1.8zM1112.6 206.3h1.8v0.2h-1.8zM1104.6 216.3h1.8v0.2h-1.8zM1112.6 214.3h1.8v0.2h-1.8zM1104.6 206.3h1.8v0.2h-1.8zM1112.6 204.3h1.8v0.2h-1.8zM1104.6 214.3h1.8v0.2h-1.8zM1120.6 200.5h5.8v1.8h-5.8zM1118.6 202.5h1.8v1.8h-1.8zM1126.6 202.5h1.8v1.8h-1.8zM1126.6 204.5h1.8v1.8h-1.8zM1126.6 206.5h1.8v1.8h-1.8zM1122.6 208.5h3.8v1.8h-3.8zM1126.6 210.5h1.8v1.8h-1.8zM1126.6 212.5h1.8v1.8h-1.8zM1126.6 214.5h1.8v1.8h-1.8zM1118.6 216.5h1.8v1.8h-1.8zM1126.6 216.5h1.8v1.8h-1.8zM1120.6 218.5h5.8v1.8h-5.8zM1126.6 216.3h1.8v0.2h-1.8zM1126.6 206.3h1.8v0.2h-1.8zM1126.6 212.3h1.8v0.2h-1.8zM1126.6 214.3h1.8v0.2h-1.8zM1126.6 204.3h1.8v0.2h-1.8zM1132.6 200.5h9.8v1.8h-9.8zM1132.6 202.5h1.8v1.8h-1.8zM1132.6 204.5h1.8v1.8h-1.8zM1132.6 206.5h1.8v1.8h-1.8zM1132.6 208.5h7.8v1.8h-7.8zM1132.6 210.5h1.8v1.8h-1.8zM1140.6 210.5h1.8v1.8h-1.8zM1140.6 212.5h1.8v1.8h-1.8zM1140.6 214.5h1.8v1.8h-1.8zM1132.6 216.5h1.8v1.8h-1.8zM1140.6 216.5h1.8v1.8h-1.8zM1134.6 218.5h5.8v1.8h-5.8zM1132.6 210.3h1.8v0.2h-1.8zM1140.6 212.3h1.8v0.2h-1.8zM1132.6 204.3h1.8v0.2h-1.8zM1140.6 216.3h1.8v0.2h-1.8zM1132.6 208.3h1.8v0.2h-1.8zM1140.6 214.3h1.8v0.2h-1.8zM1132.6 202.3h1.8v0.2h-1.8zM1132.6 206.3h1.8v0.2h-1.8zM1148.6 200.5h5.8v1.8h-5.8zM1146.6 202.5h1.8v1.8h-1.8zM1154.6 202.5h1.8v1.8h-1.8zM1146.6 204.5h1.8v1.8h-1.8zM1154.6 204.5h1.8v1.8h-1.8zM1146.6 206.5h1.8v1.8h-1.8zM1154.6 206.5h1.8v1.8h-1.8zM1146.6 208.5h1.8v1.8h-1.8zM1152.6 208.5h3.8v1.8h-3.8zM1148.6 210.5h3.8v1.8h-3.8zM1154.6 210.5h1.8v1.8h-1.8zM1154.6 212.5h1.8v1.8h-1.8zM1154.6 214.5h1.8v1.8h-1.8zM1146.6 216.5h1.8v1.8h-1.8zM1154.6 216.5h1.8v1.8h-1.8zM1148.6 218.5h5.8v1.8h-5.8zM1154.6 208.3h1.8v0.2h-1.8zM1154.6 212.3h1.8v0.2h-1.8zM1146.6 204.3h1.8v0.2h-1.8zM1154.6 216.3h1.8v0.2h-1.8zM1146.6 208.3h1.8v0.2h-1.8zM1154.6 206.3h1.8v0.2h-1.8zM1154.6 214.3h1.8v0.2h-1.8zM1154.6 210.3h1.8v0.2h-1.8zM1146.6 206.3h1.8v0.2h-1.8zM1154.6 204.3h1.8v0.2h-1.8zM72.6 236.5h5.8v1.8h-5.8zM70.6 238.5h1.8v1.8h-1.8zM78.6 238.5h1.8v1.8h-1.8zM70.6 240.5h1.8v1.8h-1.8zM78.6 240.5h1.8v1.8h-1.8zM70.6 242.5h1.8v1.8h-1.8zM78.6 242.5h1.8v1.8h-1.8zM72.6 244.5h5.8v1.8h-5.8zM70.6 246.5h1.8v1.8h-1.8zM78.6 246.5h1.8v1.8h-1.8zM70.6 248.5h1.8v1.8h-1.8zM78.6 248.5h1.8v1.8h-1.8zM70.6 250.5h1.8v1.8h-1.8zM78.6 250.5h1.8v1.8h-1.8zM70.6 252.5h1.8v1.8h-1.8zM78.6 252.5h1.8v1.8h-1.8zM72.6 254.5h5.8v1.8h-5.8zM78.6 248.3h1.8v0.2h-1.8zM70.6 240.3h1.8v0.2h-1.8zM78.6 252.3h1.8v0.2h-1.8zM70.6 248.3h1.8v0.2h-1.8zM78.6 242.3h1.8v0.2h-1.8zM70.6 252.3h1.8v0.2h-1.8zM78.6 250.3h1.8v0.2h-1.8zM70.6 242.3h1.8v0.2h-1.8zM78.6 240.3h1.8v0.2h-1.8zM70.6 250.3h1.8v0.2h-1.8zM84.6 254.5h1.8v1.8h-1.8zM92.6 236.5h5.8v1.8h-5.8zM90.6 238.5h1.8v1.8h-1.8zM98.6 238.5h1.8v1.8h-1.8zM90.6 240.5h1.8v1.8h-1.8zM98.6 240.5h1.8v1.8h-1.8zM90.6 242.5h1.8v1.8h-1.8zM98.6 242.5h1.8v1.8h-1.8zM90.6 244.5h1.8v1.8h-1.8zM98.6 244.5h1.8v1.8h-1.8zM90.6 246.5h1.8v1.8h-1.8zM98.6 246.5h1.8v1.8h-1.8zM90.6 248.5h1.8v1.8h-1.8zM98.6 248.5h1.8v1.8h-1.8zM90.6 250.5h1.8v1.8h-1.8zM98.6 250.5h1.8v1.8h-1.8zM90.6 252.5h1.8v1.8h-1.8zM98.6 252.5h1.8v1.8h-1.8zM92.6 254.5h5.8v1.8h-5.8zM90.6 246.3h1.8v0.2h-1.8zM98.6 244.3h1.8v0.2h-1.8zM98.6 248.3h1.8v0.2h-1.8zM90.6 240.3h1.8v0.2h-1.8zM98.6 252.3h1.8v0.2h-1.8zM90.6 244.3h1.8v0.2h-1.8zM90.6 248.3h1.8v0.2h-1.8zM98.6 242.3h1.8v0.2h-1.8zM90.6 252.3h1.8v0.2h-1.8zM98.6 250.3h1.8v0.2h-1.8zM98.6 246.3h1.8v0.2h-1.8zM90.6 242.3h1.8v0.2h-1.8zM98.6 240.3h1.8v0.2h-1.8zM90.6 250.3h1.8v0.2h-1.8zM978.6 236.5h5.8v1.8h-5.8zM976.6 238.5h1.8v1.8h-1.8zM984.6 238.5h1.8v1.8h-1.8zM984.6 240.5h1.8v1.8h-1.8zM984.6 242.5h1.8v1.8h-1.8zM980.6 244.5h3.8v1.8h-3.8zM984.6 246.5h1.8v1.8h-1.8zM984.6 248.5h1.8v1.8h-1.8zM984.6 250.5h1.8v1.8h-1.8zM976.6 252.5h1.8v1.8h-1.8zM984.6 252.5h1.8v1.8h-1.8zM978.6 254.5h5.8v1.8h-5.8zM984.6 252.3h1.8v0.2h-1.8zM984.6 242.3h1.8v0.2h-1.8zM984.6 248.3h1.8v0.2h-1.8zM984.6 250.3h1.8v0.2h-1.8zM984.6 240.3h1.8v0.2h-1.8zM992.6 236.5h5.8v1.8h-5.8zM990.6 238.5h1.8v1.8h-1.8zM998.6 238.5h1.8v1.8h-1.8zM990.6 240.5h1.8v1.8h-1.8zM998.6 240.5h1.8v1.8h-1.8zM998.6 242.5h1.8v1.8h-1.8zM996.6 244.5h1.8v1.8h-1.8zM994.6 246.5h1.8v1.8h-1.8zM992.6 248.5h1.8v1.8h-1.8zM990.6 250.5h1.8v1.8h-1.8zM990.6 252.5h1.8v1.8h-1.8zM990.6 254.5h9.8v1.8h-9.8zM998.6 242.3h1.8v0.2h-1.8zM990.6 252.3h1.8v0.2h-1.8zM998.6 240.3h1.8v0.2h-1.8zM990.6 254.3h1.8v0.2h-1.8zM990.6 240.3h1.8v0.2h-1.8zM1004.6 236.5h9.8v1.8h-9.8zM1004.6 238.5h1.8v1.8h-1.8zM1004.6 240.5h1.8v1.8h-1.8zM1004.6 242.5h1.8v1.8h-1.8zM1004.6 244.5h7.8v1.8h-7.8zM1004.6 246.5h1.8v1.8h-1.8zM1012.6 246.5h1.8v1.8h-1.8zM1012.6 248.5h1.8v1.8h-1.8zM1012.6 250.5h1.8v1.8h-1.8zM1004.6 252.5h1.8v1.8h-1.8zM1012.6 252.5h1.8v1.8h-1.8zM1006.6 254.5h5.8v1.8h-5.8zM1004.6 246.3h1.8v0.2h-1.8zM1012.6 248.3h1.8v0.2h-1.8zM1004.6 240.3h1.8v0.2h-1.8zM1012.6 252.3h1.8v0.2h-1.8zM1004.6 244.3h1.8v0.2h-1.8zM1012.6 250.3h1.8v0.2h-1.8zM1004.6 238.3h1.8v0.2h-1.8zM1004.6 242.3h1.8v0.2h-1.8zM1018.6 236.5h9.8v1.8h-9.8zM1026.6 238.5h1.8v1.8h-1.8zM1026.6 240.5h1.8v1.8h-1.8zM1024.6 242.5h1.8v1.8h-1.8zM1024.6 244.5h1.8v1.8h-1.8zM1022.6 246.5h1.8v1.8h-1.8zM1022.6 248.5h1.8v1.8h-1.8zM1020.6 250.5h1.8v1.8h-1.8zM1020.6 252.5h1.8v1.8h-1.8zM1020.6 254.5h1.8v1.8h-1.8zM1026.6 238.3h1.8v0.2h-1.8zM1020.6 252.3h1.8v0.2h-1.8zM1020.6 254.3h1.8v0.2h-1.8zM1026.6 240.3h1.8v0.2h-1.8zM1024.6 244.3h1.8v0.2h-1.8zM1022.6 248.3h1.8v0.2h-1.8zM1106.6 236.5h5.8v1.8h-5.8zM1104.6 238.5h1.8v1.8h-1.8zM1112.6 238.5h1.8v1.8h-1.8zM1104.6 240.5h1.8v1.8h-1.8zM1112.6 240.5h1.8v1.8h-1.8zM1104.6 242.5h1.8v1.8h-1.8zM1112.6 242.5h1.8v1.8h-1.8zM1106.6 244.5h5.8v1.8h-5.8zM1104.6 246.5h1.8v1.8h-1.8zM1112.6 246.5h1.8v1.8h-1.8zM1104.6 248.5h1.8v1.8h-1.8zM1112.6 248.5h1.8v1.8h-1.8zM1104.6 250.5h1.8v1.8h-1.8zM1112.6 250.5h1.8v1.8h-1.8zM1104.6 252.5h1.8v1.8h-1.8zM1112.6 252.5h1.8v1.8h-1.8zM1106.6 254.5h5.8v1.8h-5.8zM1112.6 248.3h1.8v0.2h-1.8zM1104.6 240.3h1.8v0.2h-1.8zM1112.6 252.3h1.8v0.2h-1.8zM1104.6 248.3h1.8v0.2h-1.8zM1112.6 242.3h1.8v0.2h-1.8zM1104.6 252.3h1.8v0.2h-1.8zM1112.6 250.3h1.8v0.2h-1.8zM1104.6 242.3h1.8v0.2h-1.8zM1112.6 240.3h1.8v0.2h-1.8zM1104.6 250.3h1.8v0.2h-1.8zM1120.6 236.5h5.8v1.8h-5.8zM1118.6 238.5h1.8v1.8h-1.8zM1126.6 238.5h1.8v1.8h-1.8zM1118.6 240.5h1.8v1.8h-1.8zM1126.6 240.5h1.8v1.8h-1.8zM1118.6 242.5h1.8v1.8h-1.8zM1126.6 242.5h1.8v1.8h-1.8zM1120.6 244.5h5.8v1.8h-5.8zM1118.6 246.5h1.8v1.8h-1.8zM1126.6 246.5h1.8v1.8h-1.8zM1118.6 248.5h1.8v1.8h-1.8zM1126.6 248.5h1.8v1.8h-1.8zM1118.6 250.5h1.8v1.8h-1.8zM1126.6 250.5h1.8v1.8h-1.8zM1118.6 252.5h1.8v1.8h-1.8zM1126.6 252.5h1.8v1.8h-1.8zM1120.6 254.5h5.8v1.8h-5.8zM1126.6 248.3h1.8v0.2h-1.8zM1118.6 240.3h1.8v0.2h-1.8zM1126.6 252.3h1.8v0.2h-1.8zM1118.6 248.3h1.8v0.2h-1.8zM1126.6 242.3h1.8v0.2h-1.8zM1118.6 252.3h1.8v0.2h-1.8zM1126.6 250.3h1.8v0.2h-1.8zM1118.6 242.3h1.8v0.2h-1.8zM1126.6 240.3h1.8v0.2h-1.8zM1118.6 250.3h1.8v0.2h-1.8zM1134.6 236.5h5.8v1.8h-5.8zM1132.6 238.5h1.8v1.8h-1.8zM1140.6 238.5h1.8v1.8h-1.8zM1132.6 240.5h1.8v1.8h-1.8zM1140.6 240.5h1.8v1.8h-1.8zM1132.6 242.5h1.8v1.8h-1.8zM1140.6 242.5h1.8v1.8h-1.8zM1134.6 244.5h5.8v1.8h-5.8zM1132.6 246.5h1.8v1.8h-1.8zM1140.6 246.5h1.8v1.8h-1.8zM1132.6 248.5h1.8v1.8h-1.8zM1140.6 248.5h1.8v1.8h-1.8zM1132.6 250.5h1.8v1.8h-1.8zM1140.6 250.5h1.8v1.8h-1.8zM1132.6 252.5h1.8v1.8h-1.8zM1140.6 252.5h1.8v1.8h-1.8zM1134.6 254.5h5.8v1.8h-5.8zM1140.6 248.3h1.8v0.2h-1.8zM1132.6 240.3h1.8v0.2h-1.8zM1140.6 252.3h1.8v0.2h-1.8zM1132.6 248.3h1.8v0.2h-1.8zM1140.6 242.3h1.8v0.2h-1.8zM1132.6 252.3h1.8v0.2h-1.8zM1140.6 250.3h1.8v0.2h-1.8zM1132.6 242.3h1.8v0.2h-1.8zM1140.6 240.3h1.8v0.2h-1.8zM1132.6 250.3h1.8v0.2h-1.8zM1146.6 236.5h9.8v1.8h-9.8zM1146.6 238.5h1.8v1.8h-1.8zM1146.6 240.5h1.8v1.8h-1.8zM1146.6 242.5h1.8v1.8h-1.8zM1146.6 244.5h7.8v1.8h-7.8zM1146.6 246.5h1.8v1.8h-1.8zM1154.6 246.5h1.8v1.8h-1.8zM1154.6 248.5h1.8v1.8h-1.8zM1154.6 250.5h1.8v1.8h-1.8zM1146.6 252.5h1.8v1.8h-1.8zM1154.6 252.5h1.8v1.8h-1.8zM1148.6 254.5h5.8v1.8h-5.8zM1146.6 246.3h1.8v0.2h-1.8zM1154.6 248.3h1.8v0.2h-1.8zM1146.6 240.3h1.8v0.2h-1.8zM1154.6 252.3h1.8v0.2h-1.8zM1146.6 244.3h1.8v0.2h-1.8zM1154.6 250.3h1.8v0.2h-1.8zM1146.6 238.3h1.8v0.2h-1.8zM1146.6 242.3h1.8v0.2h-1.8zM60.6 272.5h1.8v1.8h-1.8zM56.6 274.5h5.8v1.8h-5.8zM60.6 276.5h1.8v1.8h-1.8zM60.6 278.5h1.8v1.8h-1.8zM60.6 280.5h1.8v1.8h-1.8zM60.6 282.5h1.8v1.8h-1.8zM60.6 284.5h1.8v1.8h-1.8zM60.6 286.5h1.8v1.8h-1.8zM60.6 288.5h1.8v1.8h-1.8zM60.6 290.5h1.8v1.8h-1.8zM60.6 286.3h1.8v0.2h-1.8zM60.6 276.3h1.8v0.2h-1.8zM60.6 282.3h1.8v0.2h-1.8zM60.6 274.3h1.8v0.2h-1.8zM60.6 288.3h1.8v0.2h-1.8zM60.6 278.3h1.8v0.2h-1.8zM60.6 290.3h1.8v0.2h-1.8zM60.6 280.3h1.8v0.2h-1.8zM60.6 284.3h1.8v0.2h-1.8zM72.6 272.5h5.8v1.8h-5.8zM70.6 274.5h1.8v1.8h-1.8zM78.6 274.5h1.8v1.8h-1.8zM70.6 276.5h1.8v1.8h-1.8zM70.6 278.5h1.8v1.8h-1.8zM70.6 280.5h1.8v1.8h-1.8zM74.6 280.5h3.8v1.8h-3.8zM70.6 282.5h3.8v1.8h-3.8zM78.6 282.5h1.8v1.8h-1.8zM70.6 284.5h1.8v1.8h-1.8zM78.6 284.5h1.8v1.8h-1.8zM70.6 286.5h1.8v1.8h-1.8zM78.6 286.5h1.8v1.8h-1.8zM70.6 288.5h1.8v1.8h-1.8zM78.6 288.5h1.8v1.8h-1.8zM72.6 290.5h5.8v1.8h-5.8zM70.6 282.3h1.8v0.2h-1.8zM78.6 284.3h1.8v0.2h-1.8zM70.6 276.3h1.8v0.2h-1.8zM78.6 288.3h1.8v0.2h-1.8zM70.6 280.3h1.8v0.2h-1.8zM70.6 284.3h1.8v0.2h-1.8zM70.6 288.3h1.8v0.2h-1.8zM78.6 286.3h1.8v0.2h-1.8zM70.6 278.3h1.8v0.2h-1.8zM70.6 286.3h1.8v0.2h-1.8zM84.6 290.5h1.8v1.8h-1.8zM92.6 272.5h5.8v1.8h-5.8zM90.6 274.5h1.8v1.8h-1.8zM98.6 274.5h1.8v1.8h-1.8zM90.6 276.5h1.8v1.8h-1.8zM98.6 276.5h1.8v1.8h-1.8zM90.6 278.5h1.8v1.8h-1.8zM98.6 278.5h1.8v1.8h-1.8zM90.6 280.5h1.8v1.8h-1.8zM98.6 280.5h1.8v1.8h-1.8zM90.6 282.5h1.8v1.8h-1.8zM98.6 282.5h1.8v1.8h-1.8zM90.6 284.5h1.8v1.8h-1.8zM98.6 284.5h1.8v1.8h-1.8zM90.6 286.5h1.8v1.8h-1.8zM98.6 286.5h1.8v1.8h-1.8zM90.6 288.5h1.8v1.8h-1.8zM98.6 288.5h1.8v1.8h-1.8zM92.6 290.5h5.8v1.8h-5.8zM90.6 282.3h1.8v0.2h-1.8zM98.6 280.3h1.8v0.2h-1.8zM98.6 284.3h1.8v0.2h-1.8zM90.6 276.3h1.8v0.2h-1.8zM98.6 288.3h1.8v0.2h-1.8zM90.6 280.3h1.8v0.2h-1.8zM90.6 284.3h1.8v0.2h-1.8zM98.6 278.3h1.8v0.2h-1.8zM90.6 288.3h1.8v0.2h-1.8zM98.6 286.3h1.8v0.2h-1.8zM98.6 282.3h1.8v0.2h-1.8zM90.6 278.3h1.8v0.2h-1.8zM98.6 276.3h1.8v0.2h-1.8zM90.6 286.3h1.8v0.2h-1.8zM978.6 272.5h5.8v1.8h-5.8zM976.6 274.5h1.8v1.8h-1.8zM984.6 274.5h1.8v1.8h-1.8zM976.6 276.5h1.8v1.8h-1.8zM984.6 276.5h1.8v1.8h-1.8zM976.6 278.5h1.8v1.8h-1.8zM984.6 278.5h1.8v1.8h-1.8zM976.6 280.5h1.8v1.8h-1.8zM982.6 280.5h3.8v1.8h-3.8zM978.6 282.5h3.8v1.8h-3.8zM984.6 282.5h1.8v1.8h-1.8zM984.6 284.5h1.8v1.8h-1.8zM984.6 286.5h1.8v1.8h-1.8zM976.6 288.5h1.8v1.8h-1.8zM984.6 288.5h1.8v1.8h-1.8zM978.6 290.5h5.8v1.8h-5.8zM984.6 280.3h1.8v0.2h-1.8zM984.6 284.3h1.8v0.2h-1.8zM976.6 276.3h1.8v0.2h-1.8zM984.6 288.3h1.8v0.2h-1.8zM976.6 280.3h1.8v0.2h-1.8zM984.6 278.3h1.8v0.2h-1.8zM984.6 286.3h1.8v0.2h-1.8zM984.6 282.3h1.8v0.2h-1.8zM976.6 278.3h1.8v0.2h-1.8zM984.6 276.3h1.8v0.2h-1.8zM994.6 272.5h1.8v1.8h-1.8zM990.6 274.5h5.8v1.8h-5.8zM994.6 276.5h1.8v1.8h-1.8zM994.6 278.5h1.8v1.8h-1.8zM994.6 280.5h1.8v1.8h-1.8zM994.6 282.5h1.8v1.8h-1.8zM994.6 284.5h1.8v1.8h-1.8zM994.6 286.5h1.8v1.8h-1.8zM994.6 288.5h1.8v1.8h-1.8zM994.6 290.5h1.8v1.8h-1.8zM994.6 286.3h1.8v0.2h-1.8zM994.6 276.3h1.8v0.2h-1.8zM994.6 282.3h1.8v0.2h-1.8zM994.6 274.3h1.8v0.2h-1.8zM994.6 288.3h1.8v0.2h-1.8zM994.6 278.3h1.8v0.2h-1.8zM994.6 290.3h1.8v0.2h-1.8zM994.6 280.3h1.8v0.2h-1.8zM994.6 284.3h1.8v0.2h-1.8zM1004.6 272.5h9.8v1.8h-9.8zM1004.6 274.5h1.8v1.8h-1.8zM1004.6 276.5h1.8v1.8h-1.8zM1004.6 278.5h1.8v1.8h-1.8zM1004.6 280.5h7.8v1.8h-7.8zM1004.6 282.5h1.8v1.8h-1.8zM1012.6 282.5h1.8v1.8h-1.8zM1012.6 284.5h1.8v1.8h-1.8zM1012.6 286.5h1.8v1.8h-1.8zM1004.6 288.5h1.8v1.8h-1.8zM1012.6 288.5h1.8v1.8h-1.8zM1006.6 290.5h5.8v1.8h-5.8zM1004.6 282.3h1.8v0.2h-1.8zM1012.6 284.3h1.8v0.2h-1.8zM1004.6 276.3h1.8v0.2h-1.8zM1012.6 288.3h1.8v0.2h-1.8zM1004.6 280.3h1.8v0.2h-1.8zM1012.6 286.3h1.8v0.2h-1.8zM1004.6 274.3h1.8v0.2h-1.8zM1004.6 278.3h1.8v0.2h-1.8zM1020.6 272.5h5.8v1.8h-5.8zM1018.6 274.5h1.8v1.8h-1.8zM1026.6 274.5h1.8v1.8h-1.8zM1026.6 276.5h1.8v1.8h-1.8zM1026.6 278.5h1.8v1.8h-1.8zM1022.6 280.5h3.8v1.8h-3.8zM1026.6 282.5h1.8v1.8h-1.8zM1026.6 284.5h1.8v1.8h-1.8zM1026.6 286.5h1.8v1.8h-1.8zM1018.6 288.5h1.8v1.8h-1.8zM1026.6 288.5h1.8v1.8h-1.8zM1020.6 290.5h5.8v1.8h-5.8zM1026.6 288.3h1.8v0.2h-1.8zM1026.6 278.3h1.8v0.2h-1.8zM1026.6 284.3h1.8v0.2h-1.8zM1026.6 286.3h1.8v0.2h-1.8zM1026.6 276.3h1.8v0.2h-1.8zM1094.6 272.5h1.8v1.8h-1.8zM1090.6 274.5h5.8v1.8h-5.8zM1094.6 276.5h1.8v1.8h-1.8zM1094.6 278.5h1.8v1.8h-1.8zM1094.6 280.5h1.8v1.8h-1.8zM1094.6 282.5h1.8v1.8h-1.8zM1094.6 284.5h1.8v1.8h-1.8zM1094.6 286.5h1.8v1.8h-1.8zM1094.6 288.5h1.8v1.8h-1.8zM1094.6 290.5h1.8v1.8h-1.8zM1094.6 286.3h1.8v0.2h-1.8zM1094.6 276.3h1.8v0.2h-1.8zM1094.6 282.3h1.8v0.2h-1.8zM1094.6 274.3h1.8v0.2h-1.8zM1094.6 288.3h1.8v0.2h-1.8zM1094.6 278.3h1.8v0.2h-1.8zM1094.6 290.3h1.8v0.2h-1.8zM1094.6 280.3h1.8v0.2h-1.8zM1094.6 284.3h1.8v0.2h-1.8zM1106.6 272.5h5.8v1.8h-5.8zM1104.6 274.5h1.8v1.8h-1.8zM1112.6 274.5h1.8v1.8h-1.8zM1104.6 276.5h1.8v1.8h-1.8zM1104.6 278.5h1.8v1.8h-1.8zM1104.6 280.5h1.8v1.8h-1.8zM1108.6 280.5h3.8v1.8h-3.8zM1104.6 282.5h3.8v1.8h-3.8zM1112.6 282.5h1.8v1.8h-1.8zM1104.6 284.5h1.8v1.8h-1.8zM1112.6 284.5h1.8v1.8h-1.8zM1104.6 286.5h1.8v1.8h-1.8zM1112.6 286.5h1.8v1.8h-1.8zM1104.6 288.5h1.8v1.8h-1.8zM1112.6 288.5h1.8v1.8h-1.8zM1106.6 290.5h5.8v1.8h-5.8zM1104.6 282.3h1.8v0.2h-1.8zM1112.6 284.3h1.8v0.2h-1.8zM1104.6 276.3h1.8v0.2h-1.8zM1112.6 288.3h1.8v0.2h-1.8zM1104.6 280.3h1.8v0.2h-1.8zM1104.6 284.3h1.8v0.2h-1.8zM1104.6 288.3h1.8v0.2h-1.8zM1112.6 286.3h1.8v0.2h-1.8zM1104.6 278.3h1.8v0.2h-1.8zM1104.6 286.3h1.8v0.2h-1.8zM1122.6 272.5h1.8v1.8h-1.8zM1118.6 274.5h5.8v1.8h-5.8zM1122.6 276.5h1.8v1.8h-1.8zM1122.6 278.5h1.8v1.8h-1.8zM1122.6 280.5h1.8v1.8h-1.8zM1122.6 282.5h1.8v1.8h-1.8zM1122.6 284.5h1.8v1.8h-1.8zM1122.6 286.5h1.8v1.8h-1.8zM1122.6 288.5h1.8v1.8h-1.8zM1122.6 290.5h1.8v1.8h-1.8zM1122.6 286.3h1.8v0.2h-1.8zM1122.6 276.3h1.8v0.2h-1.8zM1122.6 282.3h1.8v0.2h-1.8zM1122.6 274.3h1.8v0.2h-1.8zM1122.6 288.3h1.8v0.2h-1.8zM1122.6 278.3h1.8v0.2h-1.8zM1122.6 290.3h1.8v0.2h-1.8zM1122.6 280.3h1.8v0.2h-1.8zM1122.6 284.3h1.8v0.2h-1.8zM1134.6 272.5h5.8v1.8h-5.8zM1132.6 274.5h1.8v1.8h-1.8zM1140.6 274.5h1.8v1.8h-1.8zM1132.6 276.5h1.8v1.8h-1.8zM1140.6 276.5h1.8v1.8h-1.8zM1132.6 278.5h1.8v1.8h-1.8zM1140.6 278.5h1.8v1.8h-1.8zM1134.6 280.5h5.8v1.8h-5.8zM1132.6 282.5h1.8v1.8h-1.8zM1140.6 282.5h1.8v1.8h-1.8zM1132.6 284.5h1.8v1.8h-1.8zM1140.6 284.5h1.8v1.8h-1.8zM1132.6 286.5h1.8v1.8h-1.8zM1140.6 286.5h1.8v1.8h-1.8zM1132.6 288.5h1.8v1.8h-1.8zM1140.6 288.5h1.8v1.8h-1.8zM1134.6 290.5h5.8v1.8h-5.8zM1140.6 284.3h1.8v0.2h-1.8zM1132.6 276.3h1.8v0.2h-1.8zM1140.6 288.3h1.8v0.2h-1.8zM1132.6 284.3h1.8v0.2h-1.8zM1140.6 278.3h1.8v0.2h-1.8zM1132.6 288.3h1.8v0.2h-1.8zM1140.6 286.3h1.8v0.2h-1.8zM1132.6 278.3h1.8v0.2h-1.8zM1140.6 276.3h1.8v0.2h-1.8zM1132.6 286.3h1.8v0.2h-1.8zM1148.6 272.5h5.8v1.8h-5.8zM1146.6 274.5h1.8v1.8h-1.8zM1154.6 274.5h1.8v1.8h-1.8zM1146.6 276.5h1.8v1.8h-1.8zM1154.6 276.5h1.8v1.8h-1.8zM1146.6 278.5h1.8v1.8h-1.8zM1154.6 278.5h1.8v1.8h-1.8zM1146.6 280.5h1.8v1.8h-1.8zM1152.6 280.5h3.8v1.8h-3.8zM1148.6 282.5h3.8v1.8h-3.8zM1154.6 282.5h1.8v1.8h-1.8zM1154.6 284.5h1.8v1.8h-1.8zM1154.6 286.5h1.8v1.8h-1.8zM1146.6 288.5h1.8v1.8h-1.8zM1154.6 288.5h1.8v1.8h-1.8zM1148.6 290.5h5.8v1.8h-5.8zM1154.6 280.3h1.8v0.2h-1.8zM1154.6 284.3h1.8v0.2h-1.8zM1146.6 276.3h1.8v0.2h-1.8zM1154.6 288.3h1.8v0.2h-1.8zM1146.6 280.3h1.8v0.2h-1.8zM1154.6 278.3h1.8v0.2h-1.8zM1154.6 286.3h1.8v0.2h-1.8zM1154.6 282.3h1.8v0.2h-1.8zM1146.6 278.3h1.8v0.2h-1.8zM1154.6 276.3h1.8v0.2h-1.8zM58.6 308.5h5.8v1.8h-5.8zM56.6 310.5h1.8v1.8h-1.8zM64.6 310.5h1.8v1.8h-1.8zM64.6 312.5h1.8v1.8h-1.8zM64.6 314.5h1.8v1.8h-1.8zM60.6 316.5h3.8v1.8h-3.8zM64.6 318.5h1.8v1.8h-1.8zM64.6 320.5h1.8v1.8h-1.8zM64.6 322.5h1.8v1.8h-1.8zM56.6 324.5h1.8v1.8h-1.8zM64.6 324.5h1.8v1.8h-1.8zM58.6 326.5h5.8v1.8h-5.8zM64.6 324.3h1.8v0.2h-1.8zM64.6 314.3h1.8v0.2h-1.8zM64.6 320.3h1.8v0.2h-1.8zM64.6 322.3h1.8v0.2h-1.8zM64.6 312.3h1.8v0.2h-1.8zM72.6 308.5h5.8v1.8h-5.8zM70.6 310.5h1.8v1.8h-1.8zM78.6 310.5h1.8v1.8h-1.8zM70.6 312.5h1.8v1.8h-1.8zM78.6 312.5h1.8v1.8h-1.8zM78.6 314.5h1.8v1.8h-1.8zM76.6 316.5h1.8v1.8h-1.8zM74.6 318.5h1.8v1.8h-1.8zM72.6 320.5h1.8v1.8h-1.8zM70.6 322.5h1.8v1.8h-1.8zM70.6 324.5h1.8v1.8h-1.8zM70.6 326.5h9.8v1.8h-9.8zM78.6 314.3h1.8v0.2h-1.8zM70.6 324.3h1.8v0.2h-1.8zM78.6 312.3h1.8v0.2h-1.8zM70.6 326.3h1.8v0.2h-1.8zM70.6 312.3h1.8v0.2h-1.8zM84.6 326.5h1.8v1.8h-1.8zM92.6 308.5h5.8v1.8h-5.8zM90.6 310.5h1.8v1.8h-1.8zM98.6 310.5h1.8v1.8h-1.8zM90.6 312.5h1.8v1.8h-1.8zM98.6 312.5h1.8v1.8h-1.8zM90.6 314.5h1.8v1.8h-1.8zM98.6 314.5h1.8v1.8h-1.8zM90.6 316.5h1.8v1.8h-1.8zM98.6 316.5h1.8v1.8h-1.8zM90.6 318.5h1.8v1.8h-1.8zM98.6 318.5h1.8v1.8h-1.8zM90.6 320.5h1.8v1.8h-1.8zM98.6 320.5h1.8v1.8h-1.8zM90.6 322.5h1.8v1.8h-1.8zM98.6 322.5h1.8v1.8h-1.8zM90.6 324.5h1.8v1.8h-1.8zM98.6 324.5h1.8v1.8h-1.8zM92.6 326.5h5.8v1.8h-5.8zM90.6 318.3h1.8v0.2h-1.8zM98.6 316.3h1.8v0.2h-1.8zM98.6 320.3h1.8v0.2h-1.8zM90.6 312.3h1.8v0.2h-1.8zM98.6 324.3h1.8v0.2h-1.8zM90.6 316.3h1.8v0.2h-1.8zM90.6 320.3h1.8v0.2h-1.8zM98.6 314.3h1.8v0.2h-1.8zM90.6 324.3h1.8v0.2h-1.8zM98.6 322.3h1.8v0.2h-1.8zM98.6 318.3h1.8v0.2h-1.8zM90.6 314.3h1.8v0.2h-1.8zM98.6 312.3h1.8v0.2h-1.8zM90.6 322.3h1.8v0.2h-1.8zM966.6 308.5h1.8v1.8h-1.8zM962.6 310.5h5.8v1.8h-5.8zM966.6 312.5h1.8v1.8h-1.8zM966.6 314.5h1.8v1.8h-1.8zM966.6 316.5h1.8v1.8h-1.8zM966.6 318.5h1.8v1.8h-1.8zM966.6 320.5h1.8v1.8h-1.8zM966.6 322.5h1.8v1.8h-1.8zM966.6 324.5h1.8v1.8h-1.8zM966.6 326.5h1.8v1.8h-1.8zM966.6 322.3h1.8v0.2h-1.8zM966.6 312.3h1.8v0.2h-1.8zM966.6 318.3h1.8v0.2h-1.8zM966.6 310.3h1.8v0.2h-1.8zM966.6 324.3h1.8v0.2h-1.8zM966.6 314.3h1.8v0.2h-1.8zM966.6 326.3h1.8v0.2h-1.8zM966.6 316.3h1.8v0.2h-1.8zM966.6 320.3h1.8v0.2h-1.8zM978.6 308.5h5.8v1.8h-5.8zM976.6 310.5h1.8v1.8h-1.8zM984.6 310.5h1.8v1.8h-1.8zM976.6 312.5h1.8v1.8h-1.8zM984.6 312.5h1.8v1.8h-1.8zM976.6 314.5h1.8v1.8h-1.8zM984.6 314.5h1.8v1.8h-1.8zM976.6 316.5h1.8v1.8h-1.8zM984.6 316.5h1.8v1.8h-1.8zM976.6 318.5h1.8v1.8h-1.8zM984.6 318.5h1.8v1.8h-1.8zM976.6 320.5h1.8v1.8h-1.8zM984.6 320.5h1.8v1.8h-1.8zM976.6 322.5h1.8v1.8h-1.8zM984.6 322.5h1.8v1.8h-1.8zM976.6 324.5h1.8v1.8h-1.8zM984.6 324.5h1.8v1.8h-1.8zM978.6 326.5h5.8v1.8h-5.8zM976.6 318.3h1.8v0.2h-1.8zM984.6 316.3h1.8v0.2h-1.8zM984.6 320.3h1.8v0.2h-1.8zM976.6 312.3h1.8v0.2h-1.8zM984.6 324.3h1.8v0.2h-1.8zM976.6 316.3h1.8v0.2h-1.8zM976.6 320.3h1.8v0.2h-1.8zM984.6 314.3h1.8v0.2h-1.8zM976.6 324.3h1.8v0.2h-1.8zM984.6 322.3h1.8v0.2h-1.8zM984.6 318.3h1.8v0.2h-1.8zM976.6 314.3h1.8v0.2h-1.8zM984.6 312.3h1.8v0.2h-1.8zM976.6 322.3h1.8v0.2h-1.8zM992.6 308.5h5.8v1.8h-5.8zM990.6 310.5h1.8v1.8h-1.8zM998.6 310.5h1.8v1.8h-1.8zM998.6 312.5h1.8v1.8h-1.8zM998.6 314.5h1.8v1.8h-1.8zM994.6 316.5h3.8v1.8h-3.8zM998.6 318.5h1.8v1.8h-1.8zM998.6 320.5h1.8v1.8h-1.8zM998.6 322.5h1.8v1.8h-1.8zM990.6 324.5h1.8v1.8h-1.8zM998.6 324.5h1.8v1.8h-1.8zM992.6 326.5h5.8v1.8h-5.8zM998.6 324.3h1.8v0.2h-1.8zM998.6 314.3h1.8v0.2h-1.8zM998.6 320.3h1.8v0.2h-1.8zM998.6 322.3h1.8v0.2h-1.8zM998.6 312.3h1.8v0.2h-1.8zM1004.6 308.5h9.8v1.8h-9.8zM1004.6 310.5h1.8v1.8h-1.8zM1004.6 312.5h1.8v1.8h-1.8zM1004.6 314.5h1.8v1.8h-1.8zM1004.6 316.5h7.8v1.8h-7.8zM1004.6 318.5h1.8v1.8h-1.8zM1012.6 318.5h1.8v1.8h-1.8zM1012.6 320.5h1.8v1.8h-1.8zM1012.6 322.5h1.8v1.8h-1.8zM1004.6 324.5h1.8v1.8h-1.8zM1012.6 324.5h1.8v1.8h-1.8zM1006.6 326.5h5.8v1.8h-5.8zM1004.6 318.3h1.8v0.2h-1.8zM1012.6 320.3h1.8v0.2h-1.8zM1004.6 312.3h1.8v0.2h-1.8zM1012.6 324.3h1.8v0.2h-1.8zM1004.6 316.3h1.8v0.2h-1.8zM1012.6 322.3h1.8v0.2h-1.8zM1004.6 310.3h1.8v0.2h-1.8zM1004.6 314.3h1.8v0.2h-1.8zM1020.6 308.5h5.8v1.8h-5.8zM1018.6 310.5h1.8v1.8h-1.8zM1026.6 310.5h1.8v1.8h-1.8zM1026.6 312.5h1.8v1.8h-1.8zM1026.6 314.5h1.8v1.8h-1.8zM1022.6 316.5h3.8v1.8h-3.8zM1026.6 318.5h1.8v1.8h-1.8zM1026.6 320.5h1.8v1.8h-1.8zM1026.6 322.5h1.8v1.8h-1.8zM1018.6 324.5h1.8v1.8h-1.8zM1026.6 324.5h1.8v1.8h-1.8zM1020.6 326.5h5.8v1.8h-5.8zM1026.6 324.3h1.8v0.2h-1.8zM1026.6 314.3h1.8v0.2h-1.8zM1026.6 320.3h1.8v0.2h-1.8zM1026.6 322.3h1.8v0.2h-1.8zM1026.6 312.3h1.8v0.2h-1.8zM1092.6 308.5h5.8v1.8h-5.8zM1090.6 310.5h1.8v1.8h-1.8zM1098.6 310.5h1.8v1.8h-1.8zM1090.6 312.5h1.8v1.8h-1.8zM1098.6 312.5h1.8v1.8h-1.8zM1098.6 314.5h1.8v1.8h-1.8zM1096.6 316.5h1.8v1.8h-1.8zM1094.6 318.5h1.8v1.8h-1.8zM1092.6 320.5h1.8v1.8h-1.8zM1090.6 322.5h1.8v1.8h-1.8zM1090.6 324.5h1.8v1.8h-1.8zM1090.6 326.5h9.8v1.8h-9.8zM1098.6 314.3h1.8v0.2h-1.8zM1090.6 324.3h1.8v0.2h-1.8zM1098.6 312.3h1.8v0.2h-1.8zM1090.6 326.3h1.8v0.2h-1.8zM1090.6 312.3h1.8v0.2h-1.8zM1106.6 308.5h5.8v1.8h-5.8zM1104.6 310.5h1.8v1.8h-1.8zM1112.6 310.5h1.8v1.8h-1.8zM1104.6 312.5h1.8v1.8h-1.8zM1104.6 314.5h1.8v1.8h-1.8zM1104.6 316.5h1.8v1.8h-1.8zM1108.6 316.5h3.8v1.8h-3.8zM1104.6 318.5h3.8v1.8h-3.8zM1112.6 318.5h1.8v1.8h-1.8zM1104.6 320.5h1.8v1.8h-1.8zM1112.6 320.5h1.8v1.8h-1.8zM1104.6 322.5h1.8v1.8h-1.8zM1112.6 322.5h1.8v1.8h-1.8zM1104.6 324.5h1.8v1.8h-1.8zM1112.6 324.5h1.8v1.8h-1.8zM1106.6 326.5h5.8v1.8h-5.8zM1104.6 318.3h1.8v0.2h-1.8zM1112.6 320.3h1.8v0.2h-1.8zM1104.6 312.3h1.8v0.2h-1.8zM1112.6 324.3h1.8v0.2h-1.8zM1104.6 316.3h1.8v0.2h-1.8zM1104.6 320.3h1.8v0.2h-1.8zM1104.6 324.3h1.8v0.2h-1.8zM1112.6 322.3h1.8v0.2h-1.8zM1104.6 314.3h1.8v0.2h-1.8zM1104.6 322.3h1.8v0.2h-1.8zM1126.6 308.5h1.8v1.8h-1.8zM1124.6 310.5h3.8v1.8h-3.8zM1122.6 312.5h1.8v1.8h-1.8zM1126.6 312.5h1.8v1.8h-1.8zM1122.6 314.5h1.8v1.8h-1.8zM1126.6 314.5h1.8v1.8h-1.8zM1120.6 316.5h1.8v1.8h-1.8zM1126.6 316.5h1.8v1.8h-1.8zM1118.6 318.5h1.8v1.8h-1.8zM1126.6 318.5h1.8v1.8h-1.8zM1118.6 320.5h9.8v1.8h-9.8zM1126.6 322.5h1.8v1.8h-1.8zM1126.6 324.5h1.8v1.8h-1.8zM1126.6 326.5h1.8v1.8h-1.8zM1126.6 316.3h1.8v0.2h-1.8zM1126.6 320.3h1.8v0.2h-1.8zM1122.6 314.3h1.8v0.2h-1.8zM1126.6 324.3h1.8v0.2h-1.8zM1118.6 320.3h1.8v0.2h-1.8zM1126.6 314.3h1.8v0.2h-1.8zM1126.6 310.3h1.8v0.2h-1.8zM1126.6 322.3h1.8v0.2h-1.8zM1126.6 318.3h1.8v0.2h-1.8zM1126.6 326.3h1.8v0.2h-1.8zM1126.6 312.3h1.8v0.2h-1.8zM1134.6 308.5h5.8v1.8h-5.8zM1132.6 310.5h1.8v1.8h-1.8zM1140.6 310.5h1.8v1.8h-1.8zM1132.6 312.5h1.8v1.8h-1.8zM1140.6 312.5h1.8v1.8h-1.8zM1140.6 314.5h1.8v1.8h-1.8zM1138.6 316.5h1.8v1.8h-1.8zM1136.6 318.5h1.8v1.8h-1.8zM1134.6 320.5h1.8v1.8h-1.8zM1132.6 322.5h1.8v1.8h-1.8zM1132.6 324.5h1.8v1.8h-1.8zM1132.6 326.5h9.8v1.8h-9.8zM1140.6 314.3h1.8v0.2h-1.8zM1132.6 324.3h1.8v0.2h-1.8zM1140.6 312.3h1.8v0.2h-1.8zM1132.6 326.3h1.8v0.2h-1.8zM1132.6 312.3h1.8v0.2h-1.8zM1146.6 308.5h9.8v1.8h-9.8zM1146.6 310.5h1.8v1.8h-1.8zM1146.6 312.5h1.8v1.8h-1.8zM1146.6 314.5h1.8v1.8h-1.8zM1146.6 316.5h7.8v1.8h-7.8zM1146.6 318.5h1.8v1.8h-1.8zM1154.6 318.5h1.8v1.8h-1.8zM1154.6 320.5h1.8v1.8h-1.8zM1154.6 322.5h1.8v1.8h-1.8zM1146.6 324.5h1.8v1.8h-1.8zM1154.6 324.5h1.8v1.8h-1.8zM1148.6 326.5h5.8v1.8h-5.8zM1146.6 318.3h1.8v0.2h-1.8zM1154.6 320.3h1.8v0.2h-1.8zM1146.6 312.3h1.8v0.2h-1.8zM1154.6 324.3h1.8v0.2h-1.8zM1146.6 316.3h1.8v0.2h-1.8zM1154.6 322.3h1.8v0.2h-1.8zM1146.6 310.3h1.8v0.2h-1.8zM1146.6 314.3h1.8v0.2h-1.8zM58.6 344.5h5.8v1.8h-5.8zM56.6 346.5h1.8v1.8h-1.8zM64.6 346.5h1.8v1.8h-1.8zM56.6 348.5h1.8v1.8h-1.8zM56.6 350.5h1.8v1.8h-1.8zM56.6 352.5h1.8v1.8h-1.8zM60.6 352.5h3.8v1.8h-3.8zM56.6 354.5h3.8v1.8h-3.8zM64.6 354.5h1.8v1.8h-1.8zM56.6 356.5h1.8v1.8h-1.8zM64.6 356.5h1.8v1.8h-1.8zM56.6 358.5h1.8v1.8h-1.8zM64.6 358.5h1.8v1.8h-1.8zM56.6 360.5h1.8v1.8h-1.8zM64.6 360.5h1.8v1.8h-1.8zM58.6 362.5h5.8v1.8h-5.8zM56.6 354.3h1.8v0.2h-1.8zM64.6 356.3h1.8v0.2h-1.8zM56.6 348.3h1.8v0.2h-1.8zM64.6 360.3h1.8v0.2h-1.8zM56.6 352.3h1.8v0.2h-1.8zM56.6 356.3h1.8v0.2h-1.8zM56.6 360.3h1.8v0.2h-1.8zM64.6 358.3h1.8v0.2h-1.8zM56.6 350.3h1.8v0.2h-1.8zM56.6 358.3h1.8v0.2h-1.8zM78.6 344.5h1.8v1.8h-1.8zM76.6 346.5h3.8v1.8h-3.8zM74.6 348.5h1.8v1.8h-1.8zM78.6 348.5h1.8v1.8h-1.8zM74.6 350.5h1.8v1.8h-1.8zM78.6 350.5h1.8v1.8h-1.8zM72.6 352.5h1.8v1.8h-1.8zM78.6 352.5h1.8v1.8h-1.8zM70.6 354.5h1.8v1.8h-1.8zM78.6 354.5h1.8v1.8h-1.8zM70.6 356.5h9.8v1.8h-9.8zM78.6 358.5h1.8v1.8h-1.8zM78.6 360.5h1.8v1.8h-1.8zM78.6 362.5h1.8v1.8h-1.8zM78.6 352.3h1.8v0.2h-1.8zM78.6 356.3h1.8v0.2h-1.8zM74.6 350.3h1.8v0.2h-1.8zM78.6 360.3h1.8v0.2h-1.8zM70.6 356.3h1.8v0.2h-1.8zM78.6 350.3h1.8v0.2h-1.8zM78.6 346.3h1.8v0.2h-1.8zM78.6 358.3h1.8v0.2h-1.8zM78.6 354.3h1.8v0.2h-1.8zM78.6 362.3h1.8v0.2h-1.8zM78.6 348.3h1.8v0.2h-1.8zM84.6 362.5h1.8v1.8h-1.8zM92.6 344.5h5.8v1.8h-5.8zM90.6 346.5h1.8v1.8h-1.8zM98.6 346.5h1.8v1.8h-1.8zM90.6 348.5h1.8v1.8h-1.8zM98.6 348.5h1.8v1.8h-1.8zM90.6 350.5h1.8v1.8h-1.8zM98.6 350.5h1.8v1.8h-1.8zM90.6 352.5h1.8v1.8h-1.8zM98.6 352.5h1.8v1.8h-1.8zM90.6 354.5h1.8v1.8h-1.8zM98.6 354.5h1.8v1.8h-1.8zM90.6 356.5h1.8v1.8h-1.8zM98.6 356.5h1.8v1.8h-1.8zM90.6 358.5h1.8v1.8h-1.8zM98.6 358.5h1.8v1.8h-1.8zM90.6 360.5h1.8v1.8h-1.8zM98.6 360.5h1.8v1.8h-1.8zM92.6 362.5h5.8v1.8h-5.8zM90.6 354.3h1.8v0.2h-1.8zM98.6 352.3h1.8v0.2h-1.8zM98.6 356.3h1.8v0.2h-1.8zM90.6 348.3h1.8v0.2h-1.8zM98.6 360.3h1.8v0.2h-1.8zM90.6 352.3h1.8v0.2h-1.8zM90.6 356.3h1.8v0.2h-1.8zM98.6 350.3h1.8v0.2h-1.8zM90.6 360.3h1.8v0.2h-1.8zM98.6 358.3h1.8v0.2h-1.8zM98.6 354.3h1.8v0.2h-1.8zM90.6 350.3h1.8v0.2h-1.8zM98.6 348.3h1.8v0.2h-1.8zM90.6 358.3h1.8v0.2h-1.8zM964.6 344.5h5.8v1.8h-5.8zM962.6 346.5h1.8v1.8h-1.8zM970.6 346.5h1.8v1.8h-1.8zM962.6 348.5h1.8v1.8h-1.8zM970.6 348.5h1.8v1.8h-1.8zM970.6 350.5h1.8v1.8h-1.8zM968.6 352.5h1.8v1.8h-1.8zM966.6 354.5h1.8v1.8h-1.8zM964.6 356.5h1.8v1.8h-1.8zM962.6 358.5h1.8v1.8h-1.8zM962.6 360.5h1.8v1.8h-1.8zM962.6 362.5h9.8v1.8h-9.8zM970.6 350.3h1.8v0.2h-1.8zM962.6 360.3h1.8v0.2h-1.8zM970.6 348.3h1.8v0.2h-1.8zM962.6 362.3h1.8v0.2h-1.8zM962.6 348.3h1.8v0.2h-1.8zM978.6 344.5h5.8v1.8h-5.8zM976.6 346.5h1.8v1.8h-1.8zM984.6 346.5h1.8v1.8h-1.8zM984.6 348.5h1.8v1.8h-1.8zM984.6 350.5h1.8v1.8h-1.8zM980.6 352.5h3.8v1.8h-3.8zM984.6 354.5h1.8v1.8h-1.8zM984.6 356.5h1.8v1.8h-1.8zM984.6 358.5h1.8v1.8h-1.8zM976.6 360.5h1.8v1.8h-1.8zM984.6 360.5h1.8v1.8h-1.8zM978.6 362.5h5.8v1.8h-5.8zM984.6 360.3h1.8v0.2h-1.8zM984.6 350.3h1.8v0.2h-1.8zM984.6 356.3h1.8v0.2h-1.8zM984.6 358.3h1.8v0.2h-1.8zM984.6 348.3h1.8v0.2h-1.8zM992.6 344.5h5.8v1.8h-5.8zM990.6 346.5h1.8v1.8h-1.8zM998.6 346.5h1.8v1.8h-1.8zM990.6 348.5h1.8v1.8h-1.8zM998.6 348.5h1.8v1.8h-1.8zM998.6 350.5h1.8v1.8h-1.8zM996.6 352.5h1.8v1.8h-1.8zM994.6 354.5h1.8v1.8h-1.8zM992.6 356.5h1.8v1.8h-1.8zM990.6 358.5h1.8v1.8h-1.8zM990.6 360.5h1.8v1.8h-1.8zM990.6 362.5h9.8v1.8h-9.8zM998.6 350.3h1.8v0.2h-1.8zM990.6 360.3h1.8v0.2h-1.8zM998.6 348.3h1.8v0.2h-1.8zM990.6 362.3h1.8v0.2h-1.8zM990.6 348.3h1.8v0.2h-1.8zM1006.6 344.5h5.8v1.8h-5.8zM1004.6 346.5h1.8v1.8h-1.8zM1012.6 346.5h1.8v1.8h-1.8zM1004.6 348.5h1.8v1.8h-1.8zM1012.6 348.5h1.8v1.8h-1.8zM1004.6 350.5h1.8v1.8h-1.8zM1012.6 350.5h1.8v1.8h-1.8zM1006.6 352.5h5.8v1.8h-5.8zM1004.6 354.5h1.8v1.8h-1.8zM1012.6 354.5h1.8v1.8h-1.8zM1004.6 356.5h1.8v1.8h-1.8zM1012.6 356.5h1.8v1.8h-1.8zM1004.6 358.5h1.8v1.8h-1.8zM1012.6 358.5h1.8v1.8h-1.8zM1004.6 360.5h1.8v1.8h-1.8zM1012.6 360.5h1.8v1.8h-1.8zM1006.6 362.5h5.8v1.8h-5.8zM1012.6 356.3h1.8v0.2h-1.8zM1004.6 348.3h1.8v0.2h-1.8zM1012.6 360.3h1.8v0.2h-1.8zM1004.6 356.3h1.8v0.2h-1.8zM1012.6 350.3h1.8v0.2h-1.8zM1004.6 360.3h1.8v0.2h-1.8zM1012.6 358.3h1.8v0.2h-1.8zM1004.6 350.3h1.8v0.2h-1.8zM1012.6 348.3h1.8v0.2h-1.8zM1004.6 358.3h1.8v0.2h-1.8zM1020.6 344.5h5.8v1.8h-5.8zM1018.6 346.5h1.8v1.8h-1.8zM1026.6 346.5h1.8v1.8h-1.8zM1018.6 348.5h1.8v1.8h-1.8zM1026.6 348.5h1.8v1.8h-1.8zM1018.6 350.5h1.8v1.8h-1.8zM1026.6 350.5h1.8v1.8h-1.8zM1018.6 352.5h1.8v1.8h-1.8zM1026.6 352.5h1.8v1.8h-1.8zM1018.6 354.5h1.8v1.8h-1.8zM1026.6 354.5h1.8v1.8h-1.8zM1018.6 356.5h1.8v1.8h-1.8zM1026.6 356.5h1.8v1.8h-1.8zM1018.6 358.5h1.8v1.8h-1.8zM1026.6 358.5h1.8v1.8h-1.8zM1018.6 360.5h1.8v1.8h-1.8zM1026.6 360.5h1.8v1.8h-1.8zM1020.6 362.5h5.8v1.8h-5.8zM1018.6 354.3h1.8v0.2h-1.8zM1026.6 352.3h1.8v0.2h-1.8zM1026.6 356.3h1.8v0.2h-1.8zM1018.6 348.3h1.8v0.2h-1.8zM1026.6 360.3h1.8v0.2h-1.8zM1018.6 352.3h1.8v0.2h-1.8zM1018.6 356.3h1.8v0.2h-1.8zM1026.6 350.3h1.8v0.2h-1.8zM1018.6 360.3h1.8v0.2h-1.8zM1026.6 358.3h1.8v0.2h-1.8zM1026.6 354.3h1.8v0.2h-1.8zM1018.6 350.3h1.8v0.2h-1.8zM1026.6 348.3h1.8v0.2h-1.8zM1018.6 358.3h1.8v0.2h-1.8zM1090.6 344.5h9.8v1.8h-9.8zM1098.6 346.5h1.8v1.8h-1.8zM1098.6 348.5h1.8v1.8h-1.8zM1096.6 350.5h1.8v1.8h-1.8zM1096.6 352.5h1.8v1.8h-1.8zM1094.6 354.5h1.8v1.8h-1.8zM1094.6 356.5h1.8v1.8h-1.8zM1092.6 358.5h1.8v1.8h-1.8zM1092.6 360.5h1.8v1.8h-1.8zM1092.6 362.5h1.8v1.8h-1.8zM1098.6 346.3h1.8v0.2h-1.8zM1092.6 360.3h1.8v0.2h-1.8zM1092.6 362.3h1.8v0.2h-1.8zM1098.6 348.3h1.8v0.2h-1.8zM1096.6 352.3h1.8v0.2h-1.8zM1094.6 356.3h1.8v0.2h-1.8zM1106.6 344.5h5.8v1.8h-5.8zM1104.6 346.5h1.8v1.8h-1.8zM1112.6 346.5h1.8v1.8h-1.8zM1104.6 348.5h1.8v1.8h-1.8zM1112.6 348.5h1.8v1.8h-1.8zM1104.6 350.5h1.8v1.8h-1.8zM1112.6 350.5h1.8v1.8h-1.8zM1104.6 352.5h1.8v1.8h-1.8zM1110.6 352.5h3.8v1.8h-3.8zM1106.6 354.5h3.8v1.8h-3.8zM1112.6 354.5h1.8v1.8h-1.8zM1112.6 356.5h1.8v1.8h-1.8zM1112.6 358.5h1.8v1.8h-1.8zM1104.6 360.5h1.8v1.8h-1.8zM1112.6 360.5h1.8v1.8h-1.8zM1106.6 362.5h5.8v1.8h-5.8zM1112.6 352.3h1.8v0.2h-1.8zM1112.6 356.3h1.8v0.2h-1.8zM1104.6 348.3h1.8v0.2h-1.8zM1112.6 360.3h1.8v0.2h-1.8zM1104.6 352.3h1.8v0.2h-1.8zM1112.6 350.3h1.8v0.2h-1.8zM1112.6 358.3h1.8v0.2h-1.8zM1112.6 354.3h1.8v0.2h-1.8zM1104.6 350.3h1.8v0.2h-1.8zM1112.6 348.3h1.8v0.2h-1.8zM1118.6 344.5h9.8v1.8h-9.8zM1126.6 346.5h1.8v1.8h-1.8zM1126.6 348.5h1.8v1.8h-1.8zM1124.6 350.5h1.8v1.8h-1.8zM1124.6 352.5h1.8v1.8h-1.8zM1122.6 354.5h1.8v1.8h-1.8zM1122.6 356.5h1.8v1.8h-1.8zM1120.6 358.5h1.8v1.8h-1.8zM1120.6 360.5h1.8v1.8h-1.8zM1120.6 362.5h1.8v1.8h-1.8zM1126.6 346.3h1.8v0.2h-1.8zM1120.6 360.3h1.8v0.2h-1.8zM1120.6 362.3h1.8v0.2h-1.8zM1126.6 348.3h1.8v0.2h-1.8zM1124.6 352.3h1.8v0.2h-1.8zM1122.6 356.3h1.8v0.2h-1.8zM1134.6 344.5h5.8v1.8h-5.8zM1132.6 346.5h1.8v1.8h-1.8zM1140.6 346.5h1.8v1.8h-1.8zM1132.6 348.5h1.8v1.8h-1.8zM1140.6 348.5h1.8v1.8h-1.8zM1132.6 350.5h1.8v1.8h-1.8zM1140.6 350.5h1.8v1.8h-1.8zM1132.6 352.5h1.8v1.8h-1.8zM1140.6 352.5h1.8v1.8h-1.8zM1132.6 354.5h1.8v1.8h-1.8zM1140.6 354.5h1.8v1.8h-1.8zM1132.6 356.5h1.8v1.8h-1.8zM1140.6 356.5h1.8v1.8h-1.8zM1132.6 358.5h1.8v1.8h-1.8zM1140.6 358.5h1.8v1.8h-1.8zM1132.6 360.5h1.8v1.8h-1.8zM1140.6 360.5h1.8v1.8h-1.8zM1134.6 362.5h5.8v1.8h-5.8zM1132.6 354.3h1.8v0.2h-1.8zM1140.6 352.3h1.8v0.2h-1.8zM1140.6 356.3h1.8v0.2h-1.8zM1132.6 348.3h1.8v0.2h-1.8zM1140.6 360.3h1.8v0.2h-1.8zM1132.6 352.3h1.8v0.2h-1.8zM1132.6 356.3h1.8v0.2h-1.8zM1140.6 350.3h1.8v0.2h-1.8zM1132.6 360.3h1.8v0.2h-1.8zM1140.6 358.3h1.8v0.2h-1.8zM1140.6 354.3h1.8v0.2h-1.8zM1132.6 350.3h1.8v0.2h-1.8zM1140.6 348.3h1.8v0.2h-1.8zM1132.6 358.3h1.8v0.2h-1.8zM1148.6 344.5h5.8v1.8h-5.8zM1146.6 346.5h1.8v1.8h-1.8zM1154.6 346.5h1.8v1.8h-1.8zM1146.6 348.5h1.8v1.8h-1.8zM1146.6 350.5h1.8v1.8h-1.8zM1146.6 352.5h1.8v1.8h-1.8zM1150.6 352.5h3.8v1.8h-3.8zM1146.6 354.5h3.8v1.8h-3.8zM1154.6 354.5h1.8v1.8h-1.8zM1146.6 356.5h1.8v1.8h-1.8zM1154.6 356.5h1.8v1.8h-1.8zM1146.6 358.5h1.8v1.8h-1.8zM1154.6 358.5h1.8v1.8h-1.8zM1146.6 360.5h1.8v1.8h-1.8zM1154.6 360.5h1.8v1.8h-1.8zM1148.6 362.5h5.8v1.8h-5.8zM1146.6 354.3h1.8v0.2h-1.8zM1154.6 356.3h1.8v0.2h-1.8zM1146.6 348.3h1.8v0.2h-1.8zM1154.6 360.3h1.8v0.2h-1.8zM1146.6 352.3h1.8v0.2h-1.8zM1146.6 356.3h1.8v0.2h-1.8zM1146.6 360.3h1.8v0.2h-1.8zM1154.6 358.3h1.8v0.2h-1.8zM1146.6 350.3h1.8v0.2h-1.8zM1146.6 358.3h1.8v0.2h-1.8zM46.6 380.5h1.8v1.8h-1.8zM42.6 382.5h5.8v1.8h-5.8zM46.6 384.5h1.8v1.8h-1.8zM46.6 386.5h1.8v1.8h-1.8zM46.6 388.5h1.8v1.8h-1.8zM46.6 390.5h1.8v1.8h-1.8zM46.6 392.5h1.8v1.8h-1.8zM46.6 394.5h1.8v1.8h-1.8zM46.6 396.5h1.8v1.8h-1.8zM46.6 398.5h1.8v1.8h-1.8zM46.6 394.3h1.8v0.2h-1.8zM46.6 384.3h1.8v0.2h-1.8zM46.6 390.3h1.8v0.2h-1.8zM46.6 382.3h1.8v0.2h-1.8zM46.6 396.3h1.8v0.2h-1.8zM46.6 386.3h1.8v0.2h-1.8zM46.6 398.3h1.8v0.2h-1.8zM46.6 388.3h1.8v0.2h-1.8zM46.6 392.3h1.8v0.2h-1.8zM58.6 380.5h5.8v1.8h-5.8zM56.6 382.5h1.8v1.8h-1.8zM64.6 382.5h1.8v1.8h-1.8zM56.6 384.5h1.8v1.8h-1.8zM64.6 384.5h1.8v1.8h-1.8zM64.6 386.5h1.8v1.8h-1.8zM62.6 388.5h1.8v1.8h-1.8zM60.6 390.5h1.8v1.8h-1.8zM58.6 392.5h1.8v1.8h-1.8zM56.6 394.5h1.8v1.8h-1.8zM56.6 396.5h1.8v1.8h-1.8zM56.6 398.5h9.8v1.8h-9.8zM64.6 386.3h1.8v0.2h-1.8zM56.6 396.3h1.8v0.2h-1.8zM64.6 384.3h1.8v0.2h-1.8zM56.6 398.3h1.8v0.2h-1.8zM56.6 384.3h1.8v0.2h-1.8zM72.6 380.5h5.8v1.8h-5.8zM70.6 382.5h1.8v1.8h-1.8zM78.6 382.5h1.8v1.8h-1.8zM70.6 384.5h1.8v1.8h-1.8zM78.6 384.5h1.8v1.8h-1.8zM70.6 386.5h1.8v1.8h-1.8zM78.6 386.5h1.8v1.8h-1.8zM72.6 388.5h5.8v1.8h-5.8zM70.6 390.5h1.8v1.8h-1.8zM78.6 390.5h1.8v1.8h-1.8zM70.6 392.5h1.8v1.8h-1.8zM78.6 392.5h1.8v1.8h-1.8zM70.6 394.5h1.8v1.8h-1.8zM78.6 394.5h1.8v1.8h-1.8zM70.6 396.5h1.8v1.8h-1.8zM78.6 396.5h1.8v1.8h-1.8zM72.6 398.5h5.8v1.8h-5.8zM78.6 392.3h1.8v0.2h-1.8zM70.6 384.3h1.8v0.2h-1.8zM78.6 396.3h1.8v0.2h-1.8zM70.6 392.3h1.8v0.2h-1.8zM78.6 386.3h1.8v0.2h-1.8zM70.6 396.3h1.8v0.2h-1.8zM78.6 394.3h1.8v0.2h-1.8zM70.6 386.3h1.8v0.2h-1.8zM78.6 384.3h1.8v0.2h-1.8zM70.6 394.3h1.8v0.2h-1.8zM84.6 398.5h1.8v1.8h-1.8zM92.6 380.5h5.8v1.8h-5.8zM90.6 382.5h1.8v1.8h-1.8zM98.6 382.5h1.8v1.8h-1.8zM90.6 384.5h1.8v1.8h-1.8zM98.6 384.5h1.8v1.8h-1.8zM90.6 386.5h1.8v1.8h-1.8zM98.6 386.5h1.8v1.8h-1.8zM90.6 388.5h1.8v1.8h-1.8zM98.6 388.5h1.8v1.8h-1.8zM90.6 390.5h1.8v1.8h-1.8zM98.6 390.5h1.8v1.8h-1.8zM90.6 392.5h1.8v1.8h-1.8zM98.6 392.5h1.8v1.8h-1.8zM90.6 394.5h1.8v1.8h-1.8zM98.6 394.5h1.8v1.8h-1.8zM90.6 396.5h1.8v1.8h-1.8zM98.6 396.5h1.8v1.8h-1.8zM92.6 398.5h5.8v1.8h-5.8zM90.6 390.3h1.8v0.2h-1.8zM98.6 388.3h1.8v0.2h-1.8zM98.6 392.3h1.8v0.2h-1.8zM90.6 384.3h1.8v0.2h-1.8zM98.6 396.3h1.8v0.2h-1.8zM90.6 388.3h1.8v0.2h-1.8zM90.6 392.3h1.8v0.2h-1.8zM98.6 386.3h1.8v0.2h-1.8zM90.6 396.3h1.8v0.2h-1.8zM98.6 394.3h1.8v0.2h-1.8zM98.6 390.3h1.8v0.2h-1.8zM90.6 386.3h1.8v0.2h-1.8zM98.6 384.3h1.8v0.2h-1.8zM90.6 394.3h1.8v0.2h-1.8zM966.6 380.5h1.8v1.8h-1.8zM962.6 382.5h5.8v1.8h-5.8zM966.6 384.5h1.8v1.8h-1.8zM966.6 386.5h1.8v1.8h-1.8zM966.6 388.5h1.8v1.8h-1.8zM966.6 390.5h1.8v1.8h-1.8zM966.6 392.5h1.8v1.8h-1.8zM966.6 394.5h1.8v1.8h-1.8zM966.6 396.5h1.8v1.8h-1.8zM966.6 398.5h1.8v1.8h-1.8zM966.6 394.3h1.8v0.2h-1.8zM966.6 384.3h1.8v0.2h-1.8zM966.6 390.3h1.8v0.2h-1.8zM966.6 382.3h1.8v0.2h-1.8zM966.6 396.3h1.8v0.2h-1.8zM966.6 386.3h1.8v0.2h-1.8zM966.6 398.3h1.8v0.2h-1.8zM966.6 388.3h1.8v0.2h-1.8zM966.6 392.3h1.8v0.2h-1.8zM978.6 380.5h5.8v1.8h-5.8zM976.6 382.5h1.8v1.8h-1.8zM984.6 382.5h1.8v1.8h-1.8zM976.6 384.5h1.8v1.8h-1.8zM984.6 384.5h1.8v1.8h-1.8zM976.6 386.5h1.8v1.8h-1.8zM984.6 386.5h1.8v1.8h-1.8zM978.6 388.5h5.8v1.8h-5.8zM976.6 390.5h1.8v1.8h-1.8zM984.6 390.5h1.8v1.8h-1.8zM976.6 392.5h1.8v1.8h-1.8zM984.6 392.5h1.8v1.8h-1.8zM976.6 394.5h1.8v1.8h-1.8zM984.6 394.5h1.8v1.8h-1.8zM976.6 396.5h1.8v1.8h-1.8zM984.6 396.5h1.8v1.8h-1.8zM978.6 398.5h5.8v1.8h-5.8zM984.6 392.3h1.8v0.2h-1.8zM976.6 384.3h1.8v0.2h-1.8zM984.6 396.3h1.8v0.2h-1.8zM976.6 392.3h1.8v0.2h-1.8zM984.6 386.3h1.8v0.2h-1.8zM976.6 396.3h1.8v0.2h-1.8zM984.6 394.3h1.8v0.2h-1.8zM976.6 386.3h1.8v0.2h-1.8zM984.6 384.3h1.8v0.2h-1.8zM976.6 394.3h1.8v0.2h-1.8zM998.6 380.5h1.8v1.8h-1.8zM996.6 382.5h3.8v1.8h-3.8zM994.6 384.5h1.8v1.8h-1.8zM998.6 384.5h1.8v1.8h-1.8zM994.6 386.5h1.8v1.8h-1.8zM998.6 386.5h1.8v1.8h-1.8zM992.6 388.5h1.8v1.8h-1.8zM998.6 388.5h1.8v1.8h-1.8zM990.6 390.5h1.8v1.8h-1.8zM998.6 390.5h1.8v1.8h-1.8zM990.6 392.5h9.8v1.8h-9.8zM998.6 394.5h1.8v1.8h-1.8zM998.6 396.5h1.8v1.8h-1.8zM998.6 398.5h1.8v1.8h-1.8zM998.6 388.3h1.8v0.2h-1.8zM998.6 392.3h1.8v0.2h-1.8zM994.6 386.3h1.8v0.2h-1.8zM998.6 396.3h1.8v0.2h-1.8zM990.6 392.3h1.8v0.2h-1.8zM998.6 386.3h1.8v0.2h-1.8zM998.6 382.3h1.8v0.2h-1.8zM998.6 394.3h1.8v0.2h-1.8zM998.6 390.3h1.8v0.2h-1.8zM998.6 398.3h1.8v0.2h-1.8zM998.6 384.3h1.8v0.2h-1.8zM1006.6 380.5h5.8v1.8h-5.8zM1004.6 382.5h1.8v1.8h-1.8zM1012.6 382.5h1.8v1.8h-1.8zM1004.6 384.5h1.8v1.8h-1.8zM1004.6 386.5h1.8v1.8h-1.8zM1004.6 388.5h1.8v1.8h-1.8zM1008.6 388.5h3.8v1.8h-3.8zM1004.6 390.5h3.8v1.8h-3.8zM1012.6 390.5h1.8v1.8h-1.8zM1004.6 392.5h1.8v1.8h-1.8zM1012.6 392.5h1.8v1.8h-1.8zM1004.6 394.5h1.8v1.8h-1.8zM1012.6 394.5h1.8v1.8h-1.8zM1004.6 396.5h1.8v1.8h-1.8zM1012.6 396.5h1.8v1.8h-1.8zM1006.6 398.5h5.8v1.8h-5.8zM1004.6 390.3h1.8v0.2h-1.8zM1012.6 392.3h1.8v0.2h-1.8zM1004.6 384.3h1.8v0.2h-1.8zM1012.6 396.3h1.8v0.2h-1.8zM1004.6 388.3h1.8v0.2h-1.8zM1004.6 392.3h1.8v0.2h-1.8zM1004.6 396.3h1.8v0.2h-1.8zM1012.6 394.3h1.8v0.2h-1.8zM1004.6 386.3h1.8v0.2h-1.8zM1004.6 394.3h1.8v0.2h-1.8zM1020.6 380.5h5.8v1.8h-5.8zM1018.6 382.5h1.8v1.8h-1.8zM1026.6 382.5h1.8v1.8h-1.8zM1018.6 384.5h1.8v1.8h-1.8zM1026.6 384.5h1.8v1.8h-1.8zM1018.6 386.5h1.8v1.8h-1.8zM1026.6 386.5h1.8v1.8h-1.8zM1018.6 388.5h1.8v1.8h-1.8zM1026.6 388.5h1.8v1.8h-1.8zM1018.6 390.5h1.8v1.8h-1.8zM1026.6 390.5h1.8v1.8h-1.8zM1018.6 392.5h1.8v1.8h-1.8zM1026.6 392.5h1.8v1.8h-1.8zM1018.6 394.5h1.8v1.8h-1.8zM1026.6 394.5h1.8v1.8h-1.8zM1018.6 396.5h1.8v1.8h-1.8zM1026.6 396.5h1.8v1.8h-1.8zM1020.6 398.5h5.8v1.8h-5.8zM1018.6 390.3h1.8v0.2h-1.8zM1026.6 388.3h1.8v0.2h-1.8zM1026.6 392.3h1.8v0.2h-1.8zM1018.6 384.3h1.8v0.2h-1.8zM1026.6 396.3h1.8v0.2h-1.8zM1018.6 388.3h1.8v0.2h-1.8zM1018.6 392.3h1.8v0.2h-1.8zM1026.6 386.3h1.8v0.2h-1.8zM1018.6 396.3h1.8v0.2h-1.8zM1026.6 394.3h1.8v0.2h-1.8zM1026.6 390.3h1.8v0.2h-1.8zM1018.6 386.3h1.8v0.2h-1.8zM1026.6 384.3h1.8v0.2h-1.8zM1018.6 394.3h1.8v0.2h-1.8zM1090.6 380.5h9.8v1.8h-9.8zM1098.6 382.5h1.8v1.8h-1.8zM1098.6 384.5h1.8v1.8h-1.8zM1096.6 386.5h1.8v1.8h-1.8zM1096.6 388.5h1.8v1.8h-1.8zM1094.6 390.5h1.8v1.8h-1.8zM1094.6 392.5h1.8v1.8h-1.8zM1092.6 394.5h1.8v1.8h-1.8zM1092.6 396.5h1.8v1.8h-1.8zM1092.6 398.5h1.8v1.8h-1.8zM1098.6 382.3h1.8v0.2h-1.8zM1092.6 396.3h1.8v0.2h-1.8zM1092.6 398.3h1.8v0.2h-1.8zM1098.6 384.3h1.8v0.2h-1.8zM1096.6 388.3h1.8v0.2h-1.8zM1094.6 392.3h1.8v0.2h-1.8zM1106.6 380.5h5.8v1.8h-5.8zM1104.6 382.5h1.8v1.8h-1.8zM1112.6 382.5h1.8v1.8h-1.8zM1104.6 384.5h1.8v1.8h-1.8zM1112.6 384.5h1.8v1.8h-1.8zM1104.6 386.5h1.8v1.8h-1.8zM1112.6 386.5h1.8v1.8h-1.8zM1106.6 388.5h5.8v1.8h-5.8zM1104.6 390.5h1.8v1.8h-1.8zM1112.6 390.5h1.8v1.8h-1.8zM1104.6 392.5h1.8v1.8h-1.8zM1112.6 392.5h1.8v1.8h-1.8zM1104.6 394.5h1.8v1.8h-1.8zM1112.6 394.5h1.8v1.8h-1.8zM1104.6 396.5h1.8v1.8h-1.8zM1112.6 396.5h1.8v1.8h-1.8zM1106.6 398.5h5.8v1.8h-5.8zM1112.6 392.3h1.8v0.2h-1.8zM1104.6 384.3h1.8v0.2h-1.8zM1112.6 396.3h1.8v0.2h-1.8zM1104.6 392.3h1.8v0.2h-1.8zM1112.6 386.3h1.8v0.2h-1.8zM1104.6 396.3h1.8v0.2h-1.8zM1112.6 394.3h1.8v0.2h-1.8zM1104.6 386.3h1.8v0.2h-1.8zM1112.6 384.3h1.8v0.2h-1.8zM1104.6 394.3h1.8v0.2h-1.8zM1126.6 380.5h1.8v1.8h-1.8zM1124.6 382.5h3.8v1.8h-3.8zM1122.6 384.5h1.8v1.8h-1.8zM1126.6 384.5h1.8v1.8h-1.8zM1122.6 386.5h1.8v1.8h-1.8zM1126.6 386.5h1.8v1.8h-1.8zM1120.6 388.5h1.8v1.8h-1.8zM1126.6 388.5h1.8v1.8h-1.8zM1118.6 390.5h1.8v1.8h-1.8zM1126.6 390.5h1.8v1.8h-1.8zM1118.6 392.5h9.8v1.8h-9.8zM1126.6 394.5h1.8v1.8h-1.8zM1126.6 396.5h1.8v1.8h-1.8zM1126.6 398.5h1.8v1.8h-1.8zM1126.6 388.3h1.8v0.2h-1.8zM1126.6 392.3h1.8v0.2h-1.8zM1122.6 386.3h1.8v0.2h-1.8zM1126.6 396.3h1.8v0.2h-1.8zM1118.6 392.3h1.8v0.2h-1.8zM1126.6 386.3h1.8v0.2h-1.8zM1126.6 382.3h1.8v0.2h-1.8zM1126.6 394.3h1.8v0.2h-1.8zM1126.6 390.3h1.8v0.2h-1.8zM1126.6 398.3h1.8v0.2h-1.8zM1126.6 384.3h1.8v0.2h-1.8zM1134.6 380.5h5.8v1.8h-5.8zM1132.6 382.5h1.8v1.8h-1.8zM1140.6 382.5h1.8v1.8h-1.8zM1132.6 384.5h1.8v1.8h-1.8zM1140.6 384.5h1.8v1.8h-1.8zM1132.6 386.5h1.8v1.8h-1.8zM1140.6 386.5h1.8v1.8h-1.8zM1134.6 388.5h5.8v1.8h-5.8zM1132.6 390.5h1.8v1.8h-1.8zM1140.6 390.5h1.8v1.8h-1.8zM1132.6 392.5h1.8v1.8h-1.8zM1140.6 392.5h1.8v1.8h-1.8zM1132.6 394.5h1.8v1.8h-1.8zM1140.6 394.5h1.8v1.8h-1.8zM1132.6 396.5h1.8v1.8h-1.8zM1140.6 396.5h1.8v1.8h-1.8zM1134.6 398.5h5.8v1.8h-5.8zM1140.6 392.3h1.8v0.2h-1.8zM1132.6 384.3h1.8v0.2h-1.8zM1140.6 396.3h1.8v0.2h-1.8zM1132.6 392.3h1.8v0.2h-1.8zM1140.6 386.3h1.8v0.2h-1.8zM1132.6 396.3h1.8v0.2h-1.8zM1140.6 394.3h1.8v0.2h-1.8zM1132.6 386.3h1.8v0.2h-1.8zM1140.6 384.3h1.8v0.2h-1.8zM1132.6 394.3h1.8v0.2h-1.8zM1148.6 380.5h5.8v1.8h-5.8zM1146.6 382.5h1.8v1.8h-1.8zM1154.6 382.5h1.8v1.8h-1.8zM1146.6 384.5h1.8v1.8h-1.8zM1154.6 384.5h1.8v1.8h-1.8zM1146.6 386.5h1.8v1.8h-1.8zM1154.6 386.5h1.8v1.8h-1.8zM1148.6 388.5h5.8v1.8h-5.8zM1146.6 390.5h1.8v1.8h-1.8zM1154.6 390.5h1.8v1.8h-1.8zM1146.6 392.5h1.8v1.8h-1.8zM1154.6 392.5h1.8v1.8h-1.8zM1146.6 394.5h1.8v1.8h-1.8zM1154.6 394.5h1.8v1.8h-1.8zM1146.6 396.5h1.8v1.8h-1.8zM1154.6 396.5h1.8v1.8h-1.8zM1148.6 398.5h5.8v1.8h-5.8zM1154.6 392.3h1.8v0.2h-1.8zM1146.6 384.3h1.8v0.2h-1.8zM1154.6 396.3h1.8v0.2h-1.8zM1146.6 392.3h1.8v0.2h-1.8zM1154.6 386.3h1.8v0.2h-1.8zM1146.6 396.3h1.8v0.2h-1.8zM1154.6 394.3h1.8v0.2h-1.8zM1146.6 386.3h1.8v0.2h-1.8zM1154.6 384.3h1.8v0.2h-1.8zM1146.6 394.3h1.8v0.2h-1.8zM44.6 416.5h5.8v1.8h-5.8zM42.6 418.5h1.8v1.8h-1.8zM50.6 418.5h1.8v1.8h-1.8zM42.6 420.5h1.8v1.8h-1.8zM50.6 420.5h1.8v1.8h-1.8zM50.6 422.5h1.8v1.8h-1.8zM48.6 424.5h1.8v1.8h-1.8zM46.6 426.5h1.8v1.8h-1.8zM44.6 428.5h1.8v1.8h-1.8zM42.6 430.5h1.8v1.8h-1.8zM42.6 432.5h1.8v1.8h-1.8zM42.6 434.5h9.8v1.8h-9.8zM50.6 422.3h1.8v0.2h-1.8zM42.6 432.3h1.8v0.2h-1.8zM50.6 420.3h1.8v0.2h-1.8zM42.6 434.3h1.8v0.2h-1.8zM42.6 420.3h1.8v0.2h-1.8zM56.6 416.5h9.8v1.8h-9.8zM56.6 418.5h1.8v1.8h-1.8zM56.6 420.5h1.8v1.8h-1.8zM56.6 422.5h1.8v1.8h-1.8zM56.6 424.5h7.8v1.8h-7.8zM56.6 426.5h1.8v1.8h-1.8zM64.6 426.5h1.8v1.8h-1.8zM64.6 428.5h1.8v1.8h-1.8zM64.6 430.5h1.8v1.8h-1.8zM56.6 432.5h1.8v1.8h-1.8zM64.6 432.5h1.8v1.8h-1.8zM58.6 434.5h5.8v1.8h-5.8zM56.6 426.3h1.8v0.2h-1.8zM64.6 428.3h1.8v0.2h-1.8zM56.6 420.3h1.8v0.2h-1.8zM64.6 432.3h1.8v0.2h-1.8zM56.6 424.3h1.8v0.2h-1.8zM64.6 430.3h1.8v0.2h-1.8zM56.6 418.3h1.8v0.2h-1.8zM56.6 422.3h1.8v0.2h-1.8zM72.6 416.5h5.8v1.8h-5.8zM70.6 418.5h1.8v1.8h-1.8zM78.6 418.5h1.8v1.8h-1.8zM70.6 420.5h1.8v1.8h-1.8zM70.6 422.5h1.8v1.8h-1.8zM70.6 424.5h1.8v1.8h-1.8zM74.6 424.5h3.8v1.8h-3.8zM70.6 426.5h3.8v1.8h-3.8zM78.6 426.5h1.8v1.8h-1.8zM70.6 428.5h1.8v1.8h-1.8zM78.6 428.5h1.8v1.8h-1.8zM70.6 430.5h1.8v1.8h-1.8zM78.6 430.5h1.8v1.8h-1.8zM70.6 432.5h1.8v1.8h-1.8zM78.6 432.5h1.8v1.8h-1.8zM72.6 434.5h5.8v1.8h-5.8zM70.6 426.3h1.8v0.2h-1.8zM78.6 428.3h1.8v0.2h-1.8zM70.6 420.3h1.8v0.2h-1.8zM78.6 432.3h1.8v0.2h-1.8zM70.6 424.3h1.8v0.2h-1.8zM70.6 428.3h1.8v0.2h-1.8zM70.6 432.3h1.8v0.2h-1.8zM78.6 430.3h1.8v0.2h-1.8zM70.6 422.3h1.8v0.2h-1.8zM70.6 430.3h1.8v0.2h-1.8zM84.6 434.5h1.8v1.8h-1.8zM92.6 416.5h5.8v1.8h-5.8zM90.6 418.5h1.8v1.8h-1.8zM98.6 418.5h1.8v1.8h-1.8zM90.6 420.5h1.8v1.8h-1.8zM98.6 420.5h1.8v1.8h-1.8zM90.6 422.5h1.8v1.8h-1.8zM98.6 422.5h1.8v1.8h-1.8zM90.6 424.5h1.8v1.8h-1.8zM98.6 424.5h1.8v1.8h-1.8zM90.6 426.5h1.8v1.8h-1.8zM98.6 426.5h1.8v1.8h-1.8zM90.6 428.5h1.8v1.8h-1.8zM98.6 428.5h1.8v1.8h-1.8zM90.6 430.5h1.8v1.8h-1.8zM98.6 430.5h1.8v1.8h-1.8zM90.6 432.5h1.8v1.8h-1.8zM98.6 432.5h1.8v1.8h-1.8zM92.6 434.5h5.8v1.8h-5.8zM90.6 426.3h1.8v0.2h-1.8zM98.6 424.3h1.8v0.2h-1.8zM98.6 428.3h1.8v0.2h-1.8zM90.6 420.3h1.8v0.2h-1.8zM98.6 432.3h1.8v0.2h-1.8zM90.6 424.3h1.8v0.2h-1.8zM90.6 428.3h1.8v0.2h-1.8zM98.6 422.3h1.8v0.2h-1.8zM90.6 432.3h1.8v0.2h-1.8zM98.6 430.3h1.8v0.2h-1.8zM98.6 426.3h1.8v0.2h-1.8zM90.6 422.3h1.8v0.2h-1.8zM98.6 420.3h1.8v0.2h-1.8zM90.6 430.3h1.8v0.2h-1.8zM964.6 416.5h5.8v1.8h-5.8zM962.6 418.5h1.8v1.8h-1.8zM970.6 418.5h1.8v1.8h-1.8zM962.6 420.5h1.8v1.8h-1.8zM970.6 420.5h1.8v1.8h-1.8zM970.6 422.5h1.8v1.8h-1.8zM968.6 424.5h1.8v1.8h-1.8zM966.6 426.5h1.8v1.8h-1.8zM964.6 428.5h1.8v1.8h-1.8zM962.6 430.5h1.8v1.8h-1.8zM962.6 432.5h1.8v1.8h-1.8zM962.6 434.5h9.8v1.8h-9.8zM970.6 422.3h1.8v0.2h-1.8zM962.6 432.3h1.8v0.2h-1.8zM970.6 420.3h1.8v0.2h-1.8zM962.6 434.3h1.8v0.2h-1.8zM962.6 420.3h1.8v0.2h-1.8zM978.6 416.5h5.8v1.8h-5.8zM976.6 418.5h1.8v1.8h-1.8zM984.6 418.5h1.8v1.8h-1.8zM976.6 420.5h1.8v1.8h-1.8zM984.6 420.5h1.8v1.8h-1.8zM976.6 422.5h1.8v1.8h-1.8zM984.6 422.5h1.8v1.8h-1.8zM976.6 424.5h1.8v1.8h-1.8zM984.6 424.5h1.8v1.8h-1.8zM976.6 426.5h1.8v1.8h-1.8zM984.6 426.5h1.8v1.8h-1.8zM976.6 428.5h1.8v1.8h-1.8zM984.6 428.5h1.8v1.8h-1.8zM976.6 430.5h1.8v1.8h-1.8zM984.6 430.5h1.8v1.8h-1.8zM976.6 432.5h1.8v1.8h-1.8zM984.6 432.5h1.8v1.8h-1.8zM978.6 434.5h5.8v1.8h-5.8zM976.6 426.3h1.8v0.2h-1.8zM984.6 424.3h1.8v0.2h-1.8zM984.6 428.3h1.8v0.2h-1.8zM976.6 420.3h1.8v0.2h-1.8zM984.6 432.3h1.8v0.2h-1.8zM976.6 424.3h1.8v0.2h-1.8zM976.6 428.3h1.8v0.2h-1.8zM984.6 422.3h1.8v0.2h-1.8zM976.6 432.3h1.8v0.2h-1.8zM984.6 430.3h1.8v0.2h-1.8zM984.6 426.3h1.8v0.2h-1.8zM976.6 422.3h1.8v0.2h-1.8zM984.6 420.3h1.8v0.2h-1.8zM976.6 430.3h1.8v0.2h-1.8zM992.6 416.5h5.8v1.8h-5.8zM990.6 418.5h1.8v1.8h-1.8zM998.6 418.5h1.8v1.8h-1.8zM998.6 420.5h1.8v1.8h-1.8zM998.6 422.5h1.8v1.8h-1.8zM994.6 424.5h3.8v1.8h-3.8zM998.6 426.5h1.8v1.8h-1.8zM998.6 428.5h1.8v1.8h-1.8zM998.6 430.5h1.8v1.8h-1.8zM990.6 432.5h1.8v1.8h-1.8zM998.6 432.5h1.8v1.8h-1.8zM992.6 434.5h5.8v1.8h-5.8zM998.6 432.3h1.8v0.2h-1.8zM998.6 422.3h1.8v0.2h-1.8zM998.6 428.3h1.8v0.2h-1.8zM998.6 430.3h1.8v0.2h-1.8zM998.6 420.3h1.8v0.2h-1.8zM1006.6 416.5h5.8v1.8h-5.8zM1004.6 418.5h1.8v1.8h-1.8zM1012.6 418.5h1.8v1.8h-1.8zM1004.6 420.5h1.8v1.8h-1.8zM1012.6 420.5h1.8v1.8h-1.8zM1012.6 422.5h1.8v1.8h-1.8zM1010.6 424.5h1.8v1.8h-1.8zM1008.6 426.5h1.8v1.8h-1.8zM1006.6 428.5h1.8v1.8h-1.8zM1004.6 430.5h1.8v1.8h-1.8zM1004.6 432.5h1.8v1.8h-1.8zM1004.6 434.5h9.8v1.8h-9.8zM1012.6 422.3h1.8v0.2h-1.8zM1004.6 432.3h1.8v0.2h-1.8zM1012.6 420.3h1.8v0.2h-1.8zM1004.6 434.3h1.8v0.2h-1.8zM1004.6 420.3h1.8v0.2h-1.8zM1022.6 416.5h1.8v1.8h-1.8zM1018.6 418.5h5.8v1.8h-5.8zM1022.6 420.5h1.8v1.8h-1.8zM1022.6 422.5h1.8v1.8h-1.8zM1022.6 424.5h1.8v1.8h-1.8zM1022.6 426.5h1.8v1.8h-1.8zM1022.6 428.5h1.8v1.8h-1.8zM1022.6 430.5h1.8v1.8h-1.8zM1022.6 432.5h1.8v1.8h-1.8zM1022.6 434.5h1.8v1.8h-1.8zM1022.6 430.3h1.8v0.2h-1.8zM1022.6 420.3h1.8v0.2h-1.8zM1022.6 426.3h1.8v0.2h-1.8zM1022.6 418.3h1.8v0.2h-1.8zM1022.6 432.3h1.8v0.2h-1.8zM1022.6 422.3h1.8v0.2h-1.8zM1022.6 434.3h1.8v0.2h-1.8zM1022.6 424.3h1.8v0.2h-1.8zM1022.6 428.3h1.8v0.2h-1.8zM1092.6 416.5h5.8v1.8h-5.8zM1090.6 418.5h1.8v1.8h-1.8zM1098.6 418.5h1.8v1.8h-1.8zM1090.6 420.5h1.8v1.8h-1.8zM1098.6 420.5h1.8v1.8h-1.8zM1090.6 422.5h1.8v1.8h-1.8zM1098.6 422.5h1.8v1.8h-1.8zM1092.6 424.5h5.8v1.8h-5.8zM1090.6 426.5h1.8v1.8h-1.8zM1098.6 426.5h1.8v1.8h-1.8zM1090.6 428.5h1.8v1.8h-1.8zM1098.6 428.5h1.8v1.8h-1.8zM1090.6 430.5h1.8v1.8h-1.8zM1098.6 430.5h1.8v1.8h-1.8zM1090.6 432.5h1.8v1.8h-1.8zM1098.6 432.5h1.8v1.8h-1.8zM1092.6 434.5h5.8v1.8h-5.8zM1098.6 428.3h1.8v0.2h-1.8zM1090.6 420.3h1.8v0.2h-1.8zM1098.6 432.3h1.8v0.2h-1.8zM1090.6 428.3h1.8v0.2h-1.8zM1098.6 422.3h1.8v0.2h-1.8zM1090.6 432.3h1.8v0.2h-1.8zM1098.6 430.3h1.8v0.2h-1.8zM1090.6 422.3h1.8v0.2h-1.8zM1098.6 420.3h1.8v0.2h-1.8zM1090.6 430.3h1.8v0.2h-1.8zM1106.6 416.5h5.8v1.8h-5.8zM1104.6 418.5h1.8v1.8h-1.8zM1112.6 418.5h1.8v1.8h-1.8zM1104.6 420.5h1.8v1.8h-1.8zM1112.6 420.5h1.8v1.8h-1.8zM1104.6 422.5h1.8v1.8h-1.8zM1112.6 422.5h1.8v1.8h-1.8zM1104.6 424.5h1.8v1.8h-1.8zM1112.6 424.5h1.8v1.8h-1.8zM1104.6 426.5h1.8v1.8h-1.8zM1112.6 426.5h1.8v1.8h-1.8zM1104.6 428.5h1.8v1.8h-1.8zM1112.6 428.5h1.8v1.8h-1.8zM1104.6 430.5h1.8v1.8h-1.8zM1112.6 430.5h1.8v1.8h-1.8zM1104.6 432.5h1.8v1.8h-1.8zM1112.6 432.5h1.8v1.8h-1.8zM1106.6 434.5h5.8v1.8h-5.8zM1104.6 426.3h1.8v0.2h-1.8zM1112.6 424.3h1.8v0.2h-1.8zM1112.6 428.3h1.8v0.2h-1.8zM1104.6 420.3h1.8v0.2h-1.8zM1112.6 432.3h1.8v0.2h-1.8zM1104.6 424.3h1.8v0.2h-1.8zM1104.6 428.3h1.8v0.2h-1.8zM1112.6 422.3h1.8v0.2h-1.8zM1104.6 432.3h1.8v0.2h-1.8zM1112.6 430.3h1.8v0.2h-1.8zM1112.6 426.3h1.8v0.2h-1.8zM1104.6 422.3h1.8v0.2h-1.8zM1112.6 420.3h1.8v0.2h-1.8zM1104.6 430.3h1.8v0.2h-1.8zM1120.6 416.5h5.8v1.8h-5.8zM1118.6 418.5h1.8v1.8h-1.8zM1126.6 418.5h1.8v1.8h-1.8zM1118.6 420.5h1.8v1.8h-1.8zM1118.6 422.5h1.8v1.8h-1.8zM1118.6 424.5h1.8v1.8h-1.8zM1122.6 424.5h3.8v1.8h-3.8zM1118.6 426.5h3.8v1.8h-3.8zM1126.6 426.5h1.8v1.8h-1.8zM1118.6 428.5h1.8v1.8h-1.8zM1126.6 428.5h1.8v1.8h-1.8zM1118.6 430.5h1.8v1.8h-1.8zM1126.6 430.5h1.8v1.8h-1.8zM1118.6 432.5h1.8v1.8h-1.8zM1126.6 432.5h1.8v1.8h-1.8zM1120.6 434.5h5.8v1.8h-5.8zM1118.6 426.3h1.8v0.2h-1.8zM1126.6 428.3h1.8v0.2h-1.8zM1118.6 420.3h1.8v0.2h-1.8zM1126.6 432.3h1.8v0.2h-1.8zM1118.6 424.3h1.8v0.2h-1.8zM1118.6 428.3h1.8v0.2h-1.8zM1118.6 432.3h1.8v0.2h-1.8zM1126.6 430.3h1.8v0.2h-1.8zM1118.6 422.3h1.8v0.2h-1.8zM1118.6 430.3h1.8v0.2h-1.8zM1134.6 416.5h5.8v1.8h-5.8zM1132.6 418.5h1.8v1.8h-1.8zM1140.6 418.5h1.8v1.8h-1.8zM1140.6 420.5h1.8v1.8h-1.8zM1140.6 422.5h1.8v1.8h-1.8zM1136.6 424.5h3.8v1.8h-3.8zM1140.6 426.5h1.8v1.8h-1.8zM1140.6 428.5h1.8v1.8h-1.8zM1140.6 430.5h1.8v1.8h-1.8zM1132.6 432.5h1.8v1.8h-1.8zM1140.6 432.5h1.8v1.8h-1.8zM1134.6 434.5h5.8v1.8h-5.8zM1140.6 432.3h1.8v0.2h-1.8zM1140.6 422.3h1.8v0.2h-1.8zM1140.6 428.3h1.8v0.2h-1.8zM1140.6 430.3h1.8v0.2h-1.8zM1140.6 420.3h1.8v0.2h-1.8zM1146.6 416.5h9.8v1.8h-9.8zM1146.6 418.5h1.8v1.8h-1.8zM1146.6 420.5h1.8v1.8h-1.8zM1146.6 422.5h1.8v1.8h-1.8zM1146.6 424.5h7.8v1.8h-7.8zM1146.6 426.5h1.8v1.8h-1.8zM1154.6 426.5h1.8v1.8h-1.8zM1154.6 428.5h1.8v1.8h-1.8zM1154.6 430.5h1.8v1.8h-1.8zM1146.6 432.5h1.8v1.8h-1.8zM1154.6 432.5h1.8v1.8h-1.8zM1148.6 434.5h5.8v1.8h-5.8zM1146.6 426.3h1.8v0.2h-1.8zM1154.6 428.3h1.8v0.2h-1.8zM1146.6 420.3h1.8v0.2h-1.8zM1154.6 432.3h1.8v0.2h-1.8zM1146.6 424.3h1.8v0.2h-1.8zM1154.6 430.3h1.8v0.2h-1.8zM1146.6 418.3h1.8v0.2h-1.8zM1146.6 422.3h1.8v0.2h-1.8zM42.6 452.5h9.8v1.8h-9.8zM42.6 454.5h1.8v1.8h-1.8zM42.6 456.5h1.8v1.8h-1.8zM42.6 458.5h1.8v1.8h-1.8zM42.6 460.5h7.8v1.8h-7.8zM42.6 462.5h1.8v1.8h-1.8zM50.6 462.5h1.8v1.8h-1.8zM50.6 464.5h1.8v1.8h-1.8zM50.6 466.5h1.8v1.8h-1.8zM42.6 468.5h1.8v1.8h-1.8zM50.6 468.5h1.8v1.8h-1.8zM44.6 470.5h5.8v1.8h-5.8zM42.6 462.3h1.8v0.2h-1.8zM50.6 464.3h1.8v0.2h-1.8zM42.6 456.3h1.8v0.2h-1.8zM50.6 468.3h1.8v0.2h-1.8zM42.6 460.3h1.8v0.2h-1.8zM50.6 466.3h1.8v0.2h-1.8zM42.6 454.3h1.8v0.2h-1.8zM42.6 458.3h1.8v0.2h-1.8zM60.6 452.5h1.8v1.8h-1.8zM56.6 454.5h5.8v1.8h-5.8zM60.6 456.5h1.8v1.8h-1.8zM60.6 458.5h1.8v1.8h-1.8zM60.6 460.5h1.8v1.8h-1.8zM60.6 462.5h1.8v1.8h-1.8zM60.6 464.5h1.8v1.8h-1.8zM60.6 466.5h1.8v1.8h-1.8zM60.6 468.5h1.8v1.8h-1.8zM60.6 470.5h1.8v1.8h-1.8zM60.6 466.3h1.8v0.2h-1.8zM60.6 456.3h1.8v0.2h-1.8zM60.6 462.3h1.8v0.2h-1.8zM60.6 454.3h1.8v0.2h-1.8zM60.6 468.3h1.8v0.2h-1.8zM60.6 458.3h1.8v0.2h-1.8zM60.6 470.3h1.8v0.2h-1.8zM60.6 460.3h1.8v0.2h-1.8zM60.6 464.3h1.8v0.2h-1.8zM72.6 452.5h5.8v1.8h-5.8zM70.6 454.5h1.8v1.8h-1.8zM78.6 454.5h1.8v1.8h-1.8zM70.6 456.5h1.8v1.8h-1.8zM78.6 456.5h1.8v1.8h-1.8zM78.6 458.5h1.8v1.8h-1.8zM76.6 460.5h1.8v1.8h-1.8zM74.6 462.5h1.8v1.8h-1.8zM72.6 464.5h1.8v1.8h-1.8zM70.6 466.5h1.8v1.8h-1.8zM70.6 468.5h1.8v1.8h-1.8zM70.6 470.5h9.8v1.8h-9.8zM78.6 458.3h1.8v0.2h-1.8zM70.6 468.3h1.8v0.2h-1.8zM78.6 456.3h1.8v0.2h-1.8zM70.6 470.3h1.8v0.2h-1.8zM70.6 456.3h1.8v0.2h-1.8zM84.6 470.5h1.8v1.8h-1.8zM92.6 452.5h5.8v1.8h-5.8zM90.6 454.5h1.8v1.8h-1.8zM98.6 454.5h1.8v1.8h-1.8zM90.6 456.5h1.8v1.8h-1.8zM98.6 456.5h1.8v1.8h-1.8zM90.6 458.5h1.8v1.8h-1.8zM98.6 458.5h1.8v1.8h-1.8zM90.6 460.5h1.8v1.8h-1.8zM98.6 460.5h1.8v1.8h-1.8zM90.6 462.5h1.8v1.8h-1.8zM98.6 462.5h1.8v1.8h-1.8zM90.6 464.5h1.8v1.8h-1.8zM98.6 464.5h1.8v1.8h-1.8zM90.6 466.5h1.8v1.8h-1.8zM98.6 466.5h1.8v1.8h-1.8zM90.6 468.5h1.8v1.8h-1.8zM98.6 468.5h1.8v1.8h-1.8zM92.6 470.5h5.8v1.8h-5.8zM90.6 462.3h1.8v0.2h-1.8zM98.6 460.3h1.8v0.2h-1.8zM98.6 464.3h1.8v0.2h-1.8zM90.6 456.3h1.8v0.2h-1.8zM98.6 468.3h1.8v0.2h-1.8zM90.6 460.3h1.8v0.2h-1.8zM90.6 464.3h1.8v0.2h-1.8zM98.6 458.3h1.8v0.2h-1.8zM90.6 468.3h1.8v0.2h-1.8zM98.6 466.3h1.8v0.2h-1.8zM98.6 462.3h1.8v0.2h-1.8zM90.6 458.3h1.8v0.2h-1.8zM98.6 456.3h1.8v0.2h-1.8zM90.6 466.3h1.8v0.2h-1.8zM966.6 452.5h1.8v1.8h-1.8zM962.6 454.5h5.8v1.8h-5.8zM966.6 456.5h1.8v1.8h-1.8zM966.6 458.5h1.8v1.8h-1.8zM966.6 460.5h1.8v1.8h-1.8zM966.6 462.5h1.8v1.8h-1.8zM966.6 464.5h1.8v1.8h-1.8zM966.6 466.5h1.8v1.8h-1.8zM966.6 468.5h1.8v1.8h-1.8zM966.6 470.5h1.8v1.8h-1.8zM966.6 466.3h1.8v0.2h-1.8zM966.6 456.3h1.8v0.2h-1.8zM966.6 462.3h1.8v0.2h-1.8zM966.6 454.3h1.8v0.2h-1.8zM966.6 468.3h1.8v0.2h-1.8zM966.6 458.3h1.8v0.2h-1.8zM966.6 470.3h1.8v0.2h-1.8zM966.6 460.3h1.8v0.2h-1.8zM966.6 464.3h1.8v0.2h-1.8zM976.6 452.5h9.8v1.8h-9.8zM984.6 454.5h1.8v1.8h-1.8zM984.6 456.5h1.8v1.8h-1.8zM982.6 458.5h1.8v1.8h-1.8zM982.6 460.5h1.8v1.8h-1.8zM980.6 462.5h1.8v1.8h-1.8zM980.6 464.5h1.8v1.8h-1.8zM978.6 466.5h1.8v1.8h-1.8zM978.6 468.5h1.8v1.8h-1.8zM978.6 470.5h1.8v1.8h-1.8zM984.6 454.3h1.8v0.2h-1.8zM978.6 468.3h1.8v0.2h-1.8zM978.6 470.3h1.8v0.2h-1.8zM984.6 456.3h1.8v0.2h-1.8zM982.6 460.3h1.8v0.2h-1.8zM980.6 464.3h1.8v0.2h-1.8zM992.6 452.5h5.8v1.8h-5.8zM990.6 454.5h1.8v1.8h-1.8zM998.6 454.5h1.8v1.8h-1.8zM990.6 456.5h1.8v1.8h-1.8zM990.6 458.5h1.8v1.8h-1.8zM990.6 460.5h1.8v1.8h-1.8zM994.6 460.5h3.8v1.8h-3.8zM990.6 462.5h3.8v1.8h-3.8zM998.6 462.5h1.8v1.8h-1.8zM990.6 464.5h1.8v1.8h-1.8zM998.6 464.5h1.8v1.8h-1.8zM990.6 466.5h1.8v1.8h-1.8zM998.6 466.5h1.8v1.8h-1.8zM990.6 468.5h1.8v1.8h-1.8zM998.6 468.5h1.8v1.8h-1.8zM992.6 470.5h5.8v1.8h-5.8zM990.6 462.3h1.8v0.2h-1.8zM998.6 464.3h1.8v0.2h-1.8zM990.6 456.3h1.8v0.2h-1.8zM998.6 468.3h1.8v0.2h-1.8zM990.6 460.3h1.8v0.2h-1.8zM990.6 464.3h1.8v0.2h-1.8zM990.6 468.3h1.8v0.2h-1.8zM998.6 466.3h1.8v0.2h-1.8zM990.6 458.3h1.8v0.2h-1.8zM990.6 466.3h1.8v0.2h-1.8zM1006.6 452.5h5.8v1.8h-5.8zM1004.6 454.5h1.8v1.8h-1.8zM1012.6 454.5h1.8v1.8h-1.8zM1004.6 456.5h1.8v1.8h-1.8zM1012.6 456.5h1.8v1.8h-1.8zM1004.6 458.5h1.8v1.8h-1.8zM1012.6 458.5h1.8v1.8h-1.8zM1004.6 460.5h1.8v1.8h-1.8zM1010.6 460.5h3.8v1.8h-3.8zM1006.6 462.5h3.8v1.8h-3.8zM1012.6 462.5h1.8v1.8h-1.8zM1012.6 464.5h1.8v1.8h-1.8zM1012.6 466.5h1.8v1.8h-1.8zM1004.6 468.5h1.8v1.8h-1.8zM1012.6 468.5h1.8v1.8h-1.8zM1006.6 470.5h5.8v1.8h-5.8zM1012.6 460.3h1.8v0.2h-1.8zM1012.6 464.3h1.8v0.2h-1.8zM1004.6 456.3h1.8v0.2h-1.8zM1012.6 468.3h1.8v0.2h-1.8zM1004.6 460.3h1.8v0.2h-1.8zM1012.6 458.3h1.8v0.2h-1.8zM1012.6 466.3h1.8v0.2h-1.8zM1012.6 462.3h1.8v0.2h-1.8zM1004.6 458.3h1.8v0.2h-1.8zM1012.6 456.3h1.8v0.2h-1.8zM1018.6 452.5h9.8v1.8h-9.8zM1018.6 454.5h1.8v1.8h-1.8zM1018.6 456.5h1.8v1.8h-1.8zM1018.6 458.5h1.8v1.8h-1.8zM1018.6 460.5h7.8v1.8h-7.8zM1018.6 462.5h1.8v1.8h-1.8zM1026.6 462.5h1.8v1.8h-1.8zM1026.6 464.5h1.8v1.8h-1.8zM1026.6 466.5h1.8v1.8h-1.8zM1018.6 468.5h1.8v1.8h-1.8zM1026.6 468.5h1.8v1.8h-1.8zM1020.6 470.5h5.8v1.8h-5.8zM1018.6 462.3h1.8v0.2h-1.8zM1026.6 464.3h1.8v0.2h-1.8zM1018.6 456.3h1.8v0.2h-1.8zM1026.6 468.3h1.8v0.2h-1.8zM1018.6 460.3h1.8v0.2h-1.8zM1026.6 466.3h1.8v0.2h-1.8zM1018.6 454.3h1.8v0.2h-1.8zM1018.6 458.3h1.8v0.2h-1.8zM1092.6 452.5h5.8v1.8h-5.8zM1090.6 454.5h1.8v1.8h-1.8zM1098.6 454.5h1.8v1.8h-1.8zM1090.6 456.5h1.8v1.8h-1.8zM1098.6 456.5h1.8v1.8h-1.8zM1090.6 458.5h1.8v1.8h-1.8zM1098.6 458.5h1.8v1.8h-1.8zM1092.6 460.5h5.8v1.8h-5.8zM1090.6 462.5h1.8v1.8h-1.8zM1098.6 462.5h1.8v1.8h-1.8zM1090.6 464.5h1.8v1.8h-1.8zM1098.6 464.5h1.8v1.8h-1.8zM1090.6 466.5h1.8v1.8h-1.8zM1098.6 466.5h1.8v1.8h-1.8zM1090.6 468.5h1.8v1.8h-1.8zM1098.6 468.5h1.8v1.8h-1.8zM1092.6 470.5h5.8v1.8h-5.8zM1098.6 464.3h1.8v0.2h-1.8zM1090.6 456.3h1.8v0.2h-1.8zM1098.6 468.3h1.8v0.2h-1.8zM1090.6 464.3h1.8v0.2h-1.8zM1098.6 458.3h1.8v0.2h-1.8zM1090.6 468.3h1.8v0.2h-1.8zM1098.6 466.3h1.8v0.2h-1.8zM1090.6 458.3h1.8v0.2h-1.8zM1098.6 456.3h1.8v0.2h-1.8zM1090.6 466.3h1.8v0.2h-1.8zM1106.6 452.5h5.8v1.8h-5.8zM1104.6 454.5h1.8v1.8h-1.8zM1112.6 454.5h1.8v1.8h-1.8zM1104.6 456.5h1.8v1.8h-1.8zM1112.6 456.5h1.8v1.8h-1.8zM1104.6 458.5h1.8v1.8h-1.8zM1112.6 458.5h1.8v1.8h-1.8zM1104.6 460.5h1.8v1.8h-1.8zM1112.6 460.5h1.8v1.8h-1.8zM1104.6 462.5h1.8v1.8h-1.8zM1112.6 462.5h1.8v1.8h-1.8zM1104.6 464.5h1.8v1.8h-1.8zM1112.6 464.5h1.8v1.8h-1.8zM1104.6 466.5h1.8v1.8h-1.8zM1112.6 466.5h1.8v1.8h-1.8zM1104.6 468.5h1.8v1.8h-1.8zM1112.6 468.5h1.8v1.8h-1.8zM1106.6 470.5h5.8v1.8h-5.8zM1104.6 462.3h1.8v0.2h-1.8zM1112.6 460.3h1.8v0.2h-1.8zM1112.6 464.3h1.8v0.2h-1.8zM1104.6 456.3h1.8v0.2h-1.8zM1112.6 468.3h1.8v0.2h-1.8zM1104.6 460.3h1.8v0.2h-1.8zM1104.6 464.3h1.8v0.2h-1.8zM1112.6 458.3h1.8v0.2h-1.8zM1104.6 468.3h1.8v0.2h-1.8zM1112.6 466.3h1.8v0.2h-1.8zM1112.6 462.3h1.8v0.2h-1.8zM1104.6 458.3h1.8v0.2h-1.8zM1112.6 456.3h1.8v0.2h-1.8zM1104.6 466.3h1.8v0.2h-1.8zM1120.6 452.5h5.8v1.8h-5.8zM1118.6 454.5h1.8v1.8h-1.8zM1126.6 454.5h1.8v1.8h-1.8zM1118.6 456.5h1.8v1.8h-1.8zM1126.6 456.5h1.8v1.8h-1.8zM1118.6 458.5h1.8v1.8h-1.8zM1126.6 458.5h1.8v1.8h-1.8zM1118.6 460.5h1.8v1.8h-1.8zM1126.6 460.5h1.8v1.8h-1.8zM1118.6 462.5h1.8v1.8h-1.8zM1126.6 462.5h1.8v1.8h-1.8zM1118.6 464.5h1.8v1.8h-1.8zM1126.6 464.5h1.8v1.8h-1.8zM1118.6 466.5h1.8v1.8h-1.8zM1126.6 466.5h1.8v1.8h-1.8zM1118.6 468.5h1.8v1.8h-1.8zM1126.6 468.5h1.8v1.8h-1.8zM1120.6 470.5h5.8v1.8h-5.8zM1118.6 462.3h1.8v0.2h-1.8zM1126.6 460.3h1.8v0.2h-1.8zM1126.6 464.3h1.8v0.2h-1.8zM1118.6 456.3h1.8v0.2h-1.8zM1126.6 468.3h1.8v0.2h-1.8zM1118.6 460.3h1.8v0.2h-1.8zM1118.6 464.3h1.8v0.2h-1.8zM1126.6 458.3h1.8v0.2h-1.8zM1118.6 468.3h1.8v0.2h-1.8zM1126.6 466.3h1.8v0.2h-1.8zM1126.6 462.3h1.8v0.2h-1.8zM1118.6 458.3h1.8v0.2h-1.8zM1126.6 456.3h1.8v0.2h-1.8zM1118.6 466.3h1.8v0.2h-1.8zM1136.6 452.5h1.8v1.8h-1.8zM1132.6 454.5h5.8v1.8h-5.8zM1136.6 456.5h1.8v1.8h-1.8zM1136.6 458.5h1.8v1.8h-1.8zM1136.6 460.5h1.8v1.8h-1.8zM1136.6 462.5h1.8v1.8h-1.8zM1136.6 464.5h1.8v1.8h-1.8zM1136.6 466.5h1.8v1.8h-1.8zM1136.6 468.5h1.8v1.8h-1.8zM1136.6 470.5h1.8v1.8h-1.8zM1136.6 466.3h1.8v0.2h-1.8zM1136.6 456.3h1.8v0.2h-1.8zM1136.6 462.3h1.8v0.2h-1.8zM1136.6 454.3h1.8v0.2h-1.8zM1136.6 468.3h1.8v0.2h-1.8zM1136.6 458.3h1.8v0.2h-1.8zM1136.6 470.3h1.8v0.2h-1.8zM1136.6 460.3h1.8v0.2h-1.8zM1136.6 464.3h1.8v0.2h-1.8zM1148.6 452.5h5.8v1.8h-5.8zM1146.6 454.5h1.8v1.8h-1.8zM1154.6 454.5h1.8v1.8h-1.8zM1146.6 456.5h1.8v1.8h-1.8zM1154.6 456.5h1.8v1.8h-1.8zM1146.6 458.5h1.8v1.8h-1.8zM1154.6 458.5h1.8v1.8h-1.8zM1146.6 460.5h1.8v1.8h-1.8zM1154.6 460.5h1.8v1.8h-1.8zM1146.6 462.5h1.8v1.8h-1.8zM1154.6 462.5h1.8v1.8h-1.8zM1146.6 464.5h1.8v1.8h-1.8zM1154.6 464.5h1.8v1.8h-1.8zM1146.6 466.5h1.8v1.8h-1.8zM1154.6 466.5h1.8v1.8h-1.8zM1146.6 468.5h1.8v1.8h-1.8zM1154.6 468.5h1.8v1.8h-1.8zM1148.6 470.5h5.8v1.8h-5.8zM1146.6 462.3h1.8v0.2h-1.8zM1154.6 460.3h1.8v0.2h-1.8zM1154.6 464.3h1.8v0.2h-1.8zM1146.6 456.3h1.8v0.2h-1.8zM1154.6 468.3h1.8v0.2h-1.8zM1146.6 460.3h1.8v0.2h-1.8zM1146.6 464.3h1.8v0.2h-1.8zM1154.6 458.3h1.8v0.2h-1.8zM1146.6 468.3h1.8v0.2h-1.8zM1154.6 466.3h1.8v0.2h-1.8zM1154.6 462.3h1.8v0.2h-1.8zM1146.6 458.3h1.8v0.2h-1.8zM1154.6 456.3h1.8v0.2h-1.8zM1146.6 466.3h1.8v0.2h-1.8zM32.6 488.5h1.8v1.8h-1.8zM28.6 490.5h5.8v1.8h-5.8zM32.6 492.5h1.8v1.8h-1.8zM32.6 494.5h1.8v1.8h-1.8zM32.6 496.5h1.8v1.8h-1.8zM32.6 498.5h1.8v1.8h-1.8zM32.6 500.5h1.8v1.8h-1.8zM32.6 502.5h1.8v1.8h-1.8zM32.6 504.5h1.8v1.8h-1.8zM32.6 506.5h1.8v1.8h-1.8zM32.6 502.3h1.8v0.2h-1.8zM32.6 492.3h1.8v0.2h-1.8zM32.6 498.3h1.8v0.2h-1.8zM32.6 490.3h1.8v0.2h-1.8zM32.6 504.3h1.8v0.2h-1.8zM32.6 494.3h1.8v0.2h-1.8zM32.6 506.3h1.8v0.2h-1.8zM32.6 496.3h1.8v0.2h-1.8zM32.6 500.3h1.8v0.2h-1.8zM44.6 488.5h5.8v1.8h-5.8zM42.6 490.5h1.8v1.8h-1.8zM50.6 490.5h1.8v1.8h-1.8zM42.6 492.5h1.8v1.8h-1.8zM50.6 492.5h1.8v1.8h-1.8zM42.6 494.5h1.8v1.8h-1.8zM50.6 494.5h1.8v1.8h-1.8zM42.6 496.5h1.8v1.8h-1.8zM50.6 496.5h1.8v1.8h-1.8zM42.6 498.5h1.8v1.8h-1.8zM50.6 498.5h1.8v1.8h-1.8zM42.6 500.5h1.8v1.8h-1.8zM50.6 500.5h1.8v1.8h-1.8zM42.6 502.5h1.8v1.8h-1.8zM50.6 502.5h1.8v1.8h-1.8zM42.6 504.5h1.8v1.8h-1.8zM50.6 504.5h1.8v1.8h-1.8zM44.6 506.5h5.8v1.8h-5.8zM42.6 498.3h1.8v0.2h-1.8zM50.6 496.3h1.8v0.2h-1.8zM50.6 500.3h1.8v0.2h-1.8zM42.6 492.3h1.8v0.2h-1.8zM50.6 504.3h1.8v0.2h-1.8zM42.6 496.3h1.8v0.2h-1.8zM42.6 500.3h1.8v0.2h-1.8zM50.6 494.3h1.8v0.2h-1.8zM42.6 504.3h1.8v0.2h-1.8zM50.6 502.3h1.8v0.2h-1.8zM50.6 498.3h1.8v0.2h-1.8zM42.6 494.3h1.8v0.2h-1.8zM50.6 492.3h1.8v0.2h-1.8zM42.6 502.3h1.8v0.2h-1.8zM58.6 488.5h5.8v1.8h-5.8zM56.6 490.5h1.8v1.8h-1.8zM64.6 490.5h1.8v1.8h-1.8zM56.6 492.5h1.8v1.8h-1.8zM64.6 492.5h1.8v1.8h-1.8zM64.6 494.5h1.8v1.8h-1.8zM62.6 496.5h1.8v1.8h-1.8zM60.6 498.5h1.8v1.8h-1.8zM58.6 500.5h1.8v1.8h-1.8zM56.6 502.5h1.8v1.8h-1.8zM56.6 504.5h1.8v1.8h-1.8zM56.6 506.5h9.8v1.8h-9.8zM64.6 494.3h1.8v0.2h-1.8zM56.6 504.3h1.8v0.2h-1.8zM64.6 492.3h1.8v0.2h-1.8zM56.6 506.3h1.8v0.2h-1.8zM56.6 492.3h1.8v0.2h-1.8zM78.6 488.5h1.8v1.8h-1.8zM76.6 490.5h3.8v1.8h-3.8zM74.6 492.5h1.8v1.8h-1.8zM78.6 492.5h1.8v1.8h-1.8zM74.6 494.5h1.8v1.8h-1.8zM78.6 494.5h1.8v1.8h-1.8zM72.6 496.5h1.8v1.8h-1.8zM78.6 496.5h1.8v1.8h-1.8zM70.6 498.5h1.8v1.8h-1.8zM78.6 498.5h1.8v1.8h-1.8zM70.6 500.5h9.8v1.8h-9.8zM78.6 502.5h1.8v1.8h-1.8zM78.6 504.5h1.8v1.8h-1.8zM78.6 506.5h1.8v1.8h-1.8zM78.6 496.3h1.8v0.2h-1.8zM78.6 500.3h1.8v0.2h-1.8zM74.6 494.3h1.8v0.2h-1.8zM78.6 504.3h1.8v0.2h-1.8zM70.6 500.3h1.8v0.2h-1.8zM78.6 494.3h1.8v0.2h-1.8zM78.6 490.3h1.8v0.2h-1.8zM78.6 502.3h1.8v0.2h-1.8zM78.6 498.3h1.8v0.2h-1.8zM78.6 506.3h1.8v0.2h-1.8zM78.6 492.3h1.8v0.2h-1.8zM84.6 506.5h1.8v1.8h-1.8zM92.6 488.5h5.8v1.8h-5.8zM90.6 490.5h1.8v1.8h-1.8zM98.6 490.5h1.8v1.8h-1.8zM90.6 492.5h1.8v1.8h-1.8zM98.6 492.5h1.8v1.8h-1.8zM90.6 494.5h1.8v1.8h-1.8zM98.6 494.5h1.8v1.8h-1.8zM90.6 496.5h1.8v1.8h-1.8zM98.6 496.5h1.8v1.8h-1.8zM90.6 498.5h1.8v1.8h-1.8zM98.6 498.5h1.8v1.8h-1.8zM90.6 500.5h1.8v1.8h-1.8zM98.6 500.5h1.8v1.8h-1.8zM90.6 502.5h1.8v1.8h-1.8zM98.6 502.5h1.8v1.8h-1.8zM90.6 504.5h1.8v1.8h-1.8zM98.6 504.5h1.8v1.8h-1.8zM92.6 506.5h5.8v1.8h-5.8zM90.6 498.3h1.8v0.2h-1.8zM98.6 496.3h1.8v0.2h-1.8zM98.6 500.3h1.8v0.2h-1.8zM90.6 492.3h1.8v0.2h-1.8zM98.6 504.3h1.8v0.2h-1.8zM90.6 496.3h1.8v0.2h-1.8zM90.6 500.3h1.8v0.2h-1.8zM98.6 494.3h1.8v0.2h-1.8zM90.6 504.3h1.8v0.2h-1.8zM98.6 502.3h1.8v0.2h-1.8zM98.6 498.3h1.8v0.2h-1.8zM90.6 494.3h1.8v0.2h-1.8zM98.6 492.3h1.8v0.2h-1.8zM90.6 502.3h1.8v0.2h-1.8zM964.6 488.5h5.8v1.8h-5.8zM962.6 490.5h1.8v1.8h-1.8zM970.6 490.5h1.8v1.8h-1.8zM962.6 492.5h1.8v1.8h-1.8zM970.6 492.5h1.8v1.8h-1.8zM970.6 494.5h1.8v1.8h-1.8zM968.6 496.5h1.8v1.8h-1.8zM966.6 498.5h1.8v1.8h-1.8zM964.6 500.5h1.8v1.8h-1.8zM962.6 502.5h1.8v1.8h-1.8zM962.6 504.5h1.8v1.8h-1.8zM962.6 506.5h9.8v1.8h-9.8zM970.6 494.3h1.8v0.2h-1.8zM962.6 504.3h1.8v0.2h-1.8zM970.6 492.3h1.8v0.2h-1.8zM962.6 506.3h1.8v0.2h-1.8zM962.6 492.3h1.8v0.2h-1.8zM978.6 488.5h5.8v1.8h-5.8zM976.6 490.5h1.8v1.8h-1.8zM984.6 490.5h1.8v1.8h-1.8zM976.6 492.5h1.8v1.8h-1.8zM984.6 492.5h1.8v1.8h-1.8zM976.6 494.5h1.8v1.8h-1.8zM984.6 494.5h1.8v1.8h-1.8zM976.6 496.5h1.8v1.8h-1.8zM984.6 496.5h1.8v1.8h-1.8zM976.6 498.5h1.8v1.8h-1.8zM984.6 498.5h1.8v1.8h-1.8zM976.6 500.5h1.8v1.8h-1.8zM984.6 500.5h1.8v1.8h-1.8zM976.6 502.5h1.8v1.8h-1.8zM984.6 502.5h1.8v1.8h-1.8zM976.6 504.5h1.8v1.8h-1.8zM984.6 504.5h1.8v1.8h-1.8zM978.6 506.5h5.8v1.8h-5.8zM976.6 498.3h1.8v0.2h-1.8zM984.6 496.3h1.8v0.2h-1.8zM984.6 500.3h1.8v0.2h-1.8zM976.6 492.3h1.8v0.2h-1.8zM984.6 504.3h1.8v0.2h-1.8zM976.6 496.3h1.8v0.2h-1.8zM976.6 500.3h1.8v0.2h-1.8zM984.6 494.3h1.8v0.2h-1.8zM976.6 504.3h1.8v0.2h-1.8zM984.6 502.3h1.8v0.2h-1.8zM984.6 498.3h1.8v0.2h-1.8zM976.6 494.3h1.8v0.2h-1.8zM984.6 492.3h1.8v0.2h-1.8zM976.6 502.3h1.8v0.2h-1.8zM994.6 488.5h1.8v1.8h-1.8zM990.6 490.5h5.8v1.8h-5.8zM994.6 492.5h1.8v1.8h-1.8zM994.6 494.5h1.8v1.8h-1.8zM994.6 496.5h1.8v1.8h-1.8zM994.6 498.5h1.8v1.8h-1.8zM994.6 500.5h1.8v1.8h-1.8zM994.6 502.5h1.8v1.8h-1.8zM994.6 504.5h1.8v1.8h-1.8zM994.6 506.5h1.8v1.8h-1.8zM994.6 502.3h1.8v0.2h-1.8zM994.6 492.3h1.8v0.2h-1.8zM994.6 498.3h1.8v0.2h-1.8zM994.6 490.3h1.8v0.2h-1.8zM994.6 504.3h1.8v0.2h-1.8zM994.6 494.3h1.8v0.2h-1.8zM994.6 506.3h1.8v0.2h-1.8zM994.6 496.3h1.8v0.2h-1.8zM994.6 500.3h1.8v0.2h-1.8zM1006.6 488.5h5.8v1.8h-5.8zM1004.6 490.5h1.8v1.8h-1.8zM1012.6 490.5h1.8v1.8h-1.8zM1004.6 492.5h1.8v1.8h-1.8zM1004.6 494.5h1.8v1.8h-1.8zM1004.6 496.5h1.8v1.8h-1.8zM1008.6 496.5h3.8v1.8h-3.8zM1004.6 498.5h3.8v1.8h-3.8zM1012.6 498.5h1.8v1.8h-1.8zM1004.6 500.5h1.8v1.8h-1.8zM1012.6 500.5h1.8v1.8h-1.8zM1004.6 502.5h1.8v1.8h-1.8zM1012.6 502.5h1.8v1.8h-1.8zM1004.6 504.5h1.8v1.8h-1.8zM1012.6 504.5h1.8v1.8h-1.8zM1006.6 506.5h5.8v1.8h-5.8zM1004.6 498.3h1.8v0.2h-1.8zM1012.6 500.3h1.8v0.2h-1.8zM1004.6 492.3h1.8v0.2h-1.8zM1012.6 504.3h1.8v0.2h-1.8zM1004.6 496.3h1.8v0.2h-1.8zM1004.6 500.3h1.8v0.2h-1.8zM1004.6 504.3h1.8v0.2h-1.8zM1012.6 502.3h1.8v0.2h-1.8zM1004.6 494.3h1.8v0.2h-1.8zM1004.6 502.3h1.8v0.2h-1.8zM1018.6 488.5h9.8v1.8h-9.8zM1026.6 490.5h1.8v1.8h-1.8zM1026.6 492.5h1.8v1.8h-1.8zM1024.6 494.5h1.8v1.8h-1.8zM1024.6 496.5h1.8v1.8h-1.8zM1022.6 498.5h1.8v1.8h-1.8zM1022.6 500.5h1.8v1.8h-1.8zM1020.6 502.5h1.8v1.8h-1.8zM1020.6 504.5h1.8v1.8h-1.8zM1020.6 506.5h1.8v1.8h-1.8zM1026.6 490.3h1.8v0.2h-1.8zM1020.6 504.3h1.8v0.2h-1.8zM1020.6 506.3h1.8v0.2h-1.8zM1026.6 492.3h1.8v0.2h-1.8zM1024.6 496.3h1.8v0.2h-1.8zM1022.6 500.3h1.8v0.2h-1.8zM1092.6 488.5h5.8v1.8h-5.8zM1090.6 490.5h1.8v1.8h-1.8zM1098.6 490.5h1.8v1.8h-1.8zM1090.6 492.5h1.8v1.8h-1.8zM1098.6 492.5h1.8v1.8h-1.8zM1090.6 494.5h1.8v1.8h-1.8zM1098.6 494.5h1.8v1.8h-1.8zM1092.6 496.5h5.8v1.8h-5.8zM1090.6 498.5h1.8v1.8h-1.8zM1098.6 498.5h1.8v1.8h-1.8zM1090.6 500.5h1.8v1.8h-1.8zM1098.6 500.5h1.8v1.8h-1.8zM1090.6 502.5h1.8v1.8h-1.8zM1098.6 502.5h1.8v1.8h-1.8zM1090.6 504.5h1.8v1.8h-1.8zM1098.6 504.5h1.8v1.8h-1.8zM1092.6 506.5h5.8v1.8h-5.8zM1098.6 500.3h1.8v0.2h-1.8zM1090.6 492.3h1.8v0.2h-1.8zM1098.6 504.3h1.8v0.2h-1.8zM1090.6 500.3h1.8v0.2h-1.8zM1098.6 494.3h1.8v0.2h-1.8zM1090.6 504.3h1.8v0.2h-1.8zM1098.6 502.3h1.8v0.2h-1.8zM1090.6 494.3h1.8v0.2h-1.8zM1098.6 492.3h1.8v0.2h-1.8zM1090.6 502.3h1.8v0.2h-1.8zM1106.6 488.5h5.8v1.8h-5.8zM1104.6 490.5h1.8v1.8h-1.8zM1112.6 490.5h1.8v1.8h-1.8zM1104.6 492.5h1.8v1.8h-1.8zM1112.6 492.5h1.8v1.8h-1.8zM1104.6 494.5h1.8v1.8h-1.8zM1112.6 494.5h1.8v1.8h-1.8zM1104.6 496.5h1.8v1.8h-1.8zM1112.6 496.5h1.8v1.8h-1.8zM1104.6 498.5h1.8v1.8h-1.8zM1112.6 498.5h1.8v1.8h-1.8zM1104.6 500.5h1.8v1.8h-1.8zM1112.6 500.5h1.8v1.8h-1.8zM1104.6 502.5h1.8v1.8h-1.8zM1112.6 502.5h1.8v1.8h-1.8zM1104.6 504.5h1.8v1.8h-1.8zM1112.6 504.5h1.8v1.8h-1.8zM1106.6 506.5h5.8v1.8h-5.8zM1104.6 498.3h1.8v0.2h-1.8zM1112.6 496.3h1.8v0.2h-1.8zM1112.6 500.3h1.8v0.2h-1.8zM1104.6 492.3h1.8v0.2h-1.8zM1112.6 504.3h1.8v0.2h-1.8zM1104.6 496.3h1.8v0.2h-1.8zM1104.6 500.3h1.8v0.2h-1.8zM1112.6 494.3h1.8v0.2h-1.8zM1104.6 504.3h1.8v0.2h-1.8zM1112.6 502.3h1.8v0.2h-1.8zM1112.6 498.3h1.8v0.2h-1.8zM1104.6 494.3h1.8v0.2h-1.8zM1112.6 492.3h1.8v0.2h-1.8zM1104.6 502.3h1.8v0.2h-1.8zM1120.6 488.5h5.8v1.8h-5.8zM1118.6 490.5h1.8v1.8h-1.8zM1126.6 490.5h1.8v1.8h-1.8zM1118.6 492.5h1.8v1.8h-1.8zM1126.6 492.5h1.8v1.8h-1.8zM1118.6 494.5h1.8v1.8h-1.8zM1126.6 494.5h1.8v1.8h-1.8zM1118.6 496.5h1.8v1.8h-1.8zM1124.6 496.5h3.8v1.8h-3.8zM1120.6 498.5h3.8v1.8h-3.8zM1126.6 498.5h1.8v1.8h-1.8zM1126.6 500.5h1.8v1.8h-1.8zM1126.6 502.5h1.8v1.8h-1.8zM1118.6 504.5h1.8v1.8h-1.8zM1126.6 504.5h1.8v1.8h-1.8zM1120.6 506.5h5.8v1.8h-5.8zM1126.6 496.3h1.8v0.2h-1.8zM1126.6 500.3h1.8v0.2h-1.8zM1118.6 492.3h1.8v0.2h-1.8zM1126.6 504.3h1.8v0.2h-1.8zM1118.6 496.3h1.8v0.2h-1.8zM1126.6 494.3h1.8v0.2h-1.8zM1126.6 502.3h1.8v0.2h-1.8zM1126.6 498.3h1.8v0.2h-1.8zM1118.6 494.3h1.8v0.2h-1.8zM1126.6 492.3h1.8v0.2h-1.8zM1132.6 488.5h9.8v1.8h-9.8zM1140.6 490.5h1.8v1.8h-1.8zM1140.6 492.5h1.8v1.8h-1.8zM1138.6 494.5h1.8v1.8h-1.8zM1138.6 496.5h1.8v1.8h-1.8zM1136.6 498.5h1.8v1.8h-1.8zM1136.6 500.5h1.8v1.8h-1.8zM1134.6 502.5h1.8v1.8h-1.8zM1134.6 504.5h1.8v1.8h-1.8zM1134.6 506.5h1.8v1.8h-1.8zM1140.6 490.3h1.8v0.2h-1.8zM1134.6 504.3h1.8v0.2h-1.8zM1134.6 506.3h1.8v0.2h-1.8zM1140.6 492.3h1.8v0.2h-1.8zM1138.6 496.3h1.8v0.2h-1.8zM1136.6 500.3h1.8v0.2h-1.8zM1148.6 488.5h5.8v1.8h-5.8zM1146.6 490.5h1.8v1.8h-1.8zM1154.6 490.5h1.8v1.8h-1.8zM1146.6 492.5h1.8v1.8h-1.8zM1146.6 494.5h1.8v1.8h-1.8zM1146.6 496.5h1.8v1.8h-1.8zM1150.6 496.5h3.8v1.8h-3.8zM1146.6 498.5h3.8v1.8h-3.8zM1154.6 498.5h1.8v1.8h-1.8zM1146.6 500.5h1.8v1.8h-1.8zM1154.6 500.5h1.8v1.8h-1.8zM1146.6 502.5h1.8v1.8h-1.8zM1154.6 502.5h1.8v1.8h-1.8zM1146.6 504.5h1.8v1.8h-1.8zM1154.6 504.5h1.8v1.8h-1.8zM1148.6 506.5h5.8v1.8h-5.8zM1146.6 498.3h1.8v0.2h-1.8zM1154.6 500.3h1.8v0.2h-1.8zM1146.6 492.3h1.8v0.2h-1.8zM1154.6 504.3h1.8v0.2h-1.8zM1146.6 496.3h1.8v0.2h-1.8zM1146.6 500.3h1.8v0.2h-1.8zM1146.6 504.3h1.8v0.2h-1.8zM1154.6 502.3h1.8v0.2h-1.8zM1146.6 494.3h1.8v0.2h-1.8zM1146.6 502.3h1.8v0.2h-1.8zM30.6 524.5h5.8v1.8h-5.8zM28.6 526.5h1.8v1.8h-1.8zM36.6 526.5h1.8v1.8h-1.8zM28.6 528.5h1.8v1.8h-1.8zM36.6 528.5h1.8v1.8h-1.8zM36.6 530.5h1.8v1.8h-1.8zM34.6 532.5h1.8v1.8h-1.8zM32.6 534.5h1.8v1.8h-1.8zM30.6 536.5h1.8v1.8h-1.8zM28.6 538.5h1.8v1.8h-1.8zM28.6 540.5h1.8v1.8h-1.8zM28.6 542.5h9.8v1.8h-9.8zM36.6 530.3h1.8v0.2h-1.8zM28.6 540.3h1.8v0.2h-1.8zM36.6 528.3h1.8v0.2h-1.8zM28.6 542.3h1.8v0.2h-1.8zM28.6 528.3h1.8v0.2h-1.8zM44.6 524.5h5.8v1.8h-5.8zM42.6 526.5h1.8v1.8h-1.8zM50.6 526.5h1.8v1.8h-1.8zM42.6 528.5h1.8v1.8h-1.8zM50.6 528.5h1.8v1.8h-1.8zM42.6 530.5h1.8v1.8h-1.8zM50.6 530.5h1.8v1.8h-1.8zM42.6 532.5h1.8v1.8h-1.8zM50.6 532.5h1.8v1.8h-1.8zM42.6 534.5h1.8v1.8h-1.8zM50.6 534.5h1.8v1.8h-1.8zM42.6 536.5h1.8v1.8h-1.8zM50.6 536.5h1.8v1.8h-1.8zM42.6 538.5h1.8v1.8h-1.8zM50.6 538.5h1.8v1.8h-1.8zM42.6 540.5h1.8v1.8h-1.8zM50.6 540.5h1.8v1.8h-1.8zM44.6 542.5h5.8v1.8h-5.8zM42.6 534.3h1.8v0.2h-1.8zM50.6 532.3h1.8v0.2h-1.8zM50.6 536.3h1.8v0.2h-1.8zM42.6 528.3h1.8v0.2h-1.8zM50.6 540.3h1.8v0.2h-1.8zM42.6 532.3h1.8v0.2h-1.8zM42.6 536.3h1.8v0.2h-1.8zM50.6 530.3h1.8v0.2h-1.8zM42.6 540.3h1.8v0.2h-1.8zM50.6 538.3h1.8v0.2h-1.8zM50.6 534.3h1.8v0.2h-1.8zM42.6 530.3h1.8v0.2h-1.8zM50.6 528.3h1.8v0.2h-1.8zM42.6 538.3h1.8v0.2h-1.8zM64.6 524.5h1.8v1.8h-1.8zM62.6 526.5h3.8v1.8h-3.8zM60.6 528.5h1.8v1.8h-1.8zM64.6 528.5h1.8v1.8h-1.8zM60.6 530.5h1.8v1.8h-1.8zM64.6 530.5h1.8v1.8h-1.8zM58.6 532.5h1.8v1.8h-1.8zM64.6 532.5h1.8v1.8h-1.8zM56.6 534.5h1.8v1.8h-1.8zM64.6 534.5h1.8v1.8h-1.8zM56.6 536.5h9.8v1.8h-9.8zM64.6 538.5h1.8v1.8h-1.8zM64.6 540.5h1.8v1.8h-1.8zM64.6 542.5h1.8v1.8h-1.8zM64.6 532.3h1.8v0.2h-1.8zM64.6 536.3h1.8v0.2h-1.8zM60.6 530.3h1.8v0.2h-1.8zM64.6 540.3h1.8v0.2h-1.8zM56.6 536.3h1.8v0.2h-1.8zM64.6 530.3h1.8v0.2h-1.8zM64.6 526.3h1.8v0.2h-1.8zM64.6 538.3h1.8v0.2h-1.8zM64.6 534.3h1.8v0.2h-1.8zM64.6 542.3h1.8v0.2h-1.8zM64.6 528.3h1.8v0.2h-1.8zM72.6 524.5h5.8v1.8h-5.8zM70.6 526.5h1.8v1.8h-1.8zM78.6 526.5h1.8v1.8h-1.8zM70.6 528.5h1.8v1.8h-1.8zM78.6 528.5h1.8v1.8h-1.8zM70.6 530.5h1.8v1.8h-1.8zM78.6 530.5h1.8v1.8h-1.8zM72.6 532.5h5.8v1.8h-5.8zM70.6 534.5h1.8v1.8h-1.8zM78.6 534.5h1.8v1.8h-1.8zM70.6 536.5h1.8v1.8h-1.8zM78.6 536.5h1.8v1.8h-1.8zM70.6 538.5h1.8v1.8h-1.8zM78.6 538.5h1.8v1.8h-1.8zM70.6 540.5h1.8v1.8h-1.8zM78.6 540.5h1.8v1.8h-1.8zM72.6 542.5h5.8v1.8h-5.8zM78.6 536.3h1.8v0.2h-1.8zM70.6 528.3h1.8v0.2h-1.8zM78.6 540.3h1.8v0.2h-1.8zM70.6 536.3h1.8v0.2h-1.8zM78.6 530.3h1.8v0.2h-1.8zM70.6 540.3h1.8v0.2h-1.8zM78.6 538.3h1.8v0.2h-1.8zM70.6 530.3h1.8v0.2h-1.8zM78.6 528.3h1.8v0.2h-1.8zM70.6 538.3h1.8v0.2h-1.8zM84.6 542.5h1.8v1.8h-1.8zM92.6 524.5h5.8v1.8h-5.8zM90.6 526.5h1.8v1.8h-1.8zM98.6 526.5h1.8v1.8h-1.8zM90.6 528.5h1.8v1.8h-1.8zM98.6 528.5h1.8v1.8h-1.8zM90.6 530.5h1.8v1.8h-1.8zM98.6 530.5h1.8v1.8h-1.8zM90.6 532.5h1.8v1.8h-1.8zM98.6 532.5h1.8v1.8h-1.8zM90.6 534.5h1.8v1.8h-1.8zM98.6 534.5h1.8v1.8h-1.8zM90.6 536.5h1.8v1.8h-1.8zM98.6 536.5h1.8v1.8h-1.8zM90.6 538.5h1.8v1.8h-1.8zM98.6 538.5h1.8v1.8h-1.8zM90.6 540.5h1.8v1.8h-1.8zM98.6 540.5h1.8v1.8h-1.8zM92.6 542.5h5.8v1.8h-5.8zM90.6 534.3h1.8v0.2h-1.8zM98.6 532.3h1.8v0.2h-1.8zM98.6 536.3h1.8v0.2h-1.8zM90.6 528.3h1.8v0.2h-1.8zM98.6 540.3h1.8v0.2h-1.8zM90.6 532.3h1.8v0.2h-1.8zM90.6 536.3h1.8v0.2h-1.8zM98.6 530.3h1.8v0.2h-1.8zM90.6 540.3h1.8v0.2h-1.8zM98.6 538.3h1.8v0.2h-1.8zM98.6 534.3h1.8v0.2h-1.8zM90.6 530.3h1.8v0.2h-1.8zM98.6 528.3h1.8v0.2h-1.8zM90.6 538.3h1.8v0.2h-1.8zM964.6 524.5h5.8v1.8h-5.8zM962.6 526.5h1.8v1.8h-1.8zM970.6 526.5h1.8v1.8h-1.8zM962.6 528.5h1.8v1.8h-1.8zM970.6 528.5h1.8v1.8h-1.8zM970.6 530.5h1.8v1.8h-1.8zM968.6 532.5h1.8v1.8h-1.8zM966.6 534.5h1.8v1.8h-1.8zM964.6 536.5h1.8v1.8h-1.8zM962.6 538.5h1.8v1.8h-1.8zM962.6 540.5h1.8v1.8h-1.8zM962.6 542.5h9.8v1.8h-9.8zM970.6 530.3h1.8v0.2h-1.8zM962.6 540.3h1.8v0.2h-1.8zM970.6 528.3h1.8v0.2h-1.8zM962.6 542.3h1.8v0.2h-1.8zM962.6 528.3h1.8v0.2h-1.8zM978.6 524.5h5.8v1.8h-5.8zM976.6 526.5h1.8v1.8h-1.8zM984.6 526.5h1.8v1.8h-1.8zM976.6 528.5h1.8v1.8h-1.8zM984.6 528.5h1.8v1.8h-1.8zM976.6 530.5h1.8v1.8h-1.8zM984.6 530.5h1.8v1.8h-1.8zM976.6 532.5h1.8v1.8h-1.8zM984.6 532.5h1.8v1.8h-1.8zM976.6 534.5h1.8v1.8h-1.8zM984.6 534.5h1.8v1.8h-1.8zM976.6 536.5h1.8v1.8h-1.8zM984.6 536.5h1.8v1.8h-1.8zM976.6 538.5h1.8v1.8h-1.8zM984.6 538.5h1.8v1.8h-1.8zM976.6 540.5h1.8v1.8h-1.8zM984.6 540.5h1.8v1.8h-1.8zM978.6 542.5h5.8v1.8h-5.8zM976.6 534.3h1.8v0.2h-1.8zM984.6 532.3h1.8v0.2h-1.8zM984.6 536.3h1.8v0.2h-1.8zM976.6 528.3h1.8v0.2h-1.8zM984.6 540.3h1.8v0.2h-1.8zM976.6 532.3h1.8v0.2h-1.8zM976.6 536.3h1.8v0.2h-1.8zM984.6 530.3h1.8v0.2h-1.8zM976.6 540.3h1.8v0.2h-1.8zM984.6 538.3h1.8v0.2h-1.8zM984.6 534.3h1.8v0.2h-1.8zM976.6 530.3h1.8v0.2h-1.8zM984.6 528.3h1.8v0.2h-1.8zM976.6 538.3h1.8v0.2h-1.8zM990.6 524.5h9.8v1.8h-9.8zM990.6 526.5h1.8v1.8h-1.8zM990.6 528.5h1.8v1.8h-1.8zM990.6 530.5h1.8v1.8h-1.8zM990.6 532.5h7.8v1.8h-7.8zM990.6 534.5h1.8v1.8h-1.8zM998.6 534.5h1.8v1.8h-1.8zM998.6 536.5h1.8v1.8h-1.8zM998.6 538.5h1.8v1.8h-1.8zM990.6 540.5h1.8v1.8h-1.8zM998.6 540.5h1.8v1.8h-1.8zM992.6 542.5h5.8v1.8h-5.8zM990.6 534.3h1.8v0.2h-1.8zM998.6 536.3h1.8v0.2h-1.8zM990.6 528.3h1.8v0.2h-1.8zM998.6 540.3h1.8v0.2h-1.8zM990.6 532.3h1.8v0.2h-1.8zM998.6 538.3h1.8v0.2h-1.8zM990.6 526.3h1.8v0.2h-1.8zM990.6 530.3h1.8v0.2h-1.8zM1004.6 524.5h9.8v1.8h-9.8zM1004.6 526.5h1.8v1.8h-1.8zM1004.6 528.5h1.8v1.8h-1.8zM1004.6 530.5h1.8v1.8h-1.8zM1004.6 532.5h7.8v1.8h-7.8zM1004.6 534.5h1.8v1.8h-1.8zM1012.6 534.5h1.8v1.8h-1.8zM1012.6 536.5h1.8v1.8h-1.8zM1012.6 538.5h1.8v1.8h-1.8zM1004.6 540.5h1.8v1.8h-1.8zM1012.6 540.5h1.8v1.8h-1.8zM1006.6 542.5h5.8v1.8h-5.8zM1004.6 534.3h1.8v0.2h-1.8zM1012.6 536.3h1.8v0.2h-1.8zM1004.6 528.3h1.8v0.2h-1.8zM1012.6 540.3h1.8v0.2h-1.8zM1004.6 532.3h1.8v0.2h-1.8zM1012.6 538.3h1.8v0.2h-1.8zM1004.6 526.3h1.8v0.2h-1.8zM1004.6 530.3h1.8v0.2h-1.8zM1026.6 524.5h1.8v1.8h-1.8zM1024.6 526.5h3.8v1.8h-3.8zM1022.6 528.5h1.8v1.8h-1.8zM1026.6 528.5h1.8v1.8h-1.8zM1022.6 530.5h1.8v1.8h-1.8zM1026.6 530.5h1.8v1.8h-1.8zM1020.6 532.5h1.8v1.8h-1.8zM1026.6 532.5h1.8v1.8h-1.8zM1018.6 534.5h1.8v1.8h-1.8zM1026.6 534.5h1.8v1.8h-1.8zM1018.6 536.5h9.8v1.8h-9.8zM1026.6 538.5h1.8v1.8h-1.8zM1026.6 540.5h1.8v1.8h-1.8zM1026.6 542.5h1.8v1.8h-1.8zM1026.6 532.3h1.8v0.2h-1.8zM1026.6 536.3h1.8v0.2h-1.8zM1022.6 530.3h1.8v0.2h-1.8zM1026.6 540.3h1.8v0.2h-1.8zM1018.6 536.3h1.8v0.2h-1.8zM1026.6 530.3h1.8v0.2h-1.8zM1026.6 526.3h1.8v0.2h-1.8zM1026.6 538.3h1.8v0.2h-1.8zM1026.6 534.3h1.8v0.2h-1.8zM1026.6 542.3h1.8v0.2h-1.8zM1026.6 528.3h1.8v0.2h-1.8zM1092.6 524.5h5.8v1.8h-5.8zM1090.6 526.5h1.8v1.8h-1.8zM1098.6 526.5h1.8v1.8h-1.8zM1090.6 528.5h1.8v1.8h-1.8zM1098.6 528.5h1.8v1.8h-1.8zM1090.6 530.5h1.8v1.8h-1.8zM1098.6 530.5h1.8v1.8h-1.8zM1092.6 532.5h5.8v1.8h-5.8zM1090.6 534.5h1.8v1.8h-1.8zM1098.6 534.5h1.8v1.8h-1.8zM1090.6 536.5h1.8v1.8h-1.8zM1098.6 536.5h1.8v1.8h-1.8zM1090.6 538.5h1.8v1.8h-1.8zM1098.6 538.5h1.8v1.8h-1.8zM1090.6 540.5h1.8v1.8h-1.8zM1098.6 540.5h1.8v1.8h-1.8zM1092.6 542.5h5.8v1.8h-5.8zM1098.6 536.3h1.8v0.2h-1.8zM1090.6 528.3h1.8v0.2h-1.8zM1098.6 540.3h1.8v0.2h-1.8zM1090.6 536.3h1.8v0.2h-1.8zM1098.6 530.3h1.8v0.2h-1.8zM1090.6 540.3h1.8v0.2h-1.8zM1098.6 538.3h1.8v0.2h-1.8zM1090.6 530.3h1.8v0.2h-1.8zM1098.6 528.3h1.8v0.2h-1.8zM1090.6 538.3h1.8v0.2h-1.8zM1106.6 524.5h5.8v1.8h-5.8zM1104.6 526.5h1.8v1.8h-1.8zM1112.6 526.5h1.8v1.8h-1.8zM1104.6 528.5h1.8v1.8h-1.8zM1112.6 528.5h1.8v1.8h-1.8zM1104.6 530.5h1.8v1.8h-1.8zM1112.6 530.5h1.8v1.8h-1.8zM1104.6 532.5h1.8v1.8h-1.8zM1112.6 532.5h1.8v1.8h-1.8zM1104.6 534.5h1.8v1.8h-1.8zM1112.6 534.5h1.8v1.8h-1.8zM1104.6 536.5h1.8v1.8h-1.8zM1112.6 536.5h1.8v1.8h-1.8zM1104.6 538.5h1.8v1.8h-1.8zM1112.6 538.5h1.8v1.8h-1.8zM1104.6 540.5h1.8v1.8h-1.8zM1112.6 540.5h1.8v1.8h-1.8zM1106.6 542.5h5.8v1.8h-5.8zM1104.6 534.3h1.8v0.2h-1.8zM1112.6 532.3h1.8v0.2h-1.8zM1112.6 536.3h1.8v0.2h-1.8zM1104.6 528.3h1.8v0.2h-1.8zM1112.6 540.3h1.8v0.2h-1.8zM1104.6 532.3h1.8v0.2h-1.8zM1104.6 536.3h1.8v0.2h-1.8zM1112.6 530.3h1.8v0.2h-1.8zM1104.6 540.3h1.8v0.2h-1.8zM1112.6 538.3h1.8v0.2h-1.8zM1112.6 534.3h1.8v0.2h-1.8zM1104.6 530.3h1.8v0.2h-1.8zM1112.6 528.3h1.8v0.2h-1.8zM1104.6 538.3h1.8v0.2h-1.8zM1120.6 524.5h5.8v1.8h-5.8zM1118.6 526.5h1.8v1.8h-1.8zM1126.6 526.5h1.8v1.8h-1.8zM1118.6 528.5h1.8v1.8h-1.8zM1126.6 528.5h1.8v1.8h-1.8zM1118.6 530.5h1.8v1.8h-1.8zM1126.6 530.5h1.8v1.8h-1.8zM1120.6 532.5h5.8v1.8h-5.8zM1118.6 534.5h1.8v1.8h-1.8zM1126.6 534.5h1.8v1.8h-1.8zM1118.6 536.5h1.8v1.8h-1.8zM1126.6 536.5h1.8v1.8h-1.8zM1118.6 538.5h1.8v1.8h-1.8zM1126.6 538.5h1.8v1.8h-1.8zM1118.6 540.5h1.8v1.8h-1.8zM1126.6 540.5h1.8v1.8h-1.8zM1120.6 542.5h5.8v1.8h-5.8zM1126.6 536.3h1.8v0.2h-1.8zM1118.6 528.3h1.8v0.2h-1.8zM1126.6 540.3h1.8v0.2h-1.8zM1118.6 536.3h1.8v0.2h-1.8zM1126.6 530.3h1.8v0.2h-1.8zM1118.6 540.3h1.8v0.2h-1.8zM1126.6 538.3h1.8v0.2h-1.8zM1118.6 530.3h1.8v0.2h-1.8zM1126.6 528.3h1.8v0.2h-1.8zM1118.6 538.3h1.8v0.2h-1.8zM1132.6 524.5h9.8v1.8h-9.8zM1132.6 526.5h1.8v1.8h-1.8zM1132.6 528.5h1.8v1.8h-1.8zM1132.6 530.5h1.8v1.8h-1.8zM1132.6 532.5h7.8v1.8h-7.8zM1132.6 534.5h1.8v1.8h-1.8zM1140.6 534.5h1.8v1.8h-1.8zM1140.6 536.5h1.8v1.8h-1.8zM1140.6 538.5h1.8v1.8h-1.8zM1132.6 540.5h1.8v1.8h-1.8zM1140.6 540.5h1.8v1.8h-1.8zM1134.6 542.5h5.8v1.8h-5.8zM1132.6 534.3h1.8v0.2h-1.8zM1140.6 536.3h1.8v0.2h-1.8zM1132.6 528.3h1.8v0.2h-1.8zM1140.6 540.3h1.8v0.2h-1.8zM1132.6 532.3h1.8v0.2h-1.8zM1140.6 538.3h1.8v0.2h-1.8zM1132.6 526.3h1.8v0.2h-1.8zM1132.6 530.3h1.8v0.2h-1.8zM1154.6 524.5h1.8v1.8h-1.8zM1152.6 526.5h3.8v1.8h-3.8zM1150.6 528.5h1.8v1.8h-1.8zM1154.6 528.5h1.8v1.8h-1.8zM1150.6 530.5h1.8v1.8h-1.8zM1154.6 530.5h1.8v1.8h-1.8zM1148.6 532.5h1.8v1.8h-1.8zM1154.6 532.5h1.8v1.8h-1.8zM1146.6 534.5h1.8v1.8h-1.8zM1154.6 534.5h1.8v1.8h-1.8zM1146.6 536.5h9.8v1.8h-9.8zM1154.6 538.5h1.8v1.8h-1.8zM1154.6 540.5h1.8v1.8h-1.8zM1154.6 542.5h1.8v1.8h-1.8zM1154.6 532.3h1.8v0.2h-1.8zM1154.6 536.3h1.8v0.2h-1.8zM1150.6 530.3h1.8v0.2h-1.8zM1154.6 540.3h1.8v0.2h-1.8zM1146.6 536.3h1.8v0.2h-1.8zM1154.6 530.3h1.8v0.2h-1.8zM1154.6 526.3h1.8v0.2h-1.8zM1154.6 538.3h1.8v0.2h-1.8zM1154.6 534.3h1.8v0.2h-1.8zM1154.6 542.3h1.8v0.2h-1.8zM1154.6 528.3h1.8v0.2h-1.8zM36.6 560.5h1.8v1.8h-1.8zM34.6 562.5h3.8v1.8h-3.8zM32.6 564.5h1.8v1.8h-1.8zM36.6 564.5h1.8v1.8h-1.8zM32.6 566.5h1.8v1.8h-1.8zM36.6 566.5h1.8v1.8h-1.8zM30.6 568.5h1.8v1.8h-1.8zM36.6 568.5h1.8v1.8h-1.8zM28.6 570.5h1.8v1.8h-1.8zM36.6 570.5h1.8v1.8h-1.8zM28.6 572.5h9.8v1.8h-9.8zM36.6 574.5h1.8v1.8h-1.8zM36.6 576.5h1.8v1.8h-1.8zM36.6 578.5h1.8v1.8h-1.8zM36.6 568.3h1.8v0.2h-1.8zM36.6 572.3h1.8v0.2h-1.8zM32.6 566.3h1.8v0.2h-1.8zM36.6 576.3h1.8v0.2h-1.8zM28.6 572.3h1.8v0.2h-1.8zM36.6 566.3h1.8v0.2h-1.8zM36.6 562.3h1.8v0.2h-1.8zM36.6 574.3h1.8v0.2h-1.8zM36.6 570.3h1.8v0.2h-1.8zM36.6 578.3h1.8v0.2h-1.8zM36.6 564.3h1.8v0.2h-1.8zM44.6 560.5h5.8v1.8h-5.8zM42.6 562.5h1.8v1.8h-1.8zM50.6 562.5h1.8v1.8h-1.8zM42.6 564.5h1.8v1.8h-1.8zM50.6 564.5h1.8v1.8h-1.8zM42.6 566.5h1.8v1.8h-1.8zM50.6 566.5h1.8v1.8h-1.8zM42.6 568.5h1.8v1.8h-1.8zM50.6 568.5h1.8v1.8h-1.8zM42.6 570.5h1.8v1.8h-1.8zM50.6 570.5h1.8v1.8h-1.8zM42.6 572.5h1.8v1.8h-1.8zM50.6 572.5h1.8v1.8h-1.8zM42.6 574.5h1.8v1.8h-1.8zM50.6 574.5h1.8v1.8h-1.8zM42.6 576.5h1.8v1.8h-1.8zM50.6 576.5h1.8v1.8h-1.8zM44.6 578.5h5.8v1.8h-5.8zM42.6 570.3h1.8v0.2h-1.8zM50.6 568.3h1.8v0.2h-1.8zM50.6 572.3h1.8v0.2h-1.8zM42.6 564.3h1.8v0.2h-1.8zM50.6 576.3h1.8v0.2h-1.8zM42.6 568.3h1.8v0.2h-1.8zM42.6 572.3h1.8v0.2h-1.8zM50.6 566.3h1.8v0.2h-1.8zM42.6 576.3h1.8v0.2h-1.8zM50.6 574.3h1.8v0.2h-1.8zM50.6 570.3h1.8v0.2h-1.8zM42.6 566.3h1.8v0.2h-1.8zM50.6 564.3h1.8v0.2h-1.8zM42.6 574.3h1.8v0.2h-1.8zM58.6 560.5h5.8v1.8h-5.8zM56.6 562.5h1.8v1.8h-1.8zM64.6 562.5h1.8v1.8h-1.8zM56.6 564.5h1.8v1.8h-1.8zM64.6 564.5h1.8v1.8h-1.8zM56.6 566.5h1.8v1.8h-1.8zM64.6 566.5h1.8v1.8h-1.8zM56.6 568.5h1.8v1.8h-1.8zM62.6 568.5h3.8v1.8h-3.8zM58.6 570.5h3.8v1.8h-3.8zM64.6 570.5h1.8v1.8h-1.8zM64.6 572.5h1.8v1.8h-1.8zM64.6 574.5h1.8v1.8h-1.8zM56.6 576.5h1.8v1.8h-1.8zM64.6 576.5h1.8v1.8h-1.8zM58.6 578.5h5.8v1.8h-5.8zM64.6 568.3h1.8v0.2h-1.8zM64.6 572.3h1.8v0.2h-1.8zM56.6 564.3h1.8v0.2h-1.8zM64.6 576.3h1.8v0.2h-1.8zM56.6 568.3h1.8v0.2h-1.8zM64.6 566.3h1.8v0.2h-1.8zM64.6 574.3h1.8v0.2h-1.8zM64.6 570.3h1.8v0.2h-1.8zM56.6 566.3h1.8v0.2h-1.8zM64.6 564.3h1.8v0.2h-1.8zM72.6 560.5h5.8v1.8h-5.8zM70.6 562.5h1.8v1.8h-1.8zM78.6 562.5h1.8v1.8h-1.8zM70.6 564.5h1.8v1.8h-1.8zM70.6 566.5h1.8v1.8h-1.8zM70.6 568.5h1.8v1.8h-1.8zM74.6 568.5h3.8v1.8h-3.8zM70.6 570.5h3.8v1.8h-3.8zM78.6 570.5h1.8v1.8h-1.8zM70.6 572.5h1.8v1.8h-1.8zM78.6 572.5h1.8v1.8h-1.8zM70.6 574.5h1.8v1.8h-1.8zM78.6 574.5h1.8v1.8h-1.8zM70.6 576.5h1.8v1.8h-1.8zM78.6 576.5h1.8v1.8h-1.8zM72.6 578.5h5.8v1.8h-5.8zM70.6 570.3h1.8v0.2h-1.8zM78.6 572.3h1.8v0.2h-1.8zM70.6 564.3h1.8v0.2h-1.8zM78.6 576.3h1.8v0.2h-1.8zM70.6 568.3h1.8v0.2h-1.8zM70.6 572.3h1.8v0.2h-1.8zM70.6 576.3h1.8v0.2h-1.8zM78.6 574.3h1.8v0.2h-1.8zM70.6 566.3h1.8v0.2h-1.8zM70.6 574.3h1.8v0.2h-1.8zM84.6 578.5h1.8v1.8h-1.8zM92.6 560.5h5.8v1.8h-5.8zM90.6 562.5h1.8v1.8h-1.8zM98.6 562.5h1.8v1.8h-1.8zM90.6 564.5h1.8v1.8h-1.8zM98.6 564.5h1.8v1.8h-1.8zM90.6 566.5h1.8v1.8h-1.8zM98.6 566.5h1.8v1.8h-1.8zM90.6 568.5h1.8v1.8h-1.8zM98.6 568.5h1.8v1.8h-1.8zM90.6 570.5h1.8v1.8h-1.8zM98.6 570.5h1.8v1.8h-1.8zM90.6 572.5h1.8v1.8h-1.8zM98.6 572.5h1.8v1.8h-1.8zM90.6 574.5h1.8v1.8h-1.8zM98.6 574.5h1.8v1.8h-1.8zM90.6 576.5h1.8v1.8h-1.8zM98.6 576.5h1.8v1.8h-1.8zM92.6 578.5h5.8v1.8h-5.8zM90.6 570.3h1.8v0.2h-1.8zM98.6 568.3h1.8v0.2h-1.8zM98.6 572.3h1.8v0.2h-1.8zM90.6 564.3h1.8v0.2h-1.8zM98.6 576.3h1.8v0.2h-1.8zM90.6 568.3h1.8v0.2h-1.8zM90.6 572.3h1.8v0.2h-1.8zM98.6 566.3h1.8v0.2h-1.8zM90.6 576.3h1.8v0.2h-1.8zM98.6 574.3h1.8v0.2h-1.8zM98.6 570.3h1.8v0.2h-1.8zM90.6 566.3h1.8v0.2h-1.8zM98.6 564.3h1.8v0.2h-1.8zM90.6 574.3h1.8v0.2h-1.8zM964.6 560.5h5.8v1.8h-5.8zM962.6 562.5h1.8v1.8h-1.8zM970.6 562.5h1.8v1.8h-1.8zM962.6 564.5h1.8v1.8h-1.8zM970.6 564.5h1.8v1.8h-1.8zM970.6 566.5h1.8v1.8h-1.8zM968.6 568.5h1.8v1.8h-1.8zM966.6 570.5h1.8v1.8h-1.8zM964.6 572.5h1.8v1.8h-1.8zM962.6 574.5h1.8v1.8h-1.8zM962.6 576.5h1.8v1.8h-1.8zM962.6 578.5h9.8v1.8h-9.8zM970.6 566.3h1.8v0.2h-1.8zM962.6 576.3h1.8v0.2h-1.8zM970.6 564.3h1.8v0.2h-1.8zM962.6 578.3h1.8v0.2h-1.8zM962.6 564.3h1.8v0.2h-1.8zM978.6 560.5h5.8v1.8h-5.8zM976.6 562.5h1.8v1.8h-1.8zM984.6 562.5h1.8v1.8h-1.8zM976.6 564.5h1.8v1.8h-1.8zM984.6 564.5h1.8v1.8h-1.8zM976.6 566.5h1.8v1.8h-1.8zM984.6 566.5h1.8v1.8h-1.8zM976.6 568.5h1.8v1.8h-1.8zM984.6 568.5h1.8v1.8h-1.8zM976.6 570.5h1.8v1.8h-1.8zM984.6 570.5h1.8v1.8h-1.8zM976.6 572.5h1.8v1.8h-1.8zM984.6 572.5h1.8v1.8h-1.8zM976.6 574.5h1.8v1.8h-1.8zM984.6 574.5h1.8v1.8h-1.8zM976.6 576.5h1.8v1.8h-1.8zM984.6 576.5h1.8v1.8h-1.8zM978.6 578.5h5.8v1.8h-5.8zM976.6 570.3h1.8v0.2h-1.8zM984.6 568.3h1.8v0.2h-1.8zM984.6 572.3h1.8v0.2h-1.8zM976.6 564.3h1.8v0.2h-1.8zM984.6 576.3h1.8v0.2h-1.8zM976.6 568.3h1.8v0.2h-1.8zM976.6 572.3h1.8v0.2h-1.8zM984.6 566.3h1.8v0.2h-1.8zM976.6 576.3h1.8v0.2h-1.8zM984.6 574.3h1.8v0.2h-1.8zM984.6 570.3h1.8v0.2h-1.8zM976.6 566.3h1.8v0.2h-1.8zM984.6 564.3h1.8v0.2h-1.8zM976.6 574.3h1.8v0.2h-1.8zM990.6 560.5h9.8v1.8h-9.8zM990.6 562.5h1.8v1.8h-1.8zM990.6 564.5h1.8v1.8h-1.8zM990.6 566.5h1.8v1.8h-1.8zM990.6 568.5h7.8v1.8h-7.8zM990.6 570.5h1.8v1.8h-1.8zM998.6 570.5h1.8v1.8h-1.8zM998.6 572.5h1.8v1.8h-1.8zM998.6 574.5h1.8v1.8h-1.8zM990.6 576.5h1.8v1.8h-1.8zM998.6 576.5h1.8v1.8h-1.8zM992.6 578.5h5.8v1.8h-5.8zM990.6 570.3h1.8v0.2h-1.8zM998.6 572.3h1.8v0.2h-1.8zM990.6 564.3h1.8v0.2h-1.8zM998.6 576.3h1.8v0.2h-1.8zM990.6 568.3h1.8v0.2h-1.8zM998.6 574.3h1.8v0.2h-1.8zM990.6 562.3h1.8v0.2h-1.8zM990.6 566.3h1.8v0.2h-1.8zM1004.6 560.5h9.8v1.8h-9.8zM1004.6 562.5h1.8v1.8h-1.8zM1004.6 564.5h1.8v1.8h-1.8zM1004.6 566.5h1.8v1.8h-1.8zM1004.6 568.5h7.8v1.8h-7.8zM1004.6 570.5h1.8v1.8h-1.8zM1012.6 570.5h1.8v1.8h-1.8zM1012.6 572.5h1.8v1.8h-1.8zM1012.6 574.5h1.8v1.8h-1.8zM1004.6 576.5h1.8v1.8h-1.8zM1012.6 576.5h1.8v1.8h-1.8zM1006.6 578.5h5.8v1.8h-5.8zM1004.6 570.3h1.8v0.2h-1.8zM1012.6 572.3h1.8v0.2h-1.8zM1004.6 564.3h1.8v0.2h-1.8zM1012.6 576.3h1.8v0.2h-1.8zM1004.6 568.3h1.8v0.2h-1.8zM1012.6 574.3h1.8v0.2h-1.8zM1004.6 562.3h1.8v0.2h-1.8zM1004.6 566.3h1.8v0.2h-1.8zM1026.6 560.5h1.8v1.8h-1.8zM1024.6 562.5h3.8v1.8h-3.8zM1022.6 564.5h1.8v1.8h-1.8zM1026.6 564.5h1.8v1.8h-1.8zM1022.6 566.5h1.8v1.8h-1.8zM1026.6 566.5h1.8v1.8h-1.8zM1020.6 568.5h1.8v1.8h-1.8zM1026.6 568.5h1.8v1.8h-1.8zM1018.6 570.5h1.8v1.8h-1.8zM1026.6 570.5h1.8v1.8h-1.8zM1018.6 572.5h9.8v1.8h-9.8zM1026.6 574.5h1.8v1.8h-1.8zM1026.6 576.5h1.8v1.8h-1.8zM1026.6 578.5h1.8v1.8h-1.8zM1026.6 568.3h1.8v0.2h-1.8zM1026.6 572.3h1.8v0.2h-1.8zM1022.6 566.3h1.8v0.2h-1.8zM1026.6 576.3h1.8v0.2h-1.8zM1018.6 572.3h1.8v0.2h-1.8zM1026.6 566.3h1.8v0.2h-1.8zM1026.6 562.3h1.8v0.2h-1.8zM1026.6 574.3h1.8v0.2h-1.8zM1026.6 570.3h1.8v0.2h-1.8zM1026.6 578.3h1.8v0.2h-1.8zM1026.6 564.3h1.8v0.2h-1.8zM1092.6 560.5h5.8v1.8h-5.8zM1090.6 562.5h1.8v1.8h-1.8zM1098.6 562.5h1.8v1.8h-1.8zM1090.6 564.5h1.8v1.8h-1.8zM1098.6 564.5h1.8v1.8h-1.8zM1090.6 566.5h1.8v1.8h-1.8zM1098.6 566.5h1.8v1.8h-1.8zM1092.6 568.5h5.8v1.8h-5.8zM1090.6 570.5h1.8v1.8h-1.8zM1098.6 570.5h1.8v1.8h-1.8zM1090.6 572.5h1.8v1.8h-1.8zM1098.6 572.5h1.8v1.8h-1.8zM1090.6 574.5h1.8v1.8h-1.8zM1098.6 574.5h1.8v1.8h-1.8zM1090.6 576.5h1.8v1.8h-1.8zM1098.6 576.5h1.8v1.8h-1.8zM1092.6 578.5h5.8v1.8h-5.8zM1098.6 572.3h1.8v0.2h-1.8zM1090.6 564.3h1.8v0.2h-1.8zM1098.6 576.3h1.8v0.2h-1.8zM1090.6 572.3h1.8v0.2h-1.8zM1098.6 566.3h1.8v0.2h-1.8zM1090.6 576.3h1.8v0.2h-1.8zM1098.6 574.3h1.8v0.2h-1.8zM1090.6 566.3h1.8v0.2h-1.8zM1098.6 564.3h1.8v0.2h-1.8zM1090.6 574.3h1.8v0.2h-1.8zM1106.6 560.5h5.8v1.8h-5.8zM1104.6 562.5h1.8v1.8h-1.8zM1112.6 562.5h1.8v1.8h-1.8zM1104.6 564.5h1.8v1.8h-1.8zM1112.6 564.5h1.8v1.8h-1.8zM1104.6 566.5h1.8v1.8h-1.8zM1112.6 566.5h1.8v1.8h-1.8zM1104.6 568.5h1.8v1.8h-1.8zM1112.6 568.5h1.8v1.8h-1.8zM1104.6 570.5h1.8v1.8h-1.8zM1112.6 570.5h1.8v1.8h-1.8zM1104.6 572.5h1.8v1.8h-1.8zM1112.6 572.5h1.8v1.8h-1.8zM1104.6 574.5h1.8v1.8h-1.8zM1112.6 574.5h1.8v1.8h-1.8zM1104.6 576.5h1.8v1.8h-1.8zM1112.6 576.5h1.8v1.8h-1.8zM1106.6 578.5h5.8v1.8h-5.8zM1104.6 570.3h1.8v0.2h-1.8zM1112.6 568.3h1.8v0.2h-1.8zM1112.6 572.3h1.8v0.2h-1.8zM1104.6 564.3h1.8v0.2h-1.8zM1112.6 576.3h1.8v0.2h-1.8zM1104.6 568.3h1.8v0.2h-1.8zM1104.6 572.3h1.8v0.2h-1.8zM1112.6 566.3h1.8v0.2h-1.8zM1104.6 576.3h1.8v0.2h-1.8zM1112.6 574.3h1.8v0.2h-1.8zM1112.6 570.3h1.8v0.2h-1.8zM1104.6 566.3h1.8v0.2h-1.8zM1112.6 564.3h1.8v0.2h-1.8zM1104.6 574.3h1.8v0.2h-1.8zM1120.6 560.5h5.8v1.8h-5.8zM1118.6 562.5h1.8v1.8h-1.8zM1126.6 562.5h1.8v1.8h-1.8zM1118.6 564.5h1.8v1.8h-1.8zM1126.6 564.5h1.8v1.8h-1.8zM1118.6 566.5h1.8v1.8h-1.8zM1126.6 566.5h1.8v1.8h-1.8zM1120.6 568.5h5.8v1.8h-5.8zM1118.6 570.5h1.8v1.8h-1.8zM1126.6 570.5h1.8v1.8h-1.8zM1118.6 572.5h1.8v1.8h-1.8zM1126.6 572.5h1.8v1.8h-1.8zM1118.6 574.5h1.8v1.8h-1.8zM1126.6 574.5h1.8v1.8h-1.8zM1118.6 576.5h1.8v1.8h-1.8zM1126.6 576.5h1.8v1.8h-1.8zM1120.6 578.5h5.8v1.8h-5.8zM1126.6 572.3h1.8v0.2h-1.8zM1118.6 564.3h1.8v0.2h-1.8zM1126.6 576.3h1.8v0.2h-1.8zM1118.6 572.3h1.8v0.2h-1.8zM1126.6 566.3h1.8v0.2h-1.8zM1118.6 576.3h1.8v0.2h-1.8zM1126.6 574.3h1.8v0.2h-1.8zM1118.6 566.3h1.8v0.2h-1.8zM1126.6 564.3h1.8v0.2h-1.8zM1118.6 574.3h1.8v0.2h-1.8zM1132.6 560.5h9.8v1.8h-9.8zM1132.6 562.5h1.8v1.8h-1.8zM1132.6 564.5h1.8v1.8h-1.8zM1132.6 566.5h1.8v1.8h-1.8zM1132.6 568.5h7.8v1.8h-7.8zM1132.6 570.5h1.8v1.8h-1.8zM1140.6 570.5h1.8v1.8h-1.8zM1140.6 572.5h1.8v1.8h-1.8zM1140.6 574.5h1.8v1.8h-1.8zM1132.6 576.5h1.8v1.8h-1.8zM1140.6 576.5h1.8v1.8h-1.8zM1134.6 578.5h5.8v1.8h-5.8zM1132.6 570.3h1.8v0.2h-1.8zM1140.6 572.3h1.8v0.2h-1.8zM1132.6 564.3h1.8v0.2h-1.8zM1140.6 576.3h1.8v0.2h-1.8zM1132.6 568.3h1.8v0.2h-1.8zM1140.6 574.3h1.8v0.2h-1.8zM1132.6 562.3h1.8v0.2h-1.8zM1132.6 566.3h1.8v0.2h-1.8zM1154.6 560.5h1.8v1.8h-1.8zM1152.6 562.5h3.8v1.8h-3.8zM1150.6 564.5h1.8v1.8h-1.8zM1154.6 564.5h1.8v1.8h-1.8zM1150.6 566.5h1.8v1.8h-1.8zM1154.6 566.5h1.8v1.8h-1.8zM1148.6 568.5h1.8v1.8h-1.8zM1154.6 568.5h1.8v1.8h-1.8zM1146.6 570.5h1.8v1.8h-1.8zM1154.6 570.5h1.8v1.8h-1.8zM1146.6 572.5h9.8v1.8h-9.8zM1154.6 574.5h1.8v1.8h-1.8zM1154.6 576.5h1.8v1.8h-1.8zM1154.6 578.5h1.8v1.8h-1.8zM1154.6 568.3h1.8v0.2h-1.8zM1154.6 572.3h1.8v0.2h-1.8zM1150.6 566.3h1.8v0.2h-1.8zM1154.6 576.3h1.8v0.2h-1.8zM1146.6 572.3h1.8v0.2h-1.8zM1154.6 566.3h1.8v0.2h-1.8zM1154.6 562.3h1.8v0.2h-1.8zM1154.6 574.3h1.8v0.2h-1.8zM1154.6 570.3h1.8v0.2h-1.8zM1154.6 578.3h1.8v0.2h-1.8zM1154.6 564.3h1.8v0.2h-1.8zM30.6 596.5h5.8v1.8h-5.8zM28.6 598.5h1.8v1.8h-1.8zM36.6 598.5h1.8v1.8h-1.8zM28.6 600.5h1.8v1.8h-1.8zM36.6 600.5h1.8v1.8h-1.8zM28.6 602.5h1.8v1.8h-1.8zM36.6 602.5h1.8v1.8h-1.8zM30.6 604.5h5.8v1.8h-5.8zM28.6 606.5h1.8v1.8h-1.8zM36.6 606.5h1.8v1.8h-1.8zM28.6 608.5h1.8v1.8h-1.8zM36.6 608.5h1.8v1.8h-1.8zM28.6 610.5h1.8v1.8h-1.8zM36.6 610.5h1.8v1.8h-1.8zM28.6 612.5h1.8v1.8h-1.8zM36.6 612.5h1.8v1.8h-1.8zM30.6 614.5h5.8v1.8h-5.8zM36.6 608.3h1.8v0.2h-1.8zM28.6 600.3h1.8v0.2h-1.8zM36.6 612.3h1.8v0.2h-1.8zM28.6 608.3h1.8v0.2h-1.8zM36.6 602.3h1.8v0.2h-1.8zM28.6 612.3h1.8v0.2h-1.8zM36.6 610.3h1.8v0.2h-1.8zM28.6 602.3h1.8v0.2h-1.8zM36.6 600.3h1.8v0.2h-1.8zM28.6 610.3h1.8v0.2h-1.8zM46.6 596.5h1.8v1.8h-1.8zM42.6 598.5h5.8v1.8h-5.8zM46.6 600.5h1.8v1.8h-1.8zM46.6 602.5h1.8v1.8h-1.8zM46.6 604.5h1.8v1.8h-1.8zM46.6 606.5h1.8v1.8h-1.8zM46.6 608.5h1.8v1.8h-1.8zM46.6 610.5h1.8v1.8h-1.8zM46.6 612.5h1.8v1.8h-1.8zM46.6 614.5h1.8v1.8h-1.8zM46.6 610.3h1.8v0.2h-1.8zM46.6 600.3h1.8v0.2h-1.8zM46.6 606.3h1.8v0.2h-1.8zM46.6 598.3h1.8v0.2h-1.8zM46.6 612.3h1.8v0.2h-1.8zM46.6 602.3h1.8v0.2h-1.8zM46.6 614.3h1.8v0.2h-1.8zM46.6 604.3h1.8v0.2h-1.8zM46.6 608.3h1.8v0.2h-1.8zM58.6 596.5h5.8v1.8h-5.8zM56.6 598.5h1.8v1.8h-1.8zM64.6 598.5h1.8v1.8h-1.8zM56.6 600.5h1.8v1.8h-1.8zM64.6 600.5h1.8v1.8h-1.8zM56.6 602.5h1.8v1.8h-1.8zM64.6 602.5h1.8v1.8h-1.8zM56.6 604.5h1.8v1.8h-1.8zM62.6 604.5h3.8v1.8h-3.8zM58.6 606.5h3.8v1.8h-3.8zM64.6 606.5h1.8v1.8h-1.8zM64.6 608.5h1.8v1.8h-1.8zM64.6 610.5h1.8v1.8h-1.8zM56.6 612.5h1.8v1.8h-1.8zM64.6 612.5h1.8v1.8h-1.8zM58.6 614.5h5.8v1.8h-5.8zM64.6 604.3h1.8v0.2h-1.8zM64.6 608.3h1.8v0.2h-1.8zM56.6 600.3h1.8v0.2h-1.8zM64.6 612.3h1.8v0.2h-1.8zM56.6 604.3h1.8v0.2h-1.8zM64.6 602.3h1.8v0.2h-1.8zM64.6 610.3h1.8v0.2h-1.8zM64.6 606.3h1.8v0.2h-1.8zM56.6 602.3h1.8v0.2h-1.8zM64.6 600.3h1.8v0.2h-1.8zM72.6 596.5h5.8v1.8h-5.8zM70.6 598.5h1.8v1.8h-1.8zM78.6 598.5h1.8v1.8h-1.8zM70.6 600.5h1.8v1.8h-1.8zM78.6 600.5h1.8v1.8h-1.8zM78.6 602.5h1.8v1.8h-1.8zM76.6 604.5h1.8v1.8h-1.8zM74.6 606.5h1.8v1.8h-1.8zM72.6 608.5h1.8v1.8h-1.8zM70.6 610.5h1.8v1.8h-1.8zM70.6 612.5h1.8v1.8h-1.8zM70.6 614.5h9.8v1.8h-9.8zM78.6 602.3h1.8v0.2h-1.8zM70.6 612.3h1.8v0.2h-1.8zM78.6 600.3h1.8v0.2h-1.8zM70.6 614.3h1.8v0.2h-1.8zM70.6 600.3h1.8v0.2h-1.8zM84.6 614.5h1.8v1.8h-1.8zM92.6 596.5h5.8v1.8h-5.8zM90.6 598.5h1.8v1.8h-1.8zM98.6 598.5h1.8v1.8h-1.8zM90.6 600.5h1.8v1.8h-1.8zM98.6 600.5h1.8v1.8h-1.8zM90.6 602.5h1.8v1.8h-1.8zM98.6 602.5h1.8v1.8h-1.8zM90.6 604.5h1.8v1.8h-1.8zM98.6 604.5h1.8v1.8h-1.8zM90.6 606.5h1.8v1.8h-1.8zM98.6 606.5h1.8v1.8h-1.8zM90.6 608.5h1.8v1.8h-1.8zM98.6 608.5h1.8v1.8h-1.8zM90.6 610.5h1.8v1.8h-1.8zM98.6 610.5h1.8v1.8h-1.8zM90.6 612.5h1.8v1.8h-1.8zM98.6 612.5h1.8v1.8h-1.8zM92.6 614.5h5.8v1.8h-5.8zM90.6 606.3h1.8v0.2h-1.8zM98.6 604.3h1.8v0.2h-1.8zM98.6 608.3h1.8v0.2h-1.8zM90.6 600.3h1.8v0.2h-1.8zM98.6 612.3h1.8v0.2h-1.8zM90.6 604.3h1.8v0.2h-1.8zM90.6 608.3h1.8v0.2h-1.8zM98.6 602.3h1.8v0.2h-1.8zM90.6 612.3h1.8v0.2h-1.8zM98.6 610.3h1.8v0.2h-1.8zM98.6 606.3h1.8v0.2h-1.8zM90.6 602.3h1.8v0.2h-1.8zM98.6 600.3h1.8v0.2h-1.8zM90.6 610.3h1.8v0.2h-1.8zM964.6 596.5h5.8v1.8h-5.8zM962.6 598.5h1.8v1.8h-1.8zM970.6 598.5h1.8v1.8h-1.8zM962.6 600.5h1.8v1.8h-1.8zM970.6 600.5h1.8v1.8h-1.8zM970.6 602.5h1.8v1.8h-1.8zM968.6 604.5h1.8v1.8h-1.8zM966.6 606.5h1.8v1.8h-1.8zM964.6 608.5h1.8v1.8h-1.8zM962.6 610.5h1.8v1.8h-1.8zM962.6 612.5h1.8v1.8h-1.8zM962.6 614.5h9.8v1.8h-9.8zM970.6 602.3h1.8v0.2h-1.8zM962.6 612.3h1.8v0.2h-1.8zM970.6 600.3h1.8v0.2h-1.8zM962.6 614.3h1.8v0.2h-1.8zM962.6 600.3h1.8v0.2h-1.8zM978.6 596.5h5.8v1.8h-5.8zM976.6 598.5h1.8v1.8h-1.8zM984.6 598.5h1.8v1.8h-1.8zM976.6 600.5h1.8v1.8h-1.8zM984.6 600.5h1.8v1.8h-1.8zM976.6 602.5h1.8v1.8h-1.8zM984.6 602.5h1.8v1.8h-1.8zM976.6 604.5h1.8v1.8h-1.8zM984.6 604.5h1.8v1.8h-1.8zM976.6 606.5h1.8v1.8h-1.8zM984.6 606.5h1.8v1.8h-1.8zM976.6 608.5h1.8v1.8h-1.8zM984.6 608.5h1.8v1.8h-1.8zM976.6 610.5h1.8v1.8h-1.8zM984.6 610.5h1.8v1.8h-1.8zM976.6 612.5h1.8v1.8h-1.8zM984.6 612.5h1.8v1.8h-1.8zM978.6 614.5h5.8v1.8h-5.8zM976.6 606.3h1.8v0.2h-1.8zM984.6 604.3h1.8v0.2h-1.8zM984.6 608.3h1.8v0.2h-1.8zM976.6 600.3h1.8v0.2h-1.8zM984.6 612.3h1.8v0.2h-1.8zM976.6 604.3h1.8v0.2h-1.8zM976.6 608.3h1.8v0.2h-1.8zM984.6 602.3h1.8v0.2h-1.8zM976.6 612.3h1.8v0.2h-1.8zM984.6 610.3h1.8v0.2h-1.8zM984.6 606.3h1.8v0.2h-1.8zM976.6 602.3h1.8v0.2h-1.8zM984.6 600.3h1.8v0.2h-1.8zM976.6 610.3h1.8v0.2h-1.8zM990.6 596.5h9.8v1.8h-9.8zM990.6 598.5h1.8v1.8h-1.8zM990.6 600.5h1.8v1.8h-1.8zM990.6 602.5h1.8v1.8h-1.8zM990.6 604.5h7.8v1.8h-7.8zM990.6 606.5h1.8v1.8h-1.8zM998.6 606.5h1.8v1.8h-1.8zM998.6 608.5h1.8v1.8h-1.8zM998.6 610.5h1.8v1.8h-1.8zM990.6 612.5h1.8v1.8h-1.8zM998.6 612.5h1.8v1.8h-1.8zM992.6 614.5h5.8v1.8h-5.8zM990.6 606.3h1.8v0.2h-1.8zM998.6 608.3h1.8v0.2h-1.8zM990.6 600.3h1.8v0.2h-1.8zM998.6 612.3h1.8v0.2h-1.8zM990.6 604.3h1.8v0.2h-1.8zM998.6 610.3h1.8v0.2h-1.8zM990.6 598.3h1.8v0.2h-1.8zM990.6 602.3h1.8v0.2h-1.8zM1006.6 596.5h5.8v1.8h-5.8zM1004.6 598.5h1.8v1.8h-1.8zM1012.6 598.5h1.8v1.8h-1.8zM1004.6 600.5h1.8v1.8h-1.8zM1004.6 602.5h1.8v1.8h-1.8zM1004.6 604.5h1.8v1.8h-1.8zM1008.6 604.5h3.8v1.8h-3.8zM1004.6 606.5h3.8v1.8h-3.8zM1012.6 606.5h1.8v1.8h-1.8zM1004.6 608.5h1.8v1.8h-1.8zM1012.6 608.5h1.8v1.8h-1.8zM1004.6 610.5h1.8v1.8h-1.8zM1012.6 610.5h1.8v1.8h-1.8zM1004.6 612.5h1.8v1.8h-1.8zM1012.6 612.5h1.8v1.8h-1.8zM1006.6 614.5h5.8v1.8h-5.8zM1004.6 606.3h1.8v0.2h-1.8zM1012.6 608.3h1.8v0.2h-1.8zM1004.6 600.3h1.8v0.2h-1.8zM1012.6 612.3h1.8v0.2h-1.8zM1004.6 604.3h1.8v0.2h-1.8zM1004.6 608.3h1.8v0.2h-1.8zM1004.6 612.3h1.8v0.2h-1.8zM1012.6 610.3h1.8v0.2h-1.8zM1004.6 602.3h1.8v0.2h-1.8zM1004.6 610.3h1.8v0.2h-1.8zM1020.6 596.5h5.8v1.8h-5.8zM1018.6 598.5h1.8v1.8h-1.8zM1026.6 598.5h1.8v1.8h-1.8zM1018.6 600.5h1.8v1.8h-1.8zM1026.6 600.5h1.8v1.8h-1.8zM1018.6 602.5h1.8v1.8h-1.8zM1026.6 602.5h1.8v1.8h-1.8zM1018.6 604.5h1.8v1.8h-1.8zM1024.6 604.5h3.8v1.8h-3.8zM1020.6 606.5h3.8v1.8h-3.8zM1026.6 606.5h1.8v1.8h-1.8zM1026.6 608.5h1.8v1.8h-1.8zM1026.6 610.5h1.8v1.8h-1.8zM1018.6 612.5h1.8v1.8h-1.8zM1026.6 612.5h1.8v1.8h-1.8zM1020.6 614.5h5.8v1.8h-5.8zM1026.6 604.3h1.8v0.2h-1.8zM1026.6 608.3h1.8v0.2h-1.8zM1018.6 600.3h1.8v0.2h-1.8zM1026.6 612.3h1.8v0.2h-1.8zM1018.6 604.3h1.8v0.2h-1.8zM1026.6 602.3h1.8v0.2h-1.8zM1026.6 610.3h1.8v0.2h-1.8zM1026.6 606.3h1.8v0.2h-1.8zM1018.6 602.3h1.8v0.2h-1.8zM1026.6 600.3h1.8v0.2h-1.8zM1092.6 596.5h5.8v1.8h-5.8zM1090.6 598.5h1.8v1.8h-1.8zM1098.6 598.5h1.8v1.8h-1.8zM1090.6 600.5h1.8v1.8h-1.8zM1098.6 600.5h1.8v1.8h-1.8zM1090.6 602.5h1.8v1.8h-1.8zM1098.6 602.5h1.8v1.8h-1.8zM1092.6 604.5h5.8v1.8h-5.8zM1090.6 606.5h1.8v1.8h-1.8zM1098.6 606.5h1.8v1.8h-1.8zM1090.6 608.5h1.8v1.8h-1.8zM1098.6 608.5h1.8v1.8h-1.8zM1090.6 610.5h1.8v1.8h-1.8zM1098.6 610.5h1.8v1.8h-1.8zM1090.6 612.5h1.8v1.8h-1.8zM1098.6 612.5h1.8v1.8h-1.8zM1092.6 614.5h5.8v1.8h-5.8zM1098.6 608.3h1.8v0.2h-1.8zM1090.6 600.3h1.8v0.2h-1.8zM1098.6 612.3h1.8v0.2h-1.8zM1090.6 608.3h1.8v0.2h-1.8zM1098.6 602.3h1.8v0.2h-1.8zM1090.6 612.3h1.8v0.2h-1.8zM1098.6 610.3h1.8v0.2h-1.8zM1090.6 602.3h1.8v0.2h-1.8zM1098.6 600.3h1.8v0.2h-1.8zM1090.6 610.3h1.8v0.2h-1.8zM1106.6 596.5h5.8v1.8h-5.8zM1104.6 598.5h1.8v1.8h-1.8zM1112.6 598.5h1.8v1.8h-1.8zM1104.6 600.5h1.8v1.8h-1.8zM1112.6 600.5h1.8v1.8h-1.8zM1104.6 602.5h1.8v1.8h-1.8zM1112.6 602.5h1.8v1.8h-1.8zM1104.6 604.5h1.8v1.8h-1.8zM1112.6 604.5h1.8v1.8h-1.8zM1104.6 606.5h1.8v1.8h-1.8zM1112.6 606.5h1.8v1.8h-1.8zM1104.6 608.5h1.8v1.8h-1.8zM1112.6 608.5h1.8v1.8h-1.8zM1104.6 610.5h1.8v1.8h-1.8zM1112.6 610.5h1.8v1.8h-1.8zM1104.6 612.5h1.8v1.8h-1.8zM1112.6 612.5h1.8v1.8h-1.8zM1106.6 614.5h5.8v1.8h-5.8zM1104.6 606.3h1.8v0.2h-1.8zM1112.6 604.3h1.8v0.2h-1.8zM1112.6 608.3h1.8v0.2h-1.8zM1104.6 600.3h1.8v0.2h-1.8zM1112.6 612.3h1.8v0.2h-1.8zM1104.6 604.3h1.8v0.2h-1.8zM1104.6 608.3h1.8v0.2h-1.8zM1112.6 602.3h1.8v0.2h-1.8zM1104.6 612.3h1.8v0.2h-1.8zM1112.6 610.3h1.8v0.2h-1.8zM1112.6 606.3h1.8v0.2h-1.8zM1104.6 602.3h1.8v0.2h-1.8zM1112.6 600.3h1.8v0.2h-1.8zM1104.6 610.3h1.8v0.2h-1.8zM1120.6 596.5h5.8v1.8h-5.8zM1118.6 598.5h1.8v1.8h-1.8zM1126.6 598.5h1.8v1.8h-1.8zM1118.6 600.5h1.8v1.8h-1.8zM1126.6 600.5h1.8v1.8h-1.8zM1118.6 602.5h1.8v1.8h-1.8zM1126.6 602.5h1.8v1.8h-1.8zM1120.6 604.5h5.8v1.8h-5.8zM1118.6 606.5h1.8v1.8h-1.8zM1126.6 606.5h1.8v1.8h-1.8zM1118.6 608.5h1.8v1.8h-1.8zM1126.6 608.5h1.8v1.8h-1.8zM1118.6 610.5h1.8v1.8h-1.8zM1126.6 610.5h1.8v1.8h-1.8zM1118.6 612.5h1.8v1.8h-1.8zM1126.6 612.5h1.8v1.8h-1.8zM1120.6 614.5h5.8v1.8h-5.8zM1126.6 608.3h1.8v0.2h-1.8zM1118.6 600.3h1.8v0.2h-1.8zM1126.6 612.3h1.8v0.2h-1.8zM1118.6 608.3h1.8v0.2h-1.8zM1126.6 602.3h1.8v0.2h-1.8zM1118.6 612.3h1.8v0.2h-1.8zM1126.6 610.3h1.8v0.2h-1.8zM1118.6 602.3h1.8v0.2h-1.8zM1126.6 600.3h1.8v0.2h-1.8zM1118.6 610.3h1.8v0.2h-1.8zM1132.6 596.5h9.8v1.8h-9.8zM1132.6 598.5h1.8v1.8h-1.8zM1132.6 600.5h1.8v1.8h-1.8zM1132.6 602.5h1.8v1.8h-1.8zM1132.6 604.5h7.8v1.8h-7.8zM1132.6 606.5h1.8v1.8h-1.8zM1140.6 606.5h1.8v1.8h-1.8zM1140.6 608.5h1.8v1.8h-1.8zM1140.6 610.5h1.8v1.8h-1.8zM1132.6 612.5h1.8v1.8h-1.8zM1140.6 612.5h1.8v1.8h-1.8zM1134.6 614.5h5.8v1.8h-5.8zM1132.6 606.3h1.8v0.2h-1.8zM1140.6 608.3h1.8v0.2h-1.8zM1132.6 600.3h1.8v0.2h-1.8zM1140.6 612.3h1.8v0.2h-1.8zM1132.6 604.3h1.8v0.2h-1.8zM1140.6 610.3h1.8v0.2h-1.8zM1132.6 598.3h1.8v0.2h-1.8zM1132.6 602.3h1.8v0.2h-1.8zM1154.6 596.5h1.8v1.8h-1.8zM1152.6 598.5h3.8v1.8h-3.8zM1150.6 600.5h1.8v1.8h-1.8zM1154.6 600.5h1.8v1.8h-1.8zM1150.6 602.5h1.8v1.8h-1.8zM1154.6 602.5h1.8v1.8h-1.8zM1148.6 604.5h1.8v1.8h-1.8zM1154.6 604.5h1.8v1.8h-1.8zM1146.6 606.5h1.8v1.8h-1.8zM1154.6 606.5h1.8v1.8h-1.8zM1146.6 608.5h9.8v1.8h-9.8zM1154.6 610.5h1.8v1.8h-1.8zM1154.6 612.5h1.8v1.8h-1.8zM1154.6 614.5h1.8v1.8h-1.8zM1154.6 604.3h1.8v0.2h-1.8zM1154.6 608.3h1.8v0.2h-1.8zM1150.6 602.3h1.8v0.2h-1.8zM1154.6 612.3h1.8v0.2h-1.8zM1146.6 608.3h1.8v0.2h-1.8zM1154.6 602.3h1.8v0.2h-1.8zM1154.6 598.3h1.8v0.2h-1.8zM1154.6 610.3h1.8v0.2h-1.8zM1154.6 606.3h1.8v0.2h-1.8zM1154.6 614.3h1.8v0.2h-1.8zM1154.6 600.3h1.8v0.2h-1.8zM110.6 652.5h5.8v1.8h-5.8zM108.6 654.5h1.8v1.8h-1.8zM116.6 654.5h1.8v1.8h-1.8zM108.6 656.5h1.8v1.8h-1.8zM116.6 656.5h1.8v1.8h-1.8zM108.6 658.5h1.8v1.8h-1.8zM116.6 658.5h1.8v1.8h-1.8zM108.6 660.5h1.8v1.8h-1.8zM116.6 660.5h1.8v1.8h-1.8zM108.6 662.5h1.8v1.8h-1.8zM116.6 662.5h1.8v1.8h-1.8zM108.6 664.5h1.8v1.8h-1.8zM116.6 664.5h1.8v1.8h-1.8zM108.6 666.5h1.8v1.8h-1.8zM116.6 666.5h1.8v1.8h-1.8zM108.6 668.5h1.8v1.8h-1.8zM116.6 668.5h1.8v1.8h-1.8zM110.6 670.5h5.8v1.8h-5.8zM108.6 662.3h1.8v0.2h-1.8zM116.6 660.3h1.8v0.2h-1.8zM116.6 664.3h1.8v0.2h-1.8zM108.6 656.3h1.8v0.2h-1.8zM116.6 668.3h1.8v0.2h-1.8zM108.6 660.3h1.8v0.2h-1.8zM108.6 664.3h1.8v0.2h-1.8zM116.6 658.3h1.8v0.2h-1.8zM108.6 668.3h1.8v0.2h-1.8zM116.6 666.3h1.8v0.2h-1.8zM116.6 662.3h1.8v0.2h-1.8zM108.6 658.3h1.8v0.2h-1.8zM116.6 656.3h1.8v0.2h-1.8zM108.6 666.3h1.8v0.2h-1.8zM186.1 652.5h1.8v1.8h-1.8zM182.1 654.5h5.8v1.8h-5.8zM186.1 656.5h1.8v1.8h-1.8zM186.1 658.5h1.8v1.8h-1.8zM186.1 660.5h1.8v1.8h-1.8zM186.1 662.5h1.8v1.8h-1.8zM186.1 664.5h1.8v1.8h-1.8zM186.1 666.5h1.8v1.8h-1.8zM186.1 668.5h1.8v1.8h-1.8zM186.1 670.5h1.8v1.8h-1.8zM186.1 666.3h1.8v0.2h-1.8zM186.1 656.3h1.8v0.2h-1.8zM186.1 662.3h1.8v0.2h-1.8zM186.1 654.3h1.8v0.2h-1.8zM186.1 668.3h1.8v0.2h-1.8zM186.1 658.3h1.8v0.2h-1.8zM186.1 670.3h1.8v0.2h-1.8zM186.1 660.3h1.8v0.2h-1.8zM186.1 664.3h1.8v0.2h-1.8zM198.1 652.5h5.8v1.8h-5.8zM196.1 654.5h1.8v1.8h-1.8zM204.1 654.5h1.8v1.8h-1.8zM196.1 656.5h1.8v1.8h-1.8zM204.1 656.5h1.8v1.8h-1.8zM196.1 658.5h1.8v1.8h-1.8zM204.1 658.5h1.8v1.8h-1.8zM196.1 660.5h1.8v1.8h-1.8zM204.1 660.5h1.8v1.8h-1.8zM196.1 662.5h1.8v1.8h-1.8zM204.1 662.5h1.8v1.8h-1.8zM196.1 664.5h1.8v1.8h-1.8zM204.1 664.5h1.8v1.8h-1.8zM196.1 666.5h1.8v1.8h-1.8zM204.1 666.5h1.8v1.8h-1.8zM196.1 668.5h1.8v1.8h-1.8zM204.1 668.5h1.8v1.8h-1.8zM198.1 670.5h5.8v1.8h-5.8zM196.1 662.3h1.8v0.2h-1.8zM204.1 660.3h1.8v0.2h-1.8zM204.1 664.3h1.8v0.2h-1.8zM196.1 656.3h1.8v0.2h-1.8zM204.1 668.3h1.8v0.2h-1.8zM196.1 660.3h1.8v0.2h-1.8zM196.1 664.3h1.8v0.2h-1.8zM204.1 658.3h1.8v0.2h-1.8zM196.1 668.3h1.8v0.2h-1.8zM204.1 666.3h1.8v0.2h-1.8zM204.1 662.3h1.8v0.2h-1.8zM196.1 658.3h1.8v0.2h-1.8zM204.1 656.3h1.8v0.2h-1.8zM196.1 666.3h1.8v0.2h-1.8zM264.1 652.5h5.8v1.8h-5.8zM262.1 654.5h1.8v1.8h-1.8zM270.1 654.5h1.8v1.8h-1.8zM262.1 656.5h1.8v1.8h-1.8zM270.1 656.5h1.8v1.8h-1.8zM270.1 658.5h1.8v1.8h-1.8zM268.1 660.5h1.8v1.8h-1.8zM266.1 662.5h1.8v1.8h-1.8zM264.1 664.5h1.8v1.8h-1.8zM262.1 666.5h1.8v1.8h-1.8zM262.1 668.5h1.8v1.8h-1.8zM262.1 670.5h9.8v1.8h-9.8zM270.1 658.3h1.8v0.2h-1.8zM262.1 668.3h1.8v0.2h-1.8zM270.1 656.3h1.8v0.2h-1.8zM262.1 670.3h1.8v0.2h-1.8zM262.1 656.3h1.8v0.2h-1.8zM278.1 652.5h5.8v1.8h-5.8zM276.1 654.5h1.8v1.8h-1.8zM284.1 654.5h1.8v1.8h-1.8zM276.1 656.5h1.8v1.8h-1.8zM284.1 656.5h1.8v1.8h-1.8zM276.1 658.5h1.8v1.8h-1.8zM284.1 658.5h1.8v1.8h-1.8zM276.1 660.5h1.8v1.8h-1.8zM284.1 660.5h1.8v1.8h-1.8zM276.1 662.5h1.8v1.8h-1.8zM284.1 662.5h1.8v1.8h-1.8zM276.1 664.5h1.8v1.8h-1.8zM284.1 664.5h1.8v1.8h-1.8zM276.1 666.5h1.8v1.8h-1.8zM284.1 666.5h1.8v1.8h-1.8zM276.1 668.5h1.8v1.8h-1.8zM284.1 668.5h1.8v1.8h-1.8zM278.1 670.5h5.8v1.8h-5.8zM276.1 662.3h1.8v0.2h-1.8zM284.1 660.3h1.8v0.2h-1.8zM284.1 664.3h1.8v0.2h-1.8zM276.1 656.3h1.8v0.2h-1.8zM284.1 668.3h1.8v0.2h-1.8zM276.1 660.3h1.8v0.2h-1.8zM276.1 664.3h1.8v0.2h-1.8zM284.1 658.3h1.8v0.2h-1.8zM276.1 668.3h1.8v0.2h-1.8zM284.1 666.3h1.8v0.2h-1.8zM284.1 662.3h1.8v0.2h-1.8zM276.1 658.3h1.8v0.2h-1.8zM284.1 656.3h1.8v0.2h-1.8zM276.1 666.3h1.8v0.2h-1.8zM344.1 652.5h5.8v1.8h-5.8zM342.1 654.5h1.8v1.8h-1.8zM350.1 654.5h1.8v1.8h-1.8zM350.1 656.5h1.8v1.8h-1.8zM350.1 658.5h1.8v1.8h-1.8zM346.1 660.5h3.8v1.8h-3.8zM350.1 662.5h1.8v1.8h-1.8zM350.1 664.5h1.8v1.8h-1.8zM350.1 666.5h1.8v1.8h-1.8zM342.1 668.5h1.8v1.8h-1.8zM350.1 668.5h1.8v1.8h-1.8zM344.1 670.5h5.8v1.8h-5.8zM350.1 668.3h1.8v0.2h-1.8zM350.1 658.3h1.8v0.2h-1.8zM350.1 664.3h1.8v0.2h-1.8zM350.1 666.3h1.8v0.2h-1.8zM350.1 656.3h1.8v0.2h-1.8zM358.1 652.5h5.8v1.8h-5.8zM356.1 654.5h1.8v1.8h-1.8zM364.1 654.5h1.8v1.8h-1.8zM356.1 656.5h1.8v1.8h-1.8zM364.1 656.5h1.8v1.8h-1.8zM356.1 658.5h1.8v1.8h-1.8zM364.1 658.5h1.8v1.8h-1.8zM356.1 660.5h1.8v1.8h-1.8zM364.1 660.5h1.8v1.8h-1.8zM356.1 662.5h1.8v1.8h-1.8zM364.1 662.5h1.8v1.8h-1.8zM356.1 664.5h1.8v1.8h-1.8zM364.1 664.5h1.8v1.8h-1.8zM356.1 666.5h1.8v1.8h-1.8zM364.1 666.5h1.8v1.8h-1.8zM356.1 668.5h1.8v1.8h-1.8zM364.1 668.5h1.8v1.8h-1.8zM358.1 670.5h5.8v1.8h-5.8zM356.1 662.3h1.8v0.2h-1.8zM364.1 660.3h1.8v0.2h-1.8zM364.1 664.3h1.8v0.2h-1.8zM356.1 656.3h1.8v0.2h-1.8zM364.1 668.3h1.8v0.2h-1.8zM356.1 660.3h1.8v0.2h-1.8zM356.1 664.3h1.8v0.2h-1.8zM364.1 658.3h1.8v0.2h-1.8zM356.1 668.3h1.8v0.2h-1.8zM364.1 666.3h1.8v0.2h-1.8zM364.1 662.3h1.8v0.2h-1.8zM356.1 658.3h1.8v0.2h-1.8zM364.1 656.3h1.8v0.2h-1.8zM356.1 666.3h1.8v0.2h-1.8zM430.1 652.5h1.8v1.8h-1.8zM428.1 654.5h3.8v1.8h-3.8zM426.1 656.5h1.8v1.8h-1.8zM430.1 656.5h1.8v1.8h-1.8zM426.1 658.5h1.8v1.8h-1.8zM430.1 658.5h1.8v1.8h-1.8zM424.1 660.5h1.8v1.8h-1.8zM430.1 660.5h1.8v1.8h-1.8zM422.1 662.5h1.8v1.8h-1.8zM430.1 662.5h1.8v1.8h-1.8zM422.1 664.5h9.8v1.8h-9.8zM430.1 666.5h1.8v1.8h-1.8zM430.1 668.5h1.8v1.8h-1.8zM430.1 670.5h1.8v1.8h-1.8zM430.1 660.3h1.8v0.2h-1.8zM430.1 664.3h1.8v0.2h-1.8zM426.1 658.3h1.8v0.2h-1.8zM430.1 668.3h1.8v0.2h-1.8zM422.1 664.3h1.8v0.2h-1.8zM430.1 658.3h1.8v0.2h-1.8zM430.1 654.3h1.8v0.2h-1.8zM430.1 666.3h1.8v0.2h-1.8zM430.1 662.3h1.8v0.2h-1.8zM430.1 670.3h1.8v0.2h-1.8zM430.1 656.3h1.8v0.2h-1.8zM438.1 652.5h5.8v1.8h-5.8zM436.1 654.5h1.8v1.8h-1.8zM444.1 654.5h1.8v1.8h-1.8zM436.1 656.5h1.8v1.8h-1.8zM444.1 656.5h1.8v1.8h-1.8zM436.1 658.5h1.8v1.8h-1.8zM444.1 658.5h1.8v1.8h-1.8zM436.1 660.5h1.8v1.8h-1.8zM444.1 660.5h1.8v1.8h-1.8zM436.1 662.5h1.8v1.8h-1.8zM444.1 662.5h1.8v1.8h-1.8zM436.1 664.5h1.8v1.8h-1.8zM444.1 664.5h1.8v1.8h-1.8zM436.1 666.5h1.8v1.8h-1.8zM444.1 666.5h1.8v1.8h-1.8zM436.1 668.5h1.8v1.8h-1.8zM444.1 668.5h1.8v1.8h-1.8zM438.1 670.5h5.8v1.8h-5.8zM436.1 662.3h1.8v0.2h-1.8zM444.1 660.3h1.8v0.2h-1.8zM444.1 664.3h1.8v0.2h-1.8zM436.1 656.3h1.8v0.2h-1.8zM444.1 668.3h1.8v0.2h-1.8zM436.1 660.3h1.8v0.2h-1.8zM436.1 664.3h1.8v0.2h-1.8zM444.1 658.3h1.8v0.2h-1.8zM436.1 668.3h1.8v0.2h-1.8zM444.1 666.3h1.8v0.2h-1.8zM444.1 662.3h1.8v0.2h-1.8zM436.1 658.3h1.8v0.2h-1.8zM444.1 656.3h1.8v0.2h-1.8zM436.1 666.3h1.8v0.2h-1.8zM502.1 652.5h9.8v1.8h-9.8zM502.1 654.5h1.8v1.8h-1.8zM502.1 656.5h1.8v1.8h-1.8zM502.1 658.5h1.8v1.8h-1.8zM502.1 660.5h7.8v1.8h-7.8zM502.1 662.5h1.8v1.8h-1.8zM510.1 662.5h1.8v1.8h-1.8zM510.1 664.5h1.8v1.8h-1.8zM510.1 666.5h1.8v1.8h-1.8zM502.1 668.5h1.8v1.8h-1.8zM510.1 668.5h1.8v1.8h-1.8zM504.1 670.5h5.8v1.8h-5.8zM502.1 662.3h1.8v0.2h-1.8zM510.1 664.3h1.8v0.2h-1.8zM502.1 656.3h1.8v0.2h-1.8zM510.1 668.3h1.8v0.2h-1.8zM502.1 660.3h1.8v0.2h-1.8zM510.1 666.3h1.8v0.2h-1.8zM502.1 654.3h1.8v0.2h-1.8zM502.1 658.3h1.8v0.2h-1.8zM518.1 652.5h5.8v1.8h-5.8zM516.1 654.5h1.8v1.8h-1.8zM524.1 654.5h1.8v1.8h-1.8zM516.1 656.5h1.8v1.8h-1.8zM524.1 656.5h1.8v1.8h-1.8zM516.1 658.5h1.8v1.8h-1.8zM524.1 658.5h1.8v1.8h-1.8zM516.1 660.5h1.8v1.8h-1.8zM524.1 660.5h1.8v1.8h-1.8zM516.1 662.5h1.8v1.8h-1.8zM524.1 662.5h1.8v1.8h-1.8zM516.1 664.5h1.8v1.8h-1.8zM524.1 664.5h1.8v1.8h-1.8zM516.1 666.5h1.8v1.8h-1.8zM524.1 666.5h1.8v1.8h-1.8zM516.1 668.5h1.8v1.8h-1.8zM524.1 668.5h1.8v1.8h-1.8zM518.1 670.5h5.8v1.8h-5.8zM516.1 662.3h1.8v0.2h-1.8zM524.1 660.3h1.8v0.2h-1.8zM524.1 664.3h1.8v0.2h-1.8zM516.1 656.3h1.8v0.2h-1.8zM524.1 668.3h1.8v0.2h-1.8zM516.1 660.3h1.8v0.2h-1.8zM516.1 664.3h1.8v0.2h-1.8zM524.1 658.3h1.8v0.2h-1.8zM516.1 668.3h1.8v0.2h-1.8zM524.1 666.3h1.8v0.2h-1.8zM524.1 662.3h1.8v0.2h-1.8zM516.1 658.3h1.8v0.2h-1.8zM524.1 656.3h1.8v0.2h-1.8zM516.1 666.3h1.8v0.2h-1.8zM584.1 652.5h5.8v1.8h-5.8zM582.1 654.5h1.8v1.8h-1.8zM590.1 654.5h1.8v1.8h-1.8zM582.1 656.5h1.8v1.8h-1.8zM582.1 658.5h1.8v1.8h-1.8zM582.1 660.5h1.8v1.8h-1.8zM586.1 660.5h3.8v1.8h-3.8zM582.1 662.5h3.8v1.8h-3.8zM590.1 662.5h1.8v1.8h-1.8zM582.1 664.5h1.8v1.8h-1.8zM590.1 664.5h1.8v1.8h-1.8zM582.1 666.5h1.8v1.8h-1.8zM590.1 666.5h1.8v1.8h-1.8zM582.1 668.5h1.8v1.8h-1.8zM590.1 668.5h1.8v1.8h-1.8zM584.1 670.5h5.8v1.8h-5.8zM582.1 662.3h1.8v0.2h-1.8zM590.1 664.3h1.8v0.2h-1.8zM582.1 656.3h1.8v0.2h-1.8zM590.1 668.3h1.8v0.2h-1.8zM582.1 660.3h1.8v0.2h-1.8zM582.1 664.3h1.8v0.2h-1.8zM582.1 668.3h1.8v0.2h-1.8zM590.1 666.3h1.8v0.2h-1.8zM582.1 658.3h1.8v0.2h-1.8zM582.1 666.3h1.8v0.2h-1.8zM598.1 652.5h5.8v1.8h-5.8zM596.1 654.5h1.8v1.8h-1.8zM604.1 654.5h1.8v1.8h-1.8zM596.1 656.5h1.8v1.8h-1.8zM604.1 656.5h1.8v1.8h-1.8zM596.1 658.5h1.8v1.8h-1.8zM604.1 658.5h1.8v1.8h-1.8zM596.1 660.5h1.8v1.8h-1.8zM604.1 660.5h1.8v1.8h-1.8zM596.1 662.5h1.8v1.8h-1.8zM604.1 662.5h1.8v1.8h-1.8zM596.1 664.5h1.8v1.8h-1.8zM604.1 664.5h1.8v1.8h-1.8zM596.1 666.5h1.8v1.8h-1.8zM604.1 666.5h1.8v1.8h-1.8zM596.1 668.5h1.8v1.8h-1.8zM604.1 668.5h1.8v1.8h-1.8zM598.1 670.5h5.8v1.8h-5.8zM596.1 662.3h1.8v0.2h-1.8zM604.1 660.3h1.8v0.2h-1.8zM604.1 664.3h1.8v0.2h-1.8zM596.1 656.3h1.8v0.2h-1.8zM604.1 668.3h1.8v0.2h-1.8zM596.1 660.3h1.8v0.2h-1.8zM596.1 664.3h1.8v0.2h-1.8zM604.1 658.3h1.8v0.2h-1.8zM596.1 668.3h1.8v0.2h-1.8zM604.1 666.3h1.8v0.2h-1.8zM604.1 662.3h1.8v0.2h-1.8zM596.1 658.3h1.8v0.2h-1.8zM604.1 656.3h1.8v0.2h-1.8zM596.1 666.3h1.8v0.2h-1.8zM662.1 652.5h9.8v1.8h-9.8zM670.1 654.5h1.8v1.8h-1.8zM670.1 656.5h1.8v1.8h-1.8zM668.1 658.5h1.8v1.8h-1.8zM668.1 660.5h1.8v1.8h-1.8zM666.1 662.5h1.8v1.8h-1.8zM666.1 664.5h1.8v1.8h-1.8zM664.1 666.5h1.8v1.8h-1.8zM664.1 668.5h1.8v1.8h-1.8zM664.1 670.5h1.8v1.8h-1.8zM670.1 654.3h1.8v0.2h-1.8zM664.1 668.3h1.8v0.2h-1.8zM664.1 670.3h1.8v0.2h-1.8zM670.1 656.3h1.8v0.2h-1.8zM668.1 660.3h1.8v0.2h-1.8zM666.1 664.3h1.8v0.2h-1.8zM678.1 652.5h5.8v1.8h-5.8zM676.1 654.5h1.8v1.8h-1.8zM684.1 654.5h1.8v1.8h-1.8zM676.1 656.5h1.8v1.8h-1.8zM684.1 656.5h1.8v1.8h-1.8zM676.1 658.5h1.8v1.8h-1.8zM684.1 658.5h1.8v1.8h-1.8zM676.1 660.5h1.8v1.8h-1.8zM684.1 660.5h1.8v1.8h-1.8zM676.1 662.5h1.8v1.8h-1.8zM684.1 662.5h1.8v1.8h-1.8zM676.1 664.5h1.8v1.8h-1.8zM684.1 664.5h1.8v1.8h-1.8zM676.1 666.5h1.8v1.8h-1.8zM684.1 666.5h1.8v1.8h-1.8zM676.1 668.5h1.8v1.8h-1.8zM684.1 668.5h1.8v1.8h-1.8zM678.1 670.5h5.8v1.8h-5.8zM676.1 662.3h1.8v0.2h-1.8zM684.1 660.3h1.8v0.2h-1.8zM684.1 664.3h1.8v0.2h-1.8zM676.1 656.3h1.8v0.2h-1.8zM684.1 668.3h1.8v0.2h-1.8zM676.1 660.3h1.8v0.2h-1.8zM676.1 664.3h1.8v0.2h-1.8zM684.1 658.3h1.8v0.2h-1.8zM676.1 668.3h1.8v0.2h-1.8zM684.1 666.3h1.8v0.2h-1.8zM684.1 662.3h1.8v0.2h-1.8zM676.1 658.3h1.8v0.2h-1.8zM684.1 656.3h1.8v0.2h-1.8zM676.1 666.3h1.8v0.2h-1.8zM744.1 652.5h5.8v1.8h-5.8zM742.1 654.5h1.8v1.8h-1.8zM750.1 654.5h1.8v1.8h-1.8zM742.1 656.5h1.8v1.8h-1.8zM750.1 656.5h1.8v1.8h-1.8zM742.1 658.5h1.8v1.8h-1.8zM750.1 658.5h1.8v1.8h-1.8zM744.1 660.5h5.8v1.8h-5.8zM742.1 662.5h1.8v1.8h-1.8zM750.1 662.5h1.8v1.8h-1.8zM742.1 664.5h1.8v1.8h-1.8zM750.1 664.5h1.8v1.8h-1.8zM742.1 666.5h1.8v1.8h-1.8zM750.1 666.5h1.8v1.8h-1.8zM742.1 668.5h1.8v1.8h-1.8zM750.1 668.5h1.8v1.8h-1.8zM744.1 670.5h5.8v1.8h-5.8zM750.1 664.3h1.8v0.2h-1.8zM742.1 656.3h1.8v0.2h-1.8zM750.1 668.3h1.8v0.2h-1.8zM742.1 664.3h1.8v0.2h-1.8zM750.1 658.3h1.8v0.2h-1.8zM742.1 668.3h1.8v0.2h-1.8zM750.1 666.3h1.8v0.2h-1.8zM742.1 658.3h1.8v0.2h-1.8zM750.1 656.3h1.8v0.2h-1.8zM742.1 666.3h1.8v0.2h-1.8zM758.1 652.5h5.8v1.8h-5.8zM756.1 654.5h1.8v1.8h-1.8zM764.1 654.5h1.8v1.8h-1.8zM756.1 656.5h1.8v1.8h-1.8zM764.1 656.5h1.8v1.8h-1.8zM756.1 658.5h1.8v1.8h-1.8zM764.1 658.5h1.8v1.8h-1.8zM756.1 660.5h1.8v1.8h-1.8zM764.1 660.5h1.8v1.8h-1.8zM756.1 662.5h1.8v1.8h-1.8zM764.1 662.5h1.8v1.8h-1.8zM756.1 664.5h1.8v1.8h-1.8zM764.1 664.5h1.8v1.8h-1.8zM756.1 666.5h1.8v1.8h-1.8zM764.1 666.5h1.8v1.8h-1.8zM756.1 668.5h1.8v1.8h-1.8zM764.1 668.5h1.8v1.8h-1.8zM758.1 670.5h5.8v1.8h-5.8zM756.1 662.3h1.8v0.2h-1.8zM764.1 660.3h1.8v0.2h-1.8zM764.1 664.3h1.8v0.2h-1.8zM756.1 656.3h1.8v0.2h-1.8zM764.1 668.3h1.8v0.2h-1.8zM756.1 660.3h1.8v0.2h-1.8zM756.1 664.3h1.8v0.2h-1.8zM764.1 658.3h1.8v0.2h-1.8zM756.1 668.3h1.8v0.2h-1.8zM764.1 666.3h1.8v0.2h-1.8zM764.1 662.3h1.8v0.2h-1.8zM756.1 658.3h1.8v0.2h-1.8zM764.1 656.3h1.8v0.2h-1.8zM756.1 666.3h1.8v0.2h-1.8zM824.1 652.5h5.8v1.8h-5.8zM822.1 654.5h1.8v1.8h-1.8zM830.1 654.5h1.8v1.8h-1.8zM822.1 656.5h1.8v1.8h-1.8zM830.1 656.5h1.8v1.8h-1.8zM822.1 658.5h1.8v1.8h-1.8zM830.1 658.5h1.8v1.8h-1.8zM822.1 660.5h1.8v1.8h-1.8zM828.1 660.5h3.8v1.8h-3.8zM824.1 662.5h3.8v1.8h-3.8zM830.1 662.5h1.8v1.8h-1.8zM830.1 664.5h1.8v1.8h-1.8zM830.1 666.5h1.8v1.8h-1.8zM822.1 668.5h1.8v1.8h-1.8zM830.1 668.5h1.8v1.8h-1.8zM824.1 670.5h5.8v1.8h-5.8zM830.1 660.3h1.8v0.2h-1.8zM830.1 664.3h1.8v0.2h-1.8zM822.1 656.3h1.8v0.2h-1.8zM830.1 668.3h1.8v0.2h-1.8zM822.1 660.3h1.8v0.2h-1.8zM830.1 658.3h1.8v0.2h-1.8zM830.1 666.3h1.8v0.2h-1.8zM830.1 662.3h1.8v0.2h-1.8zM822.1 658.3h1.8v0.2h-1.8zM830.1 656.3h1.8v0.2h-1.8zM838.1 652.5h5.8v1.8h-5.8zM836.1 654.5h1.8v1.8h-1.8zM844.1 654.5h1.8v1.8h-1.8zM836.1 656.5h1.8v1.8h-1.8zM844.1 656.5h1.8v1.8h-1.8zM836.1 658.5h1.8v1.8h-1.8zM844.1 658.5h1.8v1.8h-1.8zM836.1 660.5h1.8v1.8h-1.8zM844.1 660.5h1.8v1.8h-1.8zM836.1 662.5h1.8v1.8h-1.8zM844.1 662.5h1.8v1.8h-1.8zM836.1 664.5h1.8v1.8h-1.8zM844.1 664.5h1.8v1.8h-1.8zM836.1 666.5h1.8v1.8h-1.8zM844.1 666.5h1.8v1.8h-1.8zM836.1 668.5h1.8v1.8h-1.8zM844.1 668.5h1.8v1.8h-1.8zM838.1 670.5h5.8v1.8h-5.8zM836.1 662.3h1.8v0.2h-1.8zM844.1 660.3h1.8v0.2h-1.8zM844.1 664.3h1.8v0.2h-1.8zM836.1 656.3h1.8v0.2h-1.8zM844.1 668.3h1.8v0.2h-1.8zM836.1 660.3h1.8v0.2h-1.8zM836.1 664.3h1.8v0.2h-1.8zM844.1 658.3h1.8v0.2h-1.8zM836.1 668.3h1.8v0.2h-1.8zM844.1 666.3h1.8v0.2h-1.8zM844.1 662.3h1.8v0.2h-1.8zM836.1 658.3h1.8v0.2h-1.8zM844.1 656.3h1.8v0.2h-1.8zM836.1 666.3h1.8v0.2h-1.8zM898.1 652.5h1.8v1.8h-1.8zM894.1 654.5h5.8v1.8h-5.8zM898.1 656.5h1.8v1.8h-1.8zM898.1 658.5h1.8v1.8h-1.8zM898.1 660.5h1.8v1.8h-1.8zM898.1 662.5h1.8v1.8h-1.8zM898.1 664.5h1.8v1.8h-1.8zM898.1 666.5h1.8v1.8h-1.8zM898.1 668.5h1.8v1.8h-1.8zM898.1 670.5h1.8v1.8h-1.8zM898.1 666.3h1.8v0.2h-1.8zM898.1 656.3h1.8v0.2h-1.8zM898.1 662.3h1.8v0.2h-1.8zM898.1 654.3h1.8v0.2h-1.8zM898.1 668.3h1.8v0.2h-1.8zM898.1 658.3h1.8v0.2h-1.8zM898.1 670.3h1.8v0.2h-1.8zM898.1 660.3h1.8v0.2h-1.8zM898.1 664.3h1.8v0.2h-1.8zM910.1 652.5h5.8v1.8h-5.8zM908.1 654.5h1.8v1.8h-1.8zM916.1 654.5h1.8v1.8h-1.8zM908.1 656.5h1.8v1.8h-1.8zM916.1 656.5h1.8v1.8h-1.8zM908.1 658.5h1.8v1.8h-1.8zM916.1 658.5h1.8v1.8h-1.8zM908.1 660.5h1.8v1.8h-1.8zM916.1 660.5h1.8v1.8h-1.8zM908.1 662.5h1.8v1.8h-1.8zM916.1 662.5h1.8v1.8h-1.8zM908.1 664.5h1.8v1.8h-1.8zM916.1 664.5h1.8v1.8h-1.8zM908.1 666.5h1.8v1.8h-1.8zM916.1 666.5h1.8v1.8h-1.8zM908.1 668.5h1.8v1.8h-1.8zM916.1 668.5h1.8v1.8h-1.8zM910.1 670.5h5.8v1.8h-5.8zM908.1 662.3h1.8v0.2h-1.8zM916.1 660.3h1.8v0.2h-1.8zM916.1 664.3h1.8v0.2h-1.8zM908.1 656.3h1.8v0.2h-1.8zM916.1 668.3h1.8v0.2h-1.8zM908.1 660.3h1.8v0.2h-1.8zM908.1 664.3h1.8v0.2h-1.8zM916.1 658.3h1.8v0.2h-1.8zM908.1 668.3h1.8v0.2h-1.8zM916.1 666.3h1.8v0.2h-1.8zM916.1 662.3h1.8v0.2h-1.8zM908.1 658.3h1.8v0.2h-1.8zM916.1 656.3h1.8v0.2h-1.8zM908.1 666.3h1.8v0.2h-1.8zM924.1 652.5h5.8v1.8h-5.8zM922.1 654.5h1.8v1.8h-1.8zM930.1 654.5h1.8v1.8h-1.8zM922.1 656.5h1.8v1.8h-1.8zM930.1 656.5h1.8v1.8h-1.8zM922.1 658.5h1.8v1.8h-1.8zM930.1 658.5h1.8v1.8h-1.8zM922.1 660.5h1.8v1.8h-1.8zM930.1 660.5h1.8v1.8h-1.8zM922.1 662.5h1.8v1.8h-1.8zM930.1 662.5h1.8v1.8h-1.8zM922.1 664.5h1.8v1.8h-1.8zM930.1 664.5h1.8v1.8h-1.8zM922.1 666.5h1.8v1.8h-1.8zM930.1 666.5h1.8v1.8h-1.8zM922.1 668.5h1.8v1.8h-1.8zM930.1 668.5h1.8v1.8h-1.8zM924.1 670.5h5.8v1.8h-5.8zM922.1 662.3h1.8v0.2h-1.8zM930.1 660.3h1.8v0.2h-1.8zM930.1 664.3h1.8v0.2h-1.8zM922.1 656.3h1.8v0.2h-1.8zM930.1 668.3h1.8v0.2h-1.8zM922.1 660.3h1.8v0.2h-1.8zM922.1 664.3h1.8v0.2h-1.8zM930.1 658.3h1.8v0.2h-1.8zM922.1 668.3h1.8v0.2h-1.8zM930.1 666.3h1.8v0.2h-1.8zM930.1 662.3h1.8v0.2h-1.8zM922.1 658.3h1.8v0.2h-1.8zM930.1 656.3h1.8v0.2h-1.8zM922.1 666.3h1.8v0.2h-1.8z"/></svg>
</body></html>
